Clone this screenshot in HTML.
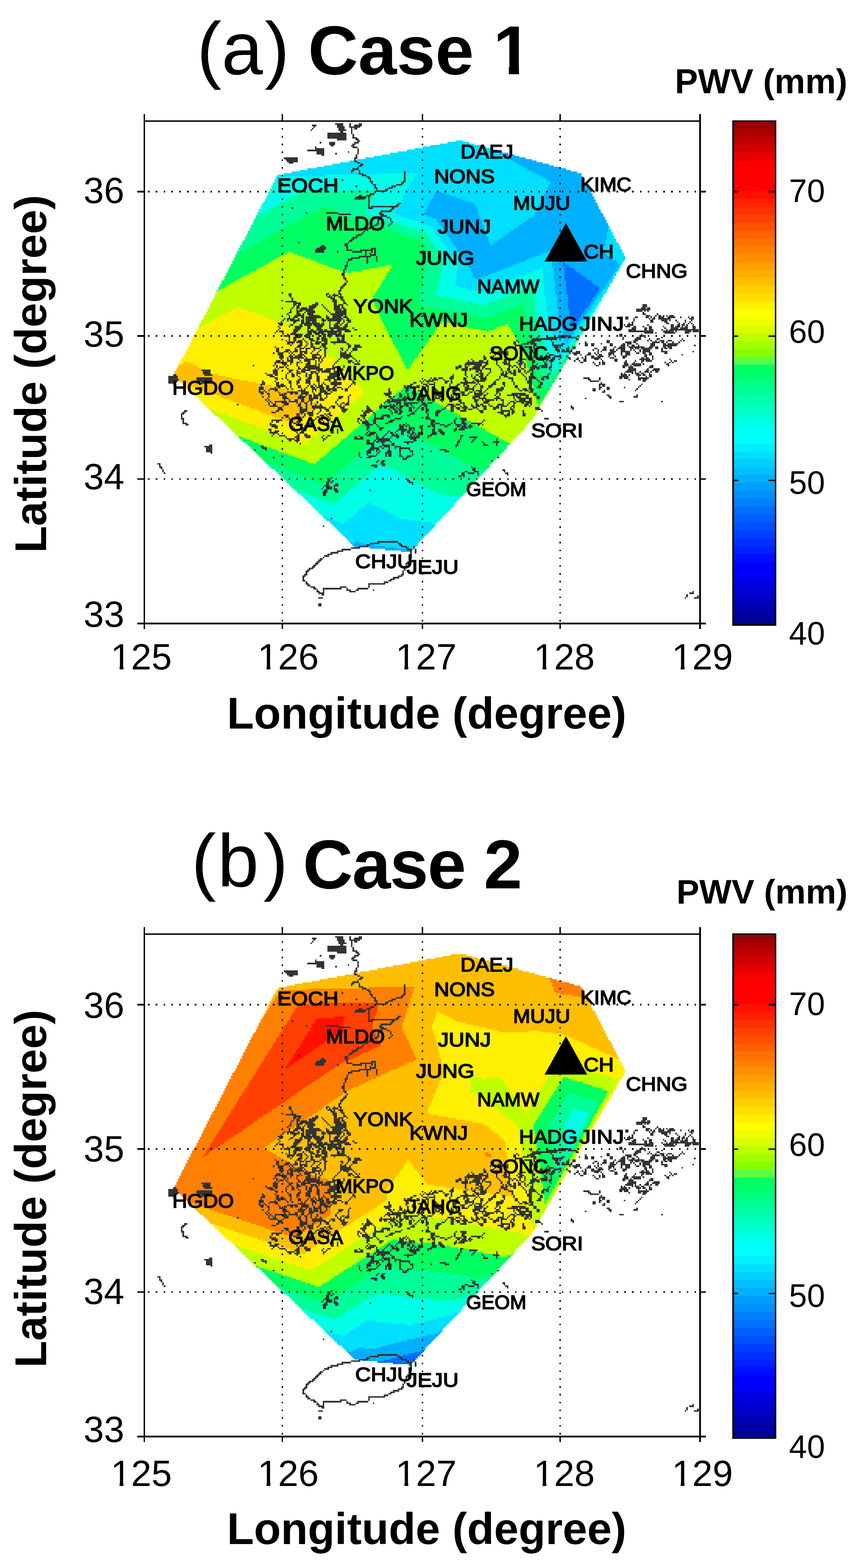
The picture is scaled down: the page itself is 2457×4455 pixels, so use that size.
<!DOCTYPE html>
<html lang="en"><head><meta charset="utf-8"><title>PWV maps: Case 1 and Case 2</title>
<style>html,body{margin:0;padding:0;background:#fff}body{width:2457px;height:4455px;overflow:hidden}svg{display:block;font-family:"Liberation Sans", sans-serif;fill:#000}</style></head><body>
<svg width="2457" height="4455" viewBox="0 0 2457 4455">
<defs>
<clipPath id="c0"><rect x="855" y="14" width="543.6" height="256.1"/><rect x="1398.6" y="14" width="75.4" height="175.3"/><rect x="1445.4" y="188.3" width="28.6" height="24.7"/></clipPath>
<clipPath id="c1"><rect x="312.5" y="1798" width="38.1" height="94.9"/><rect x="339.8" y="1891.9" width="10.8" height="12.1"/><rect x="371.3" y="1798" width="135.6" height="135.2"/></clipPath>
<clipPath id="c2"><rect x="729.8" y="1798" width="38.1" height="94.9"/><rect x="757.1" y="1891.9" width="10.8" height="12.1"/><rect x="788.6" y="1798" width="135.6" height="135.2"/></clipPath>
<clipPath id="c3"><rect x="1121.5" y="1798" width="38.1" height="94.9"/><rect x="1148.8" y="1891.9" width="10.8" height="12.1"/><rect x="1180.3" y="1798" width="135.6" height="135.2"/></clipPath>
<clipPath id="c4"><rect x="1513.8" y="1798" width="38.1" height="94.9"/><rect x="1541.1" y="1891.9" width="10.8" height="12.1"/><rect x="1572.6" y="1798" width="135.6" height="135.2"/></clipPath>
<clipPath id="c5"><rect x="1906.3" y="1798" width="38.1" height="94.9"/><rect x="1933.6" y="1891.9" width="10.8" height="12.1"/><rect x="1965.1" y="1798" width="135.6" height="135.2"/></clipPath>
<clipPath id="c6"><rect x="312.5" y="1808" width="38.1" height="94.9"/><rect x="339.8" y="1901.9" width="10.8" height="12.1"/><rect x="371.3" y="1808" width="135.6" height="135.2"/></clipPath>
<clipPath id="c7"><rect x="729.8" y="1808" width="38.1" height="94.9"/><rect x="757.1" y="1901.9" width="10.8" height="12.1"/><rect x="788.6" y="1808" width="135.6" height="135.2"/></clipPath>
<clipPath id="c8"><rect x="1121.5" y="1808" width="38.1" height="94.9"/><rect x="1148.8" y="1901.9" width="10.8" height="12.1"/><rect x="1180.3" y="1808" width="135.6" height="135.2"/></clipPath>
<clipPath id="c9"><rect x="1513.8" y="1808" width="38.1" height="94.9"/><rect x="1541.1" y="1901.9" width="10.8" height="12.1"/><rect x="1572.6" y="1808" width="135.6" height="135.2"/></clipPath>
<clipPath id="c10"><rect x="1906.3" y="1808" width="38.1" height="94.9"/><rect x="1933.6" y="1901.9" width="10.8" height="12.1"/><rect x="1965.1" y="1808" width="135.6" height="135.2"/></clipPath>
<g id="coast"><path d="M952.4 350h22.2v4.4h-22.2zM992.3 350h4.4v4.4h-4.4zM1018.9 350h8.9v4.4h-8.9zM886 354.4h13.3v4.4h-13.3zM956.9 354.4h17.7v4.4h-17.7zM992.3 354.4h4.4v4.4h-4.4zM1005.6 354.4h22.2v4.4h-22.2zM890.4 358.8h4.5v4.5h-4.5zM956.9 358.8h22.1v4.5h-22.1zM992.3 358.8h31v4.5h-31zM886 363.3h4.4v4.4h-4.4zM961.3 363.3h17.7v4.4h-17.7zM996.7 363.3h4.5v4.4h-4.5zM1005.6 363.3h8.9v4.4h-8.9zM881.6 367.7h4.4v4.4h-4.4zM961.3 367.7h22.2v4.4h-22.2zM996.7 367.7h4.5v4.4h-4.5zM965.7 372.1h8.9v4.4h-8.9zM996.7 372.1h4.5v4.4h-4.5zM930.3 376.5h53.2v4.5h-53.2zM996.7 376.5h4.5v4.5h-4.5zM930.3 381h53.2v4.4h-53.2zM1001.2 381h4.4v4.4h-4.4zM930.3 385.4h53.2v4.4h-53.2zM1001.2 385.4h4.4v4.4h-4.4zM930.3 389.8h53.2v4.5h-53.2zM1001.2 389.8h13.3v4.5h-13.3zM956.9 394.3h26.6v4.4h-26.6zM1010 394.3h8.9v4.4h-8.9zM1014.5 398.7h8.8v4.4h-8.8zM908.1 403.1h4.5v4.5h-4.5zM934.7 403.1h17.7v4.5h-17.7zM1005.6 403.1h13.3v4.5h-13.3zM934.7 407.6h17.7v4.4h-17.7zM1001.2 407.6h8.8v4.4h-8.8zM939.2 412h8.8v4.4h-8.8zM996.7 412h8.9v4.4h-8.9zM894.9 416.4h4.4v4.4h-4.4zM1001.2 416.4h13.3v4.4h-13.3zM894.9 420.8h26.5v4.5h-26.5zM1014.5 420.8h4.4v4.5h-4.4zM872.7 425.3h48.7v4.4h-48.7zM1014.5 425.3h4.4v4.4h-4.4zM899.3 429.7h22.1v4.4h-22.1zM987.9 429.7h4.4v4.4h-4.4zM1014.5 429.7h4.4v4.4h-4.4zM899.3 434.1h22.1v4.5h-22.1zM952.4 434.1h4.5v4.5h-4.5zM1014.5 434.1h4.4v4.5h-4.4zM912.6 438.6h8.8v4.4h-8.8zM1010 438.6h4.5v4.4h-4.5zM1010 443h4.5v4.4h-4.5zM806.3 447.4h39.8v4.5h-39.8zM1005.6 447.4h8.9v4.5h-8.9zM810.7 451.9h35.4v4.4h-35.4zM1005.6 451.9h4.4v4.4h-4.4zM815.1 456.3h31v4.4h-31zM1005.6 456.3h8.9v4.4h-8.9zM819.5 460.7h13.3v4.4h-13.3zM1014.5 460.7h8.8v4.4h-8.8zM1023.3 465.1h8.9v4.5h-8.9zM1018.9 469.6h8.9v4.4h-8.9zM1014.5 474h4.4v4.4h-4.4zM1001.2 478.4h17.7v4.5h-17.7zM996.7 482.9h8.9v4.4h-8.9zM1018.9 482.9h4.4v4.4h-4.4zM996.7 487.3h4.5v4.4h-4.5zM1018.9 487.3h4.4v4.4h-4.4zM1147.4 487.3h4.4v4.4h-4.4zM1018.9 491.7h13.3v4.5h-13.3zM1147.4 491.7h4.4v4.5h-4.4zM1027.8 496.2h13.2v4.4h-13.2zM1147.4 496.2h4.4v4.4h-4.4zM1041 500.6h8.9v4.4h-8.9zM1147.4 500.6h4.4v4.4h-4.4zM1045.5 505h8.8v4.4h-8.8zM1147.4 505h4.4v4.4h-4.4zM970.2 509.4h4.4v4.5h-4.4zM1049.9 509.4h4.4v4.5h-4.4zM1147.4 509.4h4.4v4.5h-4.4zM1049.9 513.9h8.9v4.4h-8.9zM1142.9 513.9h8.9v4.4h-8.9zM1054.3 518.3h4.5v4.4h-4.5zM1138.5 518.3h8.9v4.4h-8.9zM1058.8 522.7h8.8v4.5h-8.8zM1125.2 522.7h17.7v4.5h-17.7zM1010 527.2h4.5v4.4h-4.5zM1063.2 527.2h4.4v4.4h-4.4zM1111.9 527.2h13.3v4.4h-13.3zM1063.2 531.6h8.9v4.4h-8.9zM1103.1 531.6h13.3v4.4h-13.3zM1067.6 536h4.5v4.5h-4.5zM1094.2 536h8.9v4.5h-8.9zM1067.6 540.5h31v4.4h-31zM1063.2 544.9h4.4v4.4h-4.4zM1049.9 549.3h13.3v4.5h-13.3zM1018.9 553.8h8.9v4.4h-8.9zM1041 553.8h13.3v4.4h-13.3zM1010 558.2h31v4.4h-31zM1045.5 558.2h4.4v4.4h-4.4zM1005.6 562.6h31v4.4h-31zM1045.5 562.6h4.4v4.4h-4.4zM1045.5 567h4.4v4.5h-4.4zM1045.5 571.5h4.4v4.4h-4.4zM1045.5 575.9h4.4v4.4h-4.4zM1129.6 575.9h8.9v4.4h-8.9zM1045.5 580.3h4.4v4.5h-4.4zM1125.2 580.3h8.9v4.5h-8.9zM1045.5 584.8h4.4v4.4h-4.4zM1054.3 584.8h75.3v4.4h-75.3zM828.4 589.2h4.4v4.4h-4.4zM1045.5 589.2h13.3v4.4h-13.3zM1111.9 589.2h8.9v4.4h-8.9zM1107.5 593.6h8.9v4.4h-8.9zM1080.9 598h31v4.5h-31zM868.3 602.5h4.4v4.4h-4.4zM925.9 602.5h35.4v4.4h-35.4zM1076.5 602.5h8.8v4.4h-8.8zM961.3 606.9h35.4v4.4h-35.4zM1076.5 606.9h13.3v4.4h-13.3zM1080.9 611.3h17.7v4.5h-17.7zM1076.5 615.8h8.8v4.4h-8.8zM1098.6 615.8h8.9v4.4h-8.9zM1072.1 620.2h8.8v4.4h-8.8zM1107.5 620.2h4.4v4.4h-4.4zM1072.1 624.6h4.4v4.5h-4.4zM1107.5 624.6h4.4v4.5h-4.4zM1072.1 629.1h4.4v4.4h-4.4zM1111.9 629.1h4.5v4.4h-4.5zM1067.6 633.5h8.9v4.4h-8.9zM1107.5 633.5h4.4v4.4h-4.4zM1063.2 637.9h8.9v4.4h-8.9zM1103.1 637.9h4.4v4.4h-4.4zM1049.9 642.3h13.3v4.5h-13.3zM1041 646.8h13.3v4.4h-13.3zM1036.6 651.2h8.9v4.4h-8.9zM1032.2 655.6h4.4v4.5h-4.4zM1027.8 660.1h4.4v4.4h-4.4zM1014.5 664.5h13.3v4.4h-13.3zM1010 668.9h8.9v4.5h-8.9zM1001.2 673.4h13.3v4.4h-13.3zM996.7 677.8h8.9v4.4h-8.9zM992.3 682.2h8.9v4.4h-8.9zM846.1 686.6h4.5v4.5h-4.5zM987.9 686.6h4.4v4.5h-4.4zM979 691.1h8.9v4.4h-8.9zM912.6 695.5h8.8v4.4h-8.8zM979 695.5h8.9v4.4h-8.9zM908.1 699.9h17.8v4.5h-17.8zM983.5 699.9h4.4v4.5h-4.4zM899.3 704.4h26.6v4.4h-26.6zM983.5 704.4h4.4v4.4h-4.4zM1054.3 704.4h13.3v4.4h-13.3zM894.9 708.8h26.5v4.4h-26.5zM983.5 708.8h17.7v4.4h-17.7zM1023.3 708.8h35.5v4.4h-35.5zM1063.2 708.8h4.4v4.4h-4.4zM894.9 713.2h26.5v4.5h-26.5zM956.9 713.2h4.4v4.5h-4.4zM1001.2 713.2h26.6v4.5h-26.6zM1036.6 713.2h4.4v4.5h-4.4zM1054.3 713.2h4.5v4.5h-4.5zM1063.2 713.2h4.4v4.5h-4.4zM1036.6 717.7h4.4v4.4h-4.4zM1049.9 717.7h4.4v4.4h-4.4zM1063.2 717.7h4.4v4.4h-4.4zM1036.6 722.1h4.4v4.4h-4.4zM1049.9 722.1h17.7v4.4h-17.7zM1018.9 726.5h35.4v4.4h-35.4zM1067.6 726.5h4.5v4.4h-4.5zM996.7 730.9h26.6v4.5h-26.6zM1041 730.9h4.5v4.5h-4.5zM1067.6 730.9h4.5v4.5h-4.5zM987.9 735.4h13.3v4.4h-13.3zM1041 735.4h4.5v4.4h-4.5zM1067.6 735.4h4.5v4.4h-4.5zM987.9 739.8h4.4v4.4h-4.4zM1041 739.8h4.5v4.4h-4.5zM1067.6 739.8h4.5v4.4h-4.5zM983.5 744.2h4.4v4.5h-4.4zM1041 744.2h4.5v4.5h-4.5zM983.5 748.7h4.4v4.4h-4.4zM979 753.1h8.9v4.4h-8.9zM979 757.5h4.5v4.5h-4.5zM979 762h4.5v4.4h-4.5zM974.6 766.4h4.4v4.4h-4.4zM974.6 770.8h4.4v4.4h-4.4zM970.2 775.2h8.8v4.5h-8.8zM970.2 779.7h8.8v4.4h-8.8zM974.6 784.1h4.4v4.4h-4.4zM974.6 788.5h8.9v4.5h-8.9zM979 793h4.5v4.4h-4.5zM983.5 797.4h4.4v4.4h-4.4zM979 801.8h4.5v4.5h-4.5zM974.6 806.3h8.9v4.4h-8.9zM970.2 810.7h8.8v4.4h-8.8zM965.7 815.1h8.9v4.4h-8.9zM965.7 819.5h4.5v4.5h-4.5zM961.3 824h8.9v4.4h-8.9zM961.3 828.4h4.4v4.4h-4.4zM819.5 832.8h8.9v4.5h-8.9zM925.9 832.8h8.8v4.5h-8.8zM948 832.8h4.4v4.5h-4.4zM961.3 832.8h8.9v4.5h-8.9zM819.5 837.3h8.9v4.4h-8.9zM925.9 837.3h4.4v4.4h-4.4zM934.7 837.3h4.5v4.4h-4.5zM943.6 837.3h17.7v4.4h-17.7zM965.7 837.3h4.5v4.4h-4.5zM824 841.7h4.4v4.4h-4.4zM930.3 841.7h13.3v4.4h-13.3zM948 841.7h4.4v4.4h-4.4zM961.3 841.7h13.3v4.4h-13.3zM828.4 846.1h4.4v4.5h-4.4zM939.2 846.1h13.2v4.5h-13.2zM965.7 846.1h8.9v4.5h-8.9zM828.4 850.6h4.4v4.4h-4.4zM943.6 850.6h13.3v4.4h-13.3zM970.2 850.6h8.8v4.4h-8.8zM810.7 855h31v4.4h-31zM943.6 855h13.3v4.4h-13.3zM974.6 855h4.4v4.4h-4.4zM832.8 859.4h22.2v4.4h-22.2zM894.9 859.4h8.8v4.4h-8.8zM948 859.4h8.9v4.4h-8.9zM974.6 859.4h8.9v4.4h-8.9zM832.8 863.8h8.9v4.5h-8.9zM846.1 863.8h8.9v4.5h-8.9zM886 863.8h17.7v4.5h-17.7zM912.6 863.8h4.4v4.5h-4.4zM948 863.8h8.9v4.5h-8.9zM961.3 863.8h13.3v4.5h-13.3zM983.5 863.8h4.4v4.5h-4.4zM1825.2 863.8h13.2v4.5h-13.2zM832.8 868.3h4.5v4.4h-4.5zM841.7 868.3h8.9v4.4h-8.9zM877.1 868.3h22.2v4.4h-22.2zM917 868.3h4.4v4.4h-4.4zM948 868.3h17.7v4.4h-17.7zM970.2 868.3h4.4v4.4h-4.4zM1825.2 868.3h13.2v4.4h-13.2zM828.4 872.7h4.4v4.4h-4.4zM841.7 872.7h8.9v4.4h-8.9zM855 872.7h17.7v4.4h-17.7zM877.1 872.7h17.8v4.4h-17.8zM921.4 872.7h4.5v4.4h-4.5zM948 872.7h17.7v4.4h-17.7zM970.2 872.7h8.8v4.4h-8.8zM1820.7 872.7h13.3v4.4h-13.3zM1838.4 872.7h8.9v4.4h-8.9zM824 877.1h4.4v4.5h-4.4zM841.7 877.1h4.4v4.5h-4.4zM850.6 877.1h39.8v4.5h-39.8zM925.9 877.1h4.4v4.5h-4.4zM948 877.1h22.2v4.5h-22.2zM974.6 877.1h8.9v4.5h-8.9zM1807.4 877.1h39.9v4.5h-39.9zM824 881.6h4.4v4.4h-4.4zM841.7 881.6h17.7v4.4h-17.7zM868.3 881.6h26.6v4.4h-26.6zM930.3 881.6h4.4v4.4h-4.4zM952.4 881.6h31.1v4.4h-31.1zM1807.4 881.6h17.8v4.4h-17.8zM1829.6 881.6h4.4v4.4h-4.4zM1838.4 881.6h4.5v4.4h-4.5zM819.5 886h8.9v4.4h-8.9zM841.7 886h8.9v4.4h-8.9zM863.8 886h4.5v4.4h-4.5zM872.7 886h22.2v4.4h-22.2zM934.7 886h4.5v4.4h-4.5zM952.4 886h31.1v4.4h-31.1zM1825.2 886h4.4v4.4h-4.4zM815.1 890.4h4.4v4.5h-4.4zM841.7 890.4h13.3v4.5h-13.3zM859.4 890.4h4.4v4.5h-4.4zM872.7 890.4h17.7v4.5h-17.7zM939.2 890.4h44.3v4.5h-44.3zM1825.2 890.4h8.8v4.5h-8.8zM1865 890.4h4.5v4.5h-4.5zM819.5 894.9h4.5v4.4h-4.5zM837.3 894.9h26.5v4.4h-26.5zM877.1 894.9h31v4.4h-31zM925.9 894.9h4.4v4.4h-4.4zM943.6 894.9h31v4.4h-31zM979 894.9h4.5v4.4h-4.5zM1834 894.9h13.3v4.4h-13.3zM1860.6 894.9h4.4v4.4h-4.4zM1869.5 894.9h8.8v4.4h-8.8zM1882.7 894.9h4.5v4.4h-4.5zM1891.6 894.9h4.4v4.4h-4.4zM1900.5 894.9h13.3v4.4h-13.3zM819.5 899.3h4.5v4.4h-4.5zM832.8 899.3h13.3v4.4h-13.3zM855 899.3h8.8v4.4h-8.8zM868.3 899.3h44.3v4.4h-44.3zM925.9 899.3h8.8v4.4h-8.8zM943.6 899.3h26.6v4.4h-26.6zM974.6 899.3h13.3v4.4h-13.3zM1776.4 899.3h8.9v4.4h-8.9zM1803 899.3h8.9v4.4h-8.9zM1834 899.3h8.9v4.4h-8.9zM1847.3 899.3h4.4v4.4h-4.4zM1856.2 899.3h4.4v4.4h-4.4zM1869.5 899.3h17.7v4.4h-17.7zM1896 899.3h22.2v4.4h-22.2zM1931.5 899.3h4.4v4.4h-4.4zM1953.6 899.3h4.5v4.4h-4.5zM1962.5 899.3h8.8v4.4h-8.8zM806.3 903.7h4.4v4.4h-4.4zM815.1 903.7h22.2v4.4h-22.2zM846.1 903.7h4.5v4.4h-4.5zM859.4 903.7h4.4v4.4h-4.4zM868.3 903.7h31v4.4h-31zM912.6 903.7h8.8v4.4h-8.8zM925.9 903.7h48.7v4.4h-48.7zM983.5 903.7h8.8v4.4h-8.8zM1776.4 903.7h8.9v4.4h-8.9zM1798.6 903.7h4.4v4.4h-4.4zM1842.9 903.7h4.4v4.4h-4.4zM1851.7 903.7h8.9v4.4h-8.9zM1869.5 903.7h35.4v4.4h-35.4zM1958.1 903.7h13.2v4.4h-13.2zM801.8 908.1h4.5v4.5h-4.5zM815.1 908.1h4.4v4.5h-4.4zM824 908.1h26.6v4.5h-26.6zM855 908.1h8.8v4.5h-8.8zM868.3 908.1h31v4.5h-31zM912.6 908.1h13.3v4.5h-13.3zM930.3 908.1h39.9v4.5h-39.9zM974.6 908.1h4.4v4.5h-4.4zM983.5 908.1h13.2v4.5h-13.2zM1798.6 908.1h4.4v4.5h-4.4zM1847.3 908.1h8.9v4.5h-8.9zM1878.3 908.1h17.7v4.5h-17.7zM1900.5 908.1h4.4v4.5h-4.4zM1918.2 908.1h4.4v4.5h-4.4zM1944.8 908.1h4.4v4.5h-4.4zM1962.5 908.1h4.4v4.5h-4.4zM797.4 912.6h4.4v4.4h-4.4zM832.8 912.6h8.9v4.4h-8.9zM855 912.6h8.8v4.4h-8.8zM868.3 912.6h13.3v4.4h-13.3zM886 912.6h13.3v4.4h-13.3zM917 912.6h4.4v4.4h-4.4zM934.7 912.6h4.5v4.4h-4.5zM956.9 912.6h8.8v4.4h-8.8zM974.6 912.6h4.4v4.4h-4.4zM987.9 912.6h8.8v4.4h-8.8zM1794.1 912.6h4.5v4.4h-4.5zM1847.3 912.6h8.9v4.4h-8.9zM1887.2 912.6h8.8v4.4h-8.8zM1922.6 912.6h4.4v4.4h-4.4zM1944.8 912.6h4.4v4.4h-4.4zM1958.1 912.6h4.4v4.4h-4.4zM788.5 917h13.3v4.4h-13.3zM832.8 917h4.5v4.4h-4.5zM855 917h53.1v4.4h-53.1zM912.6 917h8.8v4.4h-8.8zM934.7 917h4.5v4.4h-4.5zM952.4 917h13.3v4.4h-13.3zM970.2 917h4.4v4.4h-4.4zM983.5 917h4.4v4.4h-4.4zM1785.3 917h4.4v4.4h-4.4zM1794.1 917h4.5v4.4h-4.5zM1891.6 917h8.9v4.4h-8.9zM1927 917h4.5v4.4h-4.5zM1940.3 917h4.5v4.4h-4.5zM1953.6 917h4.5v4.4h-4.5zM1962.5 917h4.4v4.4h-4.4zM793 921.4h8.8v4.5h-8.8zM824 921.4h8.8v4.5h-8.8zM850.6 921.4h8.8v4.5h-8.8zM863.8 921.4h22.2v4.5h-22.2zM890.4 921.4h31v4.5h-31zM934.7 921.4h4.5v4.5h-4.5zM948 921.4h13.3v4.5h-13.3zM965.7 921.4h4.5v4.5h-4.5zM979 921.4h8.9v4.5h-8.9zM1772 921.4h4.4v4.5h-4.4zM1780.9 921.4h17.7v4.5h-17.7zM1838.4 921.4h4.5v4.5h-4.5zM1904.9 921.4h8.9v4.5h-8.9zM1922.6 921.4h8.9v4.5h-8.9zM1935.9 921.4h8.9v4.5h-8.9zM1949.2 921.4h4.4v4.5h-4.4zM1966.9 921.4h4.4v4.5h-4.4zM788.5 925.9h4.5v4.4h-4.5zM819.5 925.9h4.5v4.4h-4.5zM837.3 925.9h22.1v4.4h-22.1zM872.7 925.9h8.9v4.4h-8.9zM894.9 925.9h22.1v4.4h-22.1zM934.7 925.9h4.5v4.4h-4.5zM948 925.9h17.7v4.4h-17.7zM974.6 925.9h13.3v4.4h-13.3zM1776.4 925.9h13.3v4.4h-13.3zM1798.6 925.9h8.8v4.4h-8.8zM1825.2 925.9h4.4v4.4h-4.4zM1842.9 925.9h8.8v4.4h-8.8zM1882.7 925.9h4.5v4.4h-4.5zM1904.9 925.9h8.9v4.4h-8.9zM1918.2 925.9h13.3v4.4h-13.3zM1935.9 925.9h4.4v4.4h-4.4zM1944.8 925.9h8.8v4.4h-8.8zM1966.9 925.9h8.9v4.4h-8.9zM793 930.3h4.4v4.4h-4.4zM837.3 930.3h17.7v4.4h-17.7zM872.7 930.3h8.9v4.4h-8.9zM899.3 930.3h13.3v4.4h-13.3zM934.7 930.3h48.8v4.4h-48.8zM1001.2 930.3h4.4v4.4h-4.4zM1794.1 930.3h13.3v4.4h-13.3zM1829.6 930.3h8.8v4.4h-8.8zM1842.9 930.3h8.8v4.4h-8.8zM1887.2 930.3h4.4v4.4h-4.4zM1904.9 930.3h22.1v4.4h-22.1zM1931.5 930.3h22.1v4.4h-22.1zM1966.9 930.3h8.9v4.4h-8.9zM788.5 934.7h4.5v4.5h-4.5zM832.8 934.7h17.8v4.5h-17.8zM872.7 934.7h4.4v4.5h-4.4zM881.6 934.7h8.8v4.5h-8.8zM899.3 934.7h17.7v4.5h-17.7zM921.4 934.7h8.9v4.5h-8.9zM939.2 934.7h8.8v4.5h-8.8zM956.9 934.7h35.4v4.5h-35.4zM1005.6 934.7h8.9v4.5h-8.9zM1785.3 934.7h22.1v4.5h-22.1zM1829.6 934.7h8.8v4.5h-8.8zM1842.9 934.7h13.3v4.5h-13.3zM1878.3 934.7h4.4v4.5h-4.4zM1891.6 934.7h4.4v4.5h-4.4zM1900.5 934.7h84.1v4.5h-84.1zM784.1 939.2h4.4v4.4h-4.4zM793 939.2h13.3v4.4h-13.3zM832.8 939.2h13.3v4.4h-13.3zM872.7 939.2h26.6v4.4h-26.6zM903.7 939.2h66.5v4.4h-66.5zM979 939.2h17.7v4.4h-17.7zM1785.3 939.2h70.9v4.4h-70.9zM1882.7 939.2h31.1v4.4h-31.1zM1918.2 939.2h4.4v4.4h-4.4zM1944.8 939.2h17.7v4.4h-17.7zM1966.9 939.2h17.7v4.4h-17.7zM779.7 943.6h4.4v4.4h-4.4zM801.8 943.6h4.5v4.4h-4.5zM828.4 943.6h13.3v4.4h-13.3zM872.7 943.6h13.3v4.4h-13.3zM890.4 943.6h31v4.4h-31zM930.3 943.6h26.6v4.4h-26.6zM961.3 943.6h8.9v4.4h-8.9zM1829.6 943.6h26.6v4.4h-26.6zM1860.6 943.6h4.4v4.4h-4.4zM1887.2 943.6h31v4.4h-31zM1944.8 943.6h13.3v4.4h-13.3zM801.8 948h4.5v4.4h-4.5zM815.1 948h4.4v4.4h-4.4zM824 948h35.4v4.4h-35.4zM868.3 948h17.7v4.4h-17.7zM894.9 948h13.2v4.4h-13.2zM912.6 948h13.3v4.4h-13.3zM930.3 948h39.9v4.4h-39.9zM974.6 948h4.4v4.4h-4.4zM1758.7 948h8.9v4.4h-8.9zM1820.7 948h4.5v4.4h-4.5zM806.3 952.4h17.7v4.5h-17.7zM837.3 952.4h22.1v4.5h-22.1zM868.3 952.4h13.3v4.5h-13.3zM903.7 952.4h4.4v4.5h-4.4zM917 952.4h8.9v4.5h-8.9zM930.3 952.4h13.3v4.5h-13.3zM956.9 952.4h17.7v4.5h-17.7zM1501.8 952.4h4.4v4.5h-4.4zM1585.9 952.4h31v4.5h-31zM1758.7 952.4h8.9v4.5h-8.9zM1816.3 952.4h17.7v4.5h-17.7zM819.5 956.9h4.5v4.4h-4.5zM832.8 956.9h22.2v4.4h-22.2zM868.3 956.9h13.3v4.4h-13.3zM899.3 956.9h8.8v4.4h-8.8zM912.6 956.9h13.3v4.4h-13.3zM934.7 956.9h4.5v4.4h-4.5zM956.9 956.9h4.4v4.4h-4.4zM970.2 956.9h8.8v4.4h-8.8zM1506.2 956.9h4.4v4.4h-4.4zM1523.9 956.9h4.4v4.4h-4.4zM1550.5 956.9h57.6v4.4h-57.6zM1612.5 956.9h26.6v4.4h-26.6zM1767.6 956.9h4.4v4.4h-4.4zM1807.4 956.9h13.3v4.4h-13.3zM1829.6 956.9h4.4v4.4h-4.4zM1878.3 956.9h4.4v4.4h-4.4zM819.5 961.3h4.5v4.4h-4.5zM832.8 961.3h8.9v4.4h-8.9zM859.4 961.3h4.4v4.4h-4.4zM877.1 961.3h13.3v4.4h-13.3zM899.3 961.3h8.8v4.4h-8.8zM912.6 961.3h17.7v4.4h-17.7zM956.9 961.3h8.8v4.4h-8.8zM970.2 961.3h8.8v4.4h-8.8zM1510.6 961.3h70.9v4.4h-70.9zM1634.7 961.3h8.8v4.4h-8.8zM1767.6 961.3h4.4v4.4h-4.4zM1803 961.3h17.7v4.4h-17.7zM1842.9 961.3h4.4v4.4h-4.4zM1865 961.3h8.9v4.4h-8.9zM1935.9 961.3h4.4v4.4h-4.4zM810.7 965.7h4.4v4.5h-4.4zM819.5 965.7h4.5v4.5h-4.5zM832.8 965.7h8.9v4.5h-8.9zM846.1 965.7h13.3v4.5h-13.3zM863.8 965.7h4.5v4.5h-4.5zM881.6 965.7h13.3v4.5h-13.3zM899.3 965.7h4.4v4.5h-4.4zM912.6 965.7h17.7v4.5h-17.7zM956.9 965.7h22.1v4.5h-22.1zM1466.3 965.7h4.5v4.5h-4.5zM1506.2 965.7h31v4.5h-31zM1563.8 965.7h4.4v4.5h-4.4zM1723.3 965.7h8.8v4.5h-8.8zM1798.6 965.7h13.3v4.5h-13.3zM1838.4 965.7h4.5v4.5h-4.5zM1847.3 965.7h4.4v4.5h-4.4zM1860.6 965.7h4.4v4.5h-4.4zM1873.9 965.7h13.3v4.5h-13.3zM1896 965.7h13.3v4.5h-13.3zM1931.5 965.7h4.4v4.5h-4.4zM1940.3 965.7h4.5v4.5h-4.5zM815.1 970.2h22.2v4.4h-22.2zM841.7 970.2h17.7v4.4h-17.7zM868.3 970.2h4.4v4.4h-4.4zM881.6 970.2h4.4v4.4h-4.4zM894.9 970.2h17.7v4.4h-17.7zM921.4 970.2h8.9v4.4h-8.9zM939.2 970.2h44.3v4.4h-44.3zM1457.5 970.2h8.8v4.4h-8.8zM1470.8 970.2h4.4v4.4h-4.4zM1497.3 970.2h22.2v4.4h-22.2zM1568.2 970.2h4.4v4.4h-4.4zM1661.2 970.2h4.5v4.4h-4.5zM1723.3 970.2h8.8v4.4h-8.8zM1776.4 970.2h17.7v4.4h-17.7zM1798.6 970.2h8.8v4.4h-8.8zM1851.7 970.2h22.2v4.4h-22.2zM1878.3 970.2h8.9v4.4h-8.9zM1891.6 970.2h4.4v4.4h-4.4zM1909.3 970.2h4.5v4.4h-4.5zM1927 970.2h4.5v4.4h-4.5zM815.1 974.6h8.9v4.4h-8.9zM828.4 974.6h4.4v4.4h-4.4zM850.6 974.6h8.8v4.4h-8.8zM872.7 974.6h4.4v4.4h-4.4zM881.6 974.6h8.8v4.4h-8.8zM894.9 974.6h13.2v4.4h-13.2zM912.6 974.6h17.7v4.4h-17.7zM948 974.6h4.4v4.4h-4.4zM983.5 974.6h8.8v4.4h-8.8zM1457.5 974.6h8.8v4.4h-8.8zM1484 974.6h17.8v4.4h-17.8zM1506.2 974.6h17.7v4.4h-17.7zM1568.2 974.6h4.4v4.4h-4.4zM1594.8 974.6h8.9v4.4h-8.9zM1643.5 974.6h4.5v4.4h-4.5zM1661.2 974.6h8.9v4.4h-8.9zM1679 974.6h8.8v4.4h-8.8zM1705.5 974.6h4.5v4.4h-4.5zM1732.1 974.6h8.9v4.4h-8.9zM1767.6 974.6h8.8v4.4h-8.8zM1780.9 974.6h13.2v4.4h-13.2zM1807.4 974.6h4.5v4.4h-4.5zM1847.3 974.6h13.3v4.4h-13.3zM1882.7 974.6h8.9v4.4h-8.9zM1896 974.6h31v4.4h-31zM824 979h4.4v4.5h-4.4zM846.1 979h13.3v4.5h-13.3zM868.3 979h4.4v4.5h-4.4zM881.6 979h8.8v4.5h-8.8zM912.6 979h13.3v4.5h-13.3zM987.9 979h8.8v4.5h-8.8zM1005.6 979h17.7v4.5h-17.7zM1461.9 979h22.1v4.5h-22.1zM1515.1 979h8.8v4.5h-8.8zM1568.2 979h31v4.5h-31zM1661.2 979h8.9v4.5h-8.9zM1679 979h8.8v4.5h-8.8zM1732.1 979h8.9v4.5h-8.9zM1763.1 979h13.3v4.5h-13.3zM1780.9 979h4.4v4.5h-4.4zM1794.1 979h8.9v4.5h-8.9zM1811.9 979h4.4v4.5h-4.4zM1847.3 979h13.3v4.5h-13.3zM1882.7 979h39.9v4.5h-39.9zM1971.3 979h4.5v4.5h-4.5zM779.7 983.5h4.4v4.4h-4.4zM841.7 983.5h13.3v4.4h-13.3zM863.8 983.5h4.5v4.4h-4.5zM881.6 983.5h13.3v4.4h-13.3zM908.1 983.5h4.5v4.4h-4.5zM917 983.5h8.9v4.4h-8.9zM987.9 983.5h8.8v4.4h-8.8zM1005.6 983.5h22.2v4.4h-22.2zM1461.9 983.5h4.4v4.4h-4.4zM1475.2 983.5h8.8v4.4h-8.8zM1488.5 983.5h17.7v4.4h-17.7zM1515.1 983.5h4.4v4.4h-4.4zM1523.9 983.5h8.9v4.4h-8.9zM1572.6 983.5h13.3v4.4h-13.3zM1612.5 983.5h4.4v4.4h-4.4zM1625.8 983.5h8.9v4.4h-8.9zM1714.4 983.5h8.9v4.4h-8.9zM1745.4 983.5h4.4v4.4h-4.4zM1758.7 983.5h17.7v4.4h-17.7zM1785.3 983.5h44.3v4.4h-44.3zM1842.9 983.5h13.3v4.4h-13.3zM1860.6 983.5h8.9v4.4h-8.9zM1882.7 983.5h8.9v4.4h-8.9zM1896 983.5h13.3v4.4h-13.3zM784.1 987.9h8.9v4.4h-8.9zM837.3 987.9h4.4v4.4h-4.4zM850.6 987.9h13.2v4.4h-13.2zM868.3 987.9h13.3v4.4h-13.3zM890.4 987.9h17.7v4.4h-17.7zM921.4 987.9h8.9v4.4h-8.9zM965.7 987.9h8.9v4.4h-8.9zM987.9 987.9h4.4v4.4h-4.4zM1001.2 987.9h13.3v4.4h-13.3zM1475.2 987.9h13.3v4.4h-13.3zM1506.2 987.9h4.4v4.4h-4.4zM1515.1 987.9h4.4v4.4h-4.4zM1528.3 987.9h4.5v4.4h-4.5zM1577.1 987.9h8.8v4.4h-8.8zM1608.1 987.9h8.8v4.4h-8.8zM1625.8 987.9h8.9v4.4h-8.9zM1687.8 987.9h8.9v4.4h-8.9zM1714.4 987.9h8.9v4.4h-8.9zM1741 987.9h4.4v4.4h-4.4zM1754.3 987.9h22.1v4.4h-22.1zM1789.7 987.9h8.9v4.4h-8.9zM1803 987.9h13.3v4.4h-13.3zM1820.7 987.9h31v4.4h-31zM1860.6 987.9h8.9v4.4h-8.9zM1878.3 987.9h4.4v4.4h-4.4zM1887.2 987.9h8.8v4.4h-8.8zM1900.5 987.9h8.8v4.4h-8.8zM784.1 992.3h8.9v4.4h-8.9zM810.7 992.3h13.3v4.4h-13.3zM837.3 992.3h8.8v4.4h-8.8zM850.6 992.3h4.4v4.4h-4.4zM868.3 992.3h4.4v4.4h-4.4zM890.4 992.3h4.5v4.4h-4.5zM908.1 992.3h4.5v4.4h-4.5zM921.4 992.3h4.5v4.4h-4.5zM970.2 992.3h4.4v4.4h-4.4zM983.5 992.3h4.4v4.4h-4.4zM1001.2 992.3h13.3v4.4h-13.3zM1399.9 992.3h4.4v4.4h-4.4zM1417.6 992.3h8.9v4.4h-8.9zM1510.6 992.3h4.5v4.4h-4.5zM1519.5 992.3h8.8v4.4h-8.8zM1577.1 992.3h13.3v4.4h-13.3zM1594.8 992.3h8.9v4.4h-8.9zM1608.1 992.3h8.8v4.4h-8.8zM1621.4 992.3h4.4v4.4h-4.4zM1683.4 992.3h4.4v4.4h-4.4zM1696.7 992.3h4.4v4.4h-4.4zM1710 992.3h13.3v4.4h-13.3zM1732.1 992.3h13.3v4.4h-13.3zM1749.8 992.3h4.5v4.4h-4.5zM1763.1 992.3h13.3v4.4h-13.3zM1789.7 992.3h4.4v4.4h-4.4zM1798.6 992.3h4.4v4.4h-4.4zM1816.3 992.3h4.4v4.4h-4.4zM1825.2 992.3h22.1v4.4h-22.1zM1878.3 992.3h4.4v4.4h-4.4zM784.1 996.7h8.9v4.5h-8.9zM806.3 996.7h13.2v4.5h-13.2zM824 996.7h4.4v4.5h-4.4zM832.8 996.7h13.3v4.5h-13.3zM850.6 996.7h22.1v4.5h-22.1zM886 996.7h4.4v4.5h-4.4zM903.7 996.7h4.4v4.5h-4.4zM921.4 996.7h4.5v4.5h-4.5zM965.7 996.7h4.5v4.5h-4.5zM979 996.7h4.5v4.5h-4.5zM996.7 996.7h4.5v4.5h-4.5zM1395.4 996.7h4.5v4.5h-4.5zM1413.2 996.7h17.7v4.5h-17.7zM1439.8 996.7h4.4v4.5h-4.4zM1510.6 996.7h4.5v4.5h-4.5zM1519.5 996.7h8.8v4.5h-8.8zM1581.5 996.7h8.9v4.5h-8.9zM1594.8 996.7h31v4.5h-31zM1634.7 996.7h13.3v4.5h-13.3zM1696.7 996.7h4.4v4.5h-4.4zM1705.5 996.7h4.5v4.5h-4.5zM1732.1 996.7h17.7v4.5h-17.7zM1763.1 996.7h26.6v4.5h-26.6zM1803 996.7h4.4v4.5h-4.4zM1816.3 996.7h4.4v4.5h-4.4zM1825.2 996.7h22.1v4.5h-22.1zM1878.3 996.7h17.7v4.5h-17.7zM1966.9 996.7h4.4v4.5h-4.4zM775.2 1001.2h4.5v4.4h-4.5zM788.5 1001.2h17.8v4.4h-17.8zM819.5 1001.2h4.5v4.4h-4.5zM828.4 1001.2h4.4v4.4h-4.4zM850.6 1001.2h8.8v4.4h-8.8zM863.8 1001.2h8.9v4.4h-8.9zM881.6 1001.2h4.4v4.4h-4.4zM899.3 1001.2h4.4v4.4h-4.4zM921.4 1001.2h4.5v4.4h-4.5zM965.7 1001.2h17.8v4.4h-17.8zM992.3 1001.2h4.4v4.4h-4.4zM1391 1001.2h4.4v4.4h-4.4zM1408.7 1001.2h35.5v4.4h-35.5zM1515.1 1001.2h4.4v4.4h-4.4zM1523.9 1001.2h4.4v4.4h-4.4zM1554.9 1001.2h4.5v4.4h-4.5zM1616.9 1001.2h4.5v4.4h-4.5zM1625.8 1001.2h22.2v4.4h-22.2zM1670.1 1001.2h8.9v4.4h-8.9zM1687.8 1001.2h4.5v4.4h-4.5zM1696.7 1001.2h4.4v4.4h-4.4zM1727.7 1001.2h17.7v4.4h-17.7zM1763.1 1001.2h4.5v4.4h-4.5zM1776.4 1001.2h13.3v4.4h-13.3zM1807.4 1001.2h8.9v4.4h-8.9zM1825.2 1001.2h8.8v4.4h-8.8zM1842.9 1001.2h8.8v4.4h-8.8zM1887.2 1001.2h8.8v4.4h-8.8zM788.5 1005.6h13.3v4.4h-13.3zM824 1005.6h4.4v4.4h-4.4zM832.8 1005.6h4.5v4.4h-4.5zM846.1 1005.6h17.7v4.4h-17.7zM886 1005.6h22.1v4.4h-22.1zM921.4 1005.6h4.5v4.4h-4.5zM965.7 1005.6h31v4.4h-31zM1404.3 1005.6h4.4v4.4h-4.4zM1435.3 1005.6h8.9v4.4h-8.9zM1519.5 1005.6h8.8v4.4h-8.8zM1550.5 1005.6h4.4v4.4h-4.4zM1559.4 1005.6h13.2v4.4h-13.2zM1630.2 1005.6h8.9v4.4h-8.9zM1648 1005.6h4.4v4.4h-4.4zM1665.7 1005.6h13.3v4.4h-13.3zM1692.3 1005.6h4.4v4.4h-4.4zM1701.1 1005.6h8.9v4.4h-8.9zM1727.7 1005.6h8.9v4.4h-8.9zM1741 1005.6h4.4v4.4h-4.4zM1763.1 1005.6h4.5v4.4h-4.5zM1776.4 1005.6h13.3v4.4h-13.3zM1829.6 1005.6h8.8v4.4h-8.8zM1842.9 1005.6h8.8v4.4h-8.8zM1935.9 1005.6h4.4v4.4h-4.4zM793 1010h13.3v4.5h-13.3zM819.5 1010h13.3v4.5h-13.3zM837.3 1010h22.1v4.5h-22.1zM863.8 1010h4.5v4.5h-4.5zM886 1010h13.3v4.5h-13.3zM908.1 1010h4.5v4.5h-4.5zM921.4 1010h4.5v4.5h-4.5zM965.7 1010h35.5v4.5h-35.5zM1373.3 1010h4.4v4.5h-4.4zM1399.9 1010h4.4v4.5h-4.4zM1515.1 1010h8.8v4.5h-8.8zM1532.8 1010h8.8v4.5h-8.8zM1550.5 1010h13.3v4.5h-13.3zM1572.6 1010h22.2v4.5h-22.2zM1608.1 1010h4.4v4.5h-4.4zM1661.2 1010h4.5v4.5h-4.5zM1679 1010h8.8v4.5h-8.8zM1696.7 1010h17.7v4.5h-17.7zM1727.7 1010h4.4v4.5h-4.4zM1745.4 1010h4.4v4.5h-4.4zM1767.6 1010h13.3v4.5h-13.3zM1829.6 1010h8.8v4.5h-8.8zM1851.7 1010h4.5v4.5h-4.5zM793 1014.5h13.3v4.4h-13.3zM815.1 1014.5h4.4v4.4h-4.4zM824 1014.5h39.8v4.4h-39.8zM868.3 1014.5h4.4v4.4h-4.4zM886 1014.5h26.6v4.4h-26.6zM917 1014.5h4.4v4.4h-4.4zM965.7 1014.5h4.5v4.4h-4.5zM974.6 1014.5h17.7v4.4h-17.7zM1001.2 1014.5h4.4v4.4h-4.4zM1373.3 1014.5h8.9v4.4h-8.9zM1404.3 1014.5h22.2v4.4h-22.2zM1475.2 1014.5h4.4v4.4h-4.4zM1510.6 1014.5h4.5v4.4h-4.5zM1523.9 1014.5h39.9v4.4h-39.9zM1568.2 1014.5h8.9v4.4h-8.9zM1590.4 1014.5h4.4v4.4h-4.4zM1612.5 1014.5h8.9v4.4h-8.9zM1639.1 1014.5h4.4v4.4h-4.4zM1652.4 1014.5h4.4v4.4h-4.4zM1661.2 1014.5h4.5v4.4h-4.5zM1679 1014.5h26.5v4.4h-26.5zM1732.1 1014.5h13.3v4.4h-13.3zM1767.6 1014.5h8.8v4.4h-8.8zM1820.7 1014.5h8.9v4.4h-8.9zM1834 1014.5h8.9v4.4h-8.9zM1851.7 1014.5h4.5v4.4h-4.5zM797.4 1018.9h4.4v4.4h-4.4zM815.1 1018.9h4.4v4.4h-4.4zM824 1018.9h8.8v4.4h-8.8zM846.1 1018.9h4.5v4.4h-4.5zM863.8 1018.9h31.1v4.4h-31.1zM903.7 1018.9h4.4v4.4h-4.4zM912.6 1018.9h4.4v4.4h-4.4zM961.3 1018.9h4.4v4.4h-4.4zM983.5 1018.9h4.4v4.4h-4.4zM1005.6 1018.9h4.4v4.4h-4.4zM1337.9 1018.9h4.4v4.4h-4.4zM1373.3 1018.9h8.9v4.4h-8.9zM1404.3 1018.9h22.2v4.4h-22.2zM1430.9 1018.9h17.7v4.4h-17.7zM1475.2 1018.9h4.4v4.4h-4.4zM1484 1018.9h8.9v4.4h-8.9zM1510.6 1018.9h4.5v4.4h-4.5zM1523.9 1018.9h8.9v4.4h-8.9zM1546.1 1018.9h13.3v4.4h-13.3zM1563.8 1018.9h13.3v4.4h-13.3zM1585.9 1018.9h4.5v4.4h-4.5zM1616.9 1018.9h4.5v4.4h-4.5zM1634.7 1018.9h8.8v4.4h-8.8zM1656.8 1018.9h8.9v4.4h-8.9zM1687.8 1018.9h13.3v4.4h-13.3zM1705.5 1018.9h4.5v4.4h-4.5zM1745.4 1018.9h8.9v4.4h-8.9zM1816.3 1018.9h31v4.4h-31zM1851.7 1018.9h4.5v4.4h-4.5zM1900.5 1018.9h4.4v4.4h-4.4zM784.1 1023.3h13.3v4.5h-13.3zM801.8 1023.3h4.5v4.5h-4.5zM815.1 1023.3h17.7v4.5h-17.7zM850.6 1023.3h4.4v4.5h-4.4zM863.8 1023.3h17.8v4.5h-17.8zM894.9 1023.3h4.4v4.5h-4.4zM903.7 1023.3h4.4v4.5h-4.4zM912.6 1023.3h4.4v4.5h-4.4zM956.9 1023.3h4.4v4.5h-4.4zM987.9 1023.3h13.3v4.5h-13.3zM1010 1023.3h4.5v4.5h-4.5zM1018.9 1023.3h4.4v4.5h-4.4zM1329 1023.3h4.4v4.5h-4.4zM1342.3 1023.3h4.4v4.5h-4.4zM1360 1023.3h13.3v4.5h-13.3zM1382.2 1023.3h4.4v4.5h-4.4zM1408.7 1023.3h4.5v4.5h-4.5zM1430.9 1023.3h8.9v4.5h-8.9zM1444.2 1023.3h4.4v4.5h-4.4zM1470.8 1023.3h13.2v4.5h-13.2zM1510.6 1023.3h8.9v4.5h-8.9zM1541.6 1023.3h4.5v4.5h-4.5zM1550.5 1023.3h4.4v4.5h-4.4zM1559.4 1023.3h13.2v4.5h-13.2zM1630.2 1023.3h4.5v4.5h-4.5zM1643.5 1023.3h4.5v4.5h-4.5zM1656.8 1023.3h8.9v4.5h-8.9zM1710 1023.3h4.4v4.5h-4.4zM1745.4 1023.3h8.9v4.5h-8.9zM1776.4 1023.3h4.5v4.5h-4.5zM1803 1023.3h4.4v4.5h-4.4zM1820.7 1023.3h8.9v4.5h-8.9zM1834 1023.3h17.7v4.5h-17.7zM1904.9 1023.3h4.4v4.5h-4.4zM1913.8 1023.3h8.8v4.5h-8.8zM779.7 1027.8h35.4v4.4h-35.4zM824 1027.8h8.8v4.4h-8.8zM841.7 1027.8h8.9v4.4h-8.9zM855 1027.8h4.4v4.4h-4.4zM872.7 1027.8h8.9v4.4h-8.9zM894.9 1027.8h4.4v4.4h-4.4zM908.1 1027.8h4.5v4.4h-4.5zM952.4 1027.8h4.5v4.4h-4.5zM987.9 1027.8h8.8v4.4h-8.8zM1001.2 1027.8h4.4v4.4h-4.4zM1014.5 1027.8h4.4v4.4h-4.4zM1324.6 1027.8h62v4.4h-62zM1408.7 1027.8h4.5v4.4h-4.5zM1426.5 1027.8h13.3v4.4h-13.3zM1444.2 1027.8h4.4v4.4h-4.4zM1466.3 1027.8h4.5v4.4h-4.5zM1475.2 1027.8h13.3v4.4h-13.3zM1510.6 1027.8h8.9v4.4h-8.9zM1546.1 1027.8h4.4v4.4h-4.4zM1563.8 1027.8h4.4v4.4h-4.4zM1648 1027.8h8.8v4.4h-8.8zM1683.4 1027.8h4.4v4.4h-4.4zM1701.1 1027.8h4.4v4.4h-4.4zM1710 1027.8h8.8v4.4h-8.8zM1772 1027.8h8.9v4.4h-8.9zM1798.6 1027.8h4.4v4.4h-4.4zM1820.7 1027.8h4.5v4.4h-4.5zM1887.2 1027.8h4.4v4.4h-4.4zM1900.5 1027.8h4.4v4.4h-4.4zM1909.3 1027.8h4.5v4.4h-4.5zM779.7 1032.2h4.4v4.4h-4.4zM801.8 1032.2h13.3v4.4h-13.3zM824 1032.2h4.4v4.4h-4.4zM841.7 1032.2h4.4v4.4h-4.4zM868.3 1032.2h13.3v4.4h-13.3zM894.9 1032.2h4.4v4.4h-4.4zM903.7 1032.2h4.4v4.4h-4.4zM948 1032.2h4.4v4.4h-4.4zM1005.6 1032.2h17.7v4.4h-17.7zM1320.1 1032.2h48.8v4.4h-48.8zM1377.7 1032.2h8.9v4.4h-8.9zM1408.7 1032.2h4.5v4.4h-4.5zM1430.9 1032.2h17.7v4.4h-17.7zM1470.8 1032.2h13.2v4.4h-13.2zM1488.5 1032.2h4.4v4.4h-4.4zM1510.6 1032.2h4.5v4.4h-4.5zM1523.9 1032.2h4.4v4.4h-4.4zM1546.1 1032.2h8.8v4.4h-8.8zM1563.8 1032.2h4.4v4.4h-4.4zM1687.8 1032.2h4.5v4.4h-4.5zM1701.1 1032.2h4.4v4.4h-4.4zM1710 1032.2h8.8v4.4h-8.8zM1772 1032.2h13.3v4.4h-13.3zM1794.1 1032.2h26.6v4.4h-26.6zM1825.2 1032.2h4.4v4.4h-4.4zM1891.6 1032.2h8.9v4.4h-8.9zM717.7 1036.6h4.4v4.4h-4.4zM775.2 1036.6h4.5v4.4h-4.5zM784.1 1036.6h4.4v4.4h-4.4zM806.3 1036.6h4.4v4.4h-4.4zM815.1 1036.6h4.4v4.4h-4.4zM841.7 1036.6h4.4v4.4h-4.4zM868.3 1036.6h31v4.4h-31zM903.7 1036.6h4.4v4.4h-4.4zM943.6 1036.6h4.4v4.4h-4.4zM974.6 1036.6h4.4v4.4h-4.4zM1302.4 1036.6h8.9v4.4h-8.9zM1320.1 1036.6h4.5v4.4h-4.5zM1329 1036.6h4.4v4.4h-4.4zM1346.7 1036.6h22.2v4.4h-22.2zM1373.3 1036.6h8.9v4.4h-8.9zM1413.2 1036.6h4.4v4.4h-4.4zM1444.2 1036.6h8.8v4.4h-8.8zM1457.5 1036.6h8.8v4.4h-8.8zM1475.2 1036.6h4.4v4.4h-4.4zM1488.5 1036.6h4.4v4.4h-4.4zM1510.6 1036.6h13.3v4.4h-13.3zM1532.8 1036.6h22.1v4.4h-22.1zM1563.8 1036.6h4.4v4.4h-4.4zM1692.3 1036.6h8.8v4.4h-8.8zM1767.6 1036.6h17.7v4.4h-17.7zM1789.7 1036.6h4.4v4.4h-4.4zM1798.6 1036.6h22.1v4.4h-22.1zM1847.3 1036.6h8.9v4.4h-8.9zM1896 1036.6h4.5v4.4h-4.5zM784.1 1041h4.4v4.5h-4.4zM793 1041h13.3v4.5h-13.3zM810.7 1041h4.4v4.5h-4.4zM846.1 1041h4.5v4.5h-4.5zM863.8 1041h44.3v4.5h-44.3zM943.6 1041h13.3v4.5h-13.3zM974.6 1041h4.4v4.5h-4.4zM1293.6 1041h17.7v4.5h-17.7zM1320.1 1041h8.9v4.5h-8.9zM1342.3 1041h22.1v4.5h-22.1zM1368.9 1041h8.8v4.5h-8.8zM1417.6 1041h4.4v4.5h-4.4zM1444.2 1041h4.4v4.5h-4.4zM1453 1041h4.5v4.5h-4.5zM1466.3 1041h4.5v4.5h-4.5zM1475.2 1041h4.4v4.5h-4.4zM1488.5 1041h4.4v4.5h-4.4zM1506.2 1041h26.6v4.5h-26.6zM1537.2 1041h17.7v4.5h-17.7zM1559.4 1041h8.8v4.5h-8.8zM1767.6 1041h8.8v4.5h-8.8zM1785.3 1041h13.3v4.5h-13.3zM1842.9 1041h13.3v4.5h-13.3zM779.7 1045.5h4.4v4.4h-4.4zM788.5 1045.5h4.5v4.4h-4.5zM815.1 1045.5h4.4v4.4h-4.4zM846.1 1045.5h8.9v4.4h-8.9zM859.4 1045.5h8.9v4.4h-8.9zM872.7 1045.5h44.3v4.4h-44.3zM925.9 1045.5h26.5v4.4h-26.5zM956.9 1045.5h4.4v4.4h-4.4zM970.2 1045.5h4.4v4.4h-4.4zM1293.6 1045.5h8.8v4.4h-8.8zM1311.3 1045.5h17.7v4.4h-17.7zM1333.4 1045.5h31v4.4h-31zM1368.9 1045.5h4.4v4.4h-4.4zM1377.7 1045.5h17.7v4.4h-17.7zM1422 1045.5h4.5v4.4h-4.5zM1439.8 1045.5h8.8v4.4h-8.8zM1470.8 1045.5h4.4v4.4h-4.4zM1479.6 1045.5h8.9v4.4h-8.9zM1506.2 1045.5h13.3v4.4h-13.3zM1523.9 1045.5h8.9v4.4h-8.9zM1559.4 1045.5h4.4v4.4h-4.4zM1785.3 1045.5h22.1v4.4h-22.1zM1838.4 1045.5h4.5v4.4h-4.5zM1856.2 1045.5h17.7v4.4h-17.7zM571.5 1049.9h26.5v4.4h-26.5zM775.2 1049.9h13.3v4.4h-13.3zM819.5 1049.9h13.3v4.4h-13.3zM841.7 1049.9h4.4v4.4h-4.4zM855 1049.9h26.6v4.4h-26.6zM899.3 1049.9h17.7v4.4h-17.7zM921.4 1049.9h17.8v4.4h-17.8zM948 1049.9h4.4v4.4h-4.4zM956.9 1049.9h17.7v4.4h-17.7zM1311.3 1049.9h17.7v4.4h-17.7zM1333.4 1049.9h4.5v4.4h-4.5zM1351.1 1049.9h17.8v4.4h-17.8zM1391 1049.9h4.4v4.4h-4.4zM1422 1049.9h4.5v4.4h-4.5zM1439.8 1049.9h8.8v4.4h-8.8zM1457.5 1049.9h8.8v4.4h-8.8zM1470.8 1049.9h8.8v4.4h-8.8zM1488.5 1049.9h4.4v4.4h-4.4zM1501.8 1049.9h13.3v4.4h-13.3zM1563.8 1049.9h4.4v4.4h-4.4zM1780.9 1049.9h26.5v4.4h-26.5zM1834 1049.9h8.9v4.4h-8.9zM1851.7 1049.9h22.2v4.4h-22.2zM575.9 1054.3h22.1v4.5h-22.1zM775.2 1054.3h13.3v4.5h-13.3zM819.5 1054.3h8.9v4.5h-8.9zM841.7 1054.3h8.9v4.5h-8.9zM855 1054.3h13.3v4.5h-13.3zM881.6 1054.3h17.7v4.5h-17.7zM903.7 1054.3h4.4v4.5h-4.4zM912.6 1054.3h26.6v4.5h-26.6zM948 1054.3h13.3v4.5h-13.3zM965.7 1054.3h4.5v4.5h-4.5zM1320.1 1054.3h4.5v4.5h-4.5zM1351.1 1054.3h8.9v4.5h-8.9zM1364.4 1054.3h4.5v4.5h-4.5zM1391 1054.3h4.4v4.5h-4.4zM1426.5 1054.3h4.4v4.5h-4.4zM1435.3 1054.3h4.5v4.5h-4.5zM1444.2 1054.3h8.8v4.5h-8.8zM1457.5 1054.3h8.8v4.5h-8.8zM1470.8 1054.3h8.8v4.5h-8.8zM1488.5 1054.3h4.4v4.5h-4.4zM1497.3 1054.3h4.5v4.5h-4.5zM1510.6 1054.3h4.5v4.5h-4.5zM1776.4 1054.3h22.2v4.5h-22.2zM1803 1054.3h4.4v4.5h-4.4zM1816.3 1054.3h4.4v4.5h-4.4zM1829.6 1054.3h13.3v4.5h-13.3zM1847.3 1054.3h4.4v4.5h-4.4zM1860.6 1054.3h8.9v4.5h-8.9zM575.9 1058.8h22.1v4.4h-22.1zM753.1 1058.8h4.4v4.4h-4.4zM775.2 1058.8h13.3v4.4h-13.3zM815.1 1058.8h4.4v4.4h-4.4zM828.4 1058.8h4.4v4.4h-4.4zM841.7 1058.8h13.3v4.4h-13.3zM868.3 1058.8h4.4v4.4h-4.4zM881.6 1058.8h8.8v4.4h-8.8zM894.9 1058.8h8.8v4.4h-8.8zM934.7 1058.8h35.5v4.4h-35.5zM1320.1 1058.8h4.5v4.4h-4.5zM1360 1058.8h13.3v4.4h-13.3zM1386.6 1058.8h4.4v4.4h-4.4zM1422 1058.8h8.9v4.4h-8.9zM1435.3 1058.8h8.9v4.4h-8.9zM1448.6 1058.8h17.7v4.4h-17.7zM1479.6 1058.8h4.4v4.4h-4.4zM1492.9 1058.8h4.4v4.4h-4.4zM1506.2 1058.8h8.9v4.4h-8.9zM1559.4 1058.8h4.4v4.4h-4.4zM1763.1 1058.8h4.5v4.4h-4.5zM1772 1058.8h4.4v4.4h-4.4zM1794.1 1058.8h4.5v4.4h-4.5zM1803 1058.8h13.3v4.4h-13.3zM1820.7 1058.8h8.9v4.4h-8.9zM1842.9 1058.8h4.4v4.4h-4.4zM491.7 1063.2h8.9v4.4h-8.9zM580.3 1063.2h22.2v4.4h-22.2zM757.5 1063.2h17.7v4.4h-17.7zM779.7 1063.2h8.8v4.4h-8.8zM810.7 1063.2h4.4v4.4h-4.4zM828.4 1063.2h8.9v4.4h-8.9zM841.7 1063.2h4.4v4.4h-4.4zM868.3 1063.2h4.4v4.4h-4.4zM877.1 1063.2h8.9v4.4h-8.9zM899.3 1063.2h4.4v4.4h-4.4zM934.7 1063.2h22.2v4.4h-22.2zM961.3 1063.2h4.4v4.4h-4.4zM1284.7 1063.2h4.4v4.4h-4.4zM1320.1 1063.2h4.5v4.4h-4.5zM1337.9 1063.2h4.4v4.4h-4.4zM1351.1 1063.2h8.9v4.4h-8.9zM1364.4 1063.2h8.9v4.4h-8.9zM1382.2 1063.2h4.4v4.4h-4.4zM1422 1063.2h17.8v4.4h-17.8zM1457.5 1063.2h8.8v4.4h-8.8zM1484 1063.2h4.5v4.4h-4.5zM1506.2 1063.2h8.9v4.4h-8.9zM1554.9 1063.2h4.5v4.4h-4.5zM1763.1 1063.2h17.8v4.4h-17.8zM1785.3 1063.2h4.4v4.4h-4.4zM1807.4 1063.2h13.3v4.4h-13.3zM1825.2 1063.2h8.8v4.4h-8.8zM1842.9 1063.2h8.8v4.4h-8.8zM478.4 1067.6h26.6v4.5h-26.6zM766.4 1067.6h13.3v4.5h-13.3zM810.7 1067.6h4.4v4.5h-4.4zM828.4 1067.6h8.9v4.5h-8.9zM846.1 1067.6h4.5v4.5h-4.5zM868.3 1067.6h4.4v4.5h-4.4zM877.1 1067.6h8.9v4.5h-8.9zM899.3 1067.6h8.8v4.5h-8.8zM930.3 1067.6h31v4.5h-31zM1280.3 1067.6h8.8v4.5h-8.8zM1324.6 1067.6h4.4v4.5h-4.4zM1337.9 1067.6h4.4v4.5h-4.4zM1346.7 1067.6h4.4v4.5h-4.4zM1360 1067.6h13.3v4.5h-13.3zM1377.7 1067.6h4.5v4.5h-4.5zM1417.6 1067.6h4.4v4.5h-4.4zM1430.9 1067.6h13.3v4.5h-13.3zM1488.5 1067.6h4.4v4.5h-4.4zM1501.8 1067.6h17.7v4.5h-17.7zM1541.6 1067.6h17.8v4.5h-17.8zM1758.7 1067.6h26.6v4.5h-26.6zM1811.9 1067.6h4.4v4.5h-4.4zM1834 1067.6h4.4v4.5h-4.4zM1842.9 1067.6h8.8v4.5h-8.8zM478.4 1072.1h26.6v4.4h-26.6zM558.2 1072.1h44.3v4.4h-44.3zM779.7 1072.1h8.8v4.4h-8.8zM810.7 1072.1h4.4v4.4h-4.4zM850.6 1072.1h4.4v4.4h-4.4zM872.7 1072.1h13.3v4.4h-13.3zM899.3 1072.1h8.8v4.4h-8.8zM930.3 1072.1h22.1v4.4h-22.1zM956.9 1072.1h13.3v4.4h-13.3zM1222.7 1072.1h4.4v4.4h-4.4zM1231.5 1072.1h8.9v4.4h-8.9zM1244.8 1072.1h13.3v4.4h-13.3zM1275.8 1072.1h13.3v4.4h-13.3zM1315.7 1072.1h8.9v4.4h-8.9zM1342.3 1072.1h8.8v4.4h-8.8zM1364.4 1072.1h17.8v4.4h-17.8zM1417.6 1072.1h4.4v4.4h-4.4zM1444.2 1072.1h13.3v4.4h-13.3zM1492.9 1072.1h4.4v4.4h-4.4zM1501.8 1072.1h22.1v4.4h-22.1zM1537.2 1072.1h8.9v4.4h-8.9zM1550.5 1072.1h8.9v4.4h-8.9zM1656.8 1072.1h17.7v4.4h-17.7zM1701.1 1072.1h4.4v4.4h-4.4zM1758.7 1072.1h8.9v4.4h-8.9zM1772 1072.1h13.3v4.4h-13.3zM1811.9 1072.1h31v4.4h-31zM478.4 1076.5h31v4.4h-31zM558.2 1076.5h44.3v4.4h-44.3zM784.1 1076.5h4.4v4.4h-4.4zM815.1 1076.5h4.4v4.4h-4.4zM846.1 1076.5h8.9v4.4h-8.9zM868.3 1076.5h13.3v4.4h-13.3zM899.3 1076.5h8.8v4.4h-8.8zM921.4 1076.5h17.8v4.4h-17.8zM948 1076.5h8.9v4.4h-8.9zM961.3 1076.5h8.9v4.4h-8.9zM996.7 1076.5h4.5v4.4h-4.5zM1205 1076.5h4.4v4.4h-4.4zM1218.2 1076.5h4.5v4.4h-4.5zM1227.1 1076.5h17.7v4.4h-17.7zM1258.1 1076.5h4.4v4.4h-4.4zM1280.3 1076.5h4.4v4.4h-4.4zM1315.7 1076.5h8.9v4.4h-8.9zM1346.7 1076.5h13.3v4.4h-13.3zM1364.4 1076.5h17.8v4.4h-17.8zM1408.7 1076.5h8.9v4.4h-8.9zM1453 1076.5h4.5v4.4h-4.5zM1492.9 1076.5h4.4v4.4h-4.4zM1501.8 1076.5h8.8v4.4h-8.8zM1523.9 1076.5h4.4v4.4h-4.4zM1537.2 1076.5h8.9v4.4h-8.9zM1670.1 1076.5h8.9v4.4h-8.9zM1701.1 1076.5h4.4v4.4h-4.4zM1785.3 1076.5h4.4v4.4h-4.4zM1811.9 1076.5h8.8v4.4h-8.8zM1825.2 1076.5h13.2v4.4h-13.2zM478.4 1080.9h26.6v4.4h-26.6zM562.6 1080.9h39.9v4.4h-39.9zM744.2 1080.9h4.5v4.4h-4.5zM779.7 1080.9h4.4v4.4h-4.4zM819.5 1080.9h8.9v4.4h-8.9zM841.7 1080.9h8.9v4.4h-8.9zM868.3 1080.9h13.3v4.4h-13.3zM899.3 1080.9h8.8v4.4h-8.8zM934.7 1080.9h4.5v4.4h-4.5zM948 1080.9h8.9v4.4h-8.9zM1001.2 1080.9h4.4v4.4h-4.4zM1191.7 1080.9h4.4v4.4h-4.4zM1200.5 1080.9h4.5v4.4h-4.5zM1209.4 1080.9h22.1v4.4h-22.1zM1262.5 1080.9h13.3v4.4h-13.3zM1280.3 1080.9h4.4v4.4h-4.4zM1320.1 1080.9h8.9v4.4h-8.9zM1342.3 1080.9h4.4v4.4h-4.4zM1351.1 1080.9h26.6v4.4h-26.6zM1404.3 1080.9h4.4v4.4h-4.4zM1453 1080.9h4.5v4.4h-4.5zM1497.3 1080.9h13.3v4.4h-13.3zM1528.3 1080.9h4.5v4.4h-4.5zM1674.5 1080.9h26.6v4.4h-26.6zM1825.2 1080.9h8.8v4.4h-8.8zM478.4 1085.3h22.2v4.5h-22.2zM571.5 1085.3h31v4.5h-31zM744.2 1085.3h8.9v4.5h-8.9zM784.1 1085.3h8.9v4.5h-8.9zM819.5 1085.3h8.9v4.5h-8.9zM841.7 1085.3h8.9v4.5h-8.9zM868.3 1085.3h13.3v4.5h-13.3zM903.7 1085.3h4.4v4.5h-4.4zM917 1085.3h4.4v4.5h-4.4zM939.2 1085.3h31v4.5h-31zM1001.2 1085.3h8.8v4.5h-8.8zM1173.9 1085.3h8.9v4.5h-8.9zM1196.1 1085.3h4.4v4.5h-4.4zM1213.8 1085.3h4.4v4.5h-4.4zM1231.5 1085.3h4.5v4.5h-4.5zM1262.5 1085.3h8.9v4.5h-8.9zM1280.3 1085.3h4.4v4.5h-4.4zM1306.8 1085.3h44.3v4.5h-44.3zM1355.6 1085.3h4.4v4.5h-4.4zM1399.9 1085.3h8.8v4.5h-8.8zM1426.5 1085.3h8.8v4.5h-8.8zM1457.5 1085.3h4.4v4.5h-4.4zM1497.3 1085.3h13.3v4.5h-13.3zM1532.8 1085.3h8.8v4.5h-8.8zM1705.5 1085.3h4.5v4.5h-4.5zM491.7 1089.8h4.5v4.4h-4.5zM739.8 1089.8h13.3v4.4h-13.3zM784.1 1089.8h8.9v4.4h-8.9zM797.4 1089.8h8.9v4.4h-8.9zM824 1089.8h4.4v4.4h-4.4zM841.7 1089.8h4.4v4.4h-4.4zM877.1 1089.8h4.5v4.4h-4.5zM890.4 1089.8h4.5v4.4h-4.5zM903.7 1089.8h4.4v4.4h-4.4zM912.6 1089.8h4.4v4.4h-4.4zM921.4 1089.8h4.5v4.4h-4.5zM939.2 1089.8h31v4.4h-31zM996.7 1089.8h4.5v4.4h-4.5zM1005.6 1089.8h4.4v4.4h-4.4zM1165.1 1089.8h8.8v4.4h-8.8zM1200.5 1089.8h13.3v4.4h-13.3zM1218.2 1089.8h17.8v4.4h-17.8zM1275.8 1089.8h4.5v4.4h-4.5zM1298 1089.8h8.8v4.4h-8.8zM1315.7 1089.8h13.3v4.4h-13.3zM1351.1 1089.8h4.5v4.4h-4.5zM1360 1089.8h4.4v4.4h-4.4zM1395.4 1089.8h13.3v4.4h-13.3zM1426.5 1089.8h8.8v4.4h-8.8zM1457.5 1089.8h4.4v4.4h-4.4zM1501.8 1089.8h8.8v4.4h-8.8zM1532.8 1089.8h8.8v4.4h-8.8zM1701.1 1089.8h17.7v4.4h-17.7zM1820.7 1089.8h4.5v4.4h-4.5zM739.8 1094.2h4.4v4.4h-4.4zM784.1 1094.2h26.6v4.4h-26.6zM824 1094.2h4.4v4.4h-4.4zM846.1 1094.2h8.9v4.4h-8.9zM872.7 1094.2h4.4v4.4h-4.4zM881.6 1094.2h8.8v4.4h-8.8zM894.9 1094.2h4.4v4.4h-4.4zM903.7 1094.2h13.3v4.4h-13.3zM925.9 1094.2h8.8v4.4h-8.8zM948 1094.2h8.9v4.4h-8.9zM992.3 1094.2h4.4v4.4h-4.4zM1147.4 1094.2h4.4v4.4h-4.4zM1156.2 1094.2h13.3v4.4h-13.3zM1182.8 1094.2h8.9v4.4h-8.9zM1209.4 1094.2h8.8v4.4h-8.8zM1231.5 1094.2h4.5v4.4h-4.5zM1275.8 1094.2h4.5v4.4h-4.5zM1293.6 1094.2h8.8v4.4h-8.8zM1315.7 1094.2h4.4v4.4h-4.4zM1324.6 1094.2h8.8v4.4h-8.8zM1346.7 1094.2h4.4v4.4h-4.4zM1364.4 1094.2h8.9v4.4h-8.9zM1386.6 1094.2h13.3v4.4h-13.3zM1430.9 1094.2h4.4v4.4h-4.4zM1461.9 1094.2h8.9v4.4h-8.9zM1501.8 1094.2h8.8v4.4h-8.8zM1528.3 1094.2h8.9v4.4h-8.9zM1701.1 1094.2h4.4v4.4h-4.4zM1710 1094.2h8.8v4.4h-8.8zM1816.3 1094.2h4.4v4.4h-4.4zM735.4 1098.6h13.3v4.5h-13.3zM779.7 1098.6h4.4v4.5h-4.4zM788.5 1098.6h8.9v4.5h-8.9zM810.7 1098.6h4.4v4.5h-4.4zM824 1098.6h4.4v4.5h-4.4zM846.1 1098.6h8.9v4.5h-8.9zM868.3 1098.6h4.4v4.5h-4.4zM881.6 1098.6h13.3v4.5h-13.3zM899.3 1098.6h22.1v4.5h-22.1zM925.9 1098.6h8.8v4.5h-8.8zM943.6 1098.6h8.8v4.5h-8.8zM956.9 1098.6h13.3v4.5h-13.3zM987.9 1098.6h4.4v4.5h-4.4zM1147.4 1098.6h22.1v4.5h-22.1zM1178.4 1098.6h13.3v4.5h-13.3zM1213.8 1098.6h4.4v4.5h-4.4zM1227.1 1098.6h8.9v4.5h-8.9zM1280.3 1098.6h4.4v4.5h-4.4zM1289.1 1098.6h8.9v4.5h-8.9zM1320.1 1098.6h13.3v4.5h-13.3zM1342.3 1098.6h4.4v4.5h-4.4zM1364.4 1098.6h8.9v4.5h-8.9zM1386.6 1098.6h8.8v4.5h-8.8zM1422 1098.6h8.9v4.5h-8.9zM1461.9 1098.6h8.9v4.5h-8.9zM1501.8 1098.6h8.8v4.5h-8.8zM1523.9 1098.6h13.3v4.5h-13.3zM1701.1 1098.6h8.9v4.5h-8.9zM1723.3 1098.6h8.8v4.5h-8.8zM1772 1098.6h4.4v4.5h-4.4zM1811.9 1098.6h4.4v4.5h-4.4zM735.4 1103.1h13.3v4.4h-13.3zM766.4 1103.1h22.1v4.4h-22.1zM815.1 1103.1h4.4v4.4h-4.4zM828.4 1103.1h4.4v4.4h-4.4zM855 1103.1h4.4v4.4h-4.4zM863.8 1103.1h4.5v4.4h-4.5zM886 1103.1h13.3v4.4h-13.3zM908.1 1103.1h13.3v4.4h-13.3zM925.9 1103.1h31v4.4h-31zM970.2 1103.1h4.4v4.4h-4.4zM979 1103.1h8.9v4.4h-8.9zM1103.1 1103.1h4.4v4.4h-4.4zM1151.8 1103.1h8.9v4.4h-8.9zM1173.9 1103.1h4.5v4.4h-4.5zM1213.8 1103.1h4.4v4.4h-4.4zM1231.5 1103.1h8.9v4.4h-8.9zM1284.7 1103.1h17.7v4.4h-17.7zM1320.1 1103.1h26.6v4.4h-26.6zM1364.4 1103.1h4.5v4.4h-4.5zM1382.2 1103.1h4.4v4.4h-4.4zM1408.7 1103.1h22.2v4.4h-22.2zM1470.8 1103.1h4.4v4.4h-4.4zM1484 1103.1h13.3v4.4h-13.3zM1501.8 1103.1h13.3v4.4h-13.3zM1683.4 1103.1h8.9v4.4h-8.9zM1701.1 1103.1h4.4v4.4h-4.4zM1723.3 1103.1h8.8v4.4h-8.8zM1807.4 1103.1h4.5v4.4h-4.5zM735.4 1107.5h4.4v4.4h-4.4zM748.7 1107.5h4.4v4.4h-4.4zM762 1107.5h4.4v4.4h-4.4zM779.7 1107.5h8.8v4.4h-8.8zM846.1 1107.5h22.2v4.4h-22.2zM886 1107.5h4.4v4.4h-4.4zM894.9 1107.5h4.4v4.4h-4.4zM908.1 1107.5h17.8v4.4h-17.8zM930.3 1107.5h8.9v4.4h-8.9zM943.6 1107.5h13.3v4.4h-13.3zM979 1107.5h8.9v4.4h-8.9zM1103.1 1107.5h4.4v4.4h-4.4zM1151.8 1107.5h8.9v4.4h-8.9zM1173.9 1107.5h4.5v4.4h-4.5zM1187.2 1107.5h8.9v4.4h-8.9zM1213.8 1107.5h4.4v4.4h-4.4zM1231.5 1107.5h13.3v4.4h-13.3zM1284.7 1107.5h13.3v4.4h-13.3zM1302.4 1107.5h4.4v4.4h-4.4zM1320.1 1107.5h8.9v4.4h-8.9zM1342.3 1107.5h4.4v4.4h-4.4zM1351.1 1107.5h17.8v4.4h-17.8zM1377.7 1107.5h4.5v4.4h-4.5zM1408.7 1107.5h17.8v4.4h-17.8zM1475.2 1107.5h8.8v4.4h-8.8zM1488.5 1107.5h13.3v4.4h-13.3zM1506.2 1107.5h8.9v4.4h-8.9zM1683.4 1107.5h8.9v4.4h-8.9zM1714.4 1107.5h4.4v4.4h-4.4zM1803 1107.5h4.4v4.4h-4.4zM735.4 1111.9h13.3v4.5h-13.3zM753.1 1111.9h4.4v4.5h-4.4zM788.5 1111.9h4.5v4.5h-4.5zM815.1 1111.9h31v4.5h-31zM855 1111.9h22.1v4.5h-22.1zM886 1111.9h4.4v4.5h-4.4zM908.1 1111.9h22.2v4.5h-22.2zM939.2 1111.9h4.4v4.5h-4.4zM1103.1 1111.9h8.8v4.5h-8.8zM1151.8 1111.9h4.4v4.5h-4.4zM1169.5 1111.9h8.9v4.5h-8.9zM1196.1 1111.9h4.4v4.5h-4.4zM1213.8 1111.9h4.4v4.5h-4.4zM1231.5 1111.9h22.2v4.5h-22.2zM1284.7 1111.9h8.9v4.5h-8.9zM1306.8 1111.9h13.3v4.5h-13.3zM1333.4 1111.9h8.9v4.5h-8.9zM1346.7 1111.9h4.4v4.5h-4.4zM1360 1111.9h8.9v4.5h-8.9zM1373.3 1111.9h4.4v4.5h-4.4zM1408.7 1111.9h8.9v4.5h-8.9zM1501.8 1111.9h13.3v4.5h-13.3zM1710 1111.9h8.8v4.5h-8.8zM739.8 1116.4h8.9v4.4h-8.9zM757.5 1116.4h8.9v4.4h-8.9zM793 1116.4h4.4v4.4h-4.4zM806.3 1116.4h8.8v4.4h-8.8zM824 1116.4h8.8v4.4h-8.8zM837.3 1116.4h8.8v4.4h-8.8zM855 1116.4h22.1v4.4h-22.1zM890.4 1116.4h4.5v4.4h-4.5zM903.7 1116.4h8.9v4.4h-8.9zM921.4 1116.4h17.8v4.4h-17.8zM1089.8 1116.4h22.1v4.4h-22.1zM1134.1 1116.4h4.4v4.4h-4.4zM1156.2 1116.4h4.5v4.4h-4.5zM1169.5 1116.4h13.3v4.4h-13.3zM1196.1 1116.4h4.4v4.4h-4.4zM1236 1116.4h17.7v4.4h-17.7zM1284.7 1116.4h13.3v4.4h-13.3zM1311.3 1116.4h8.8v4.4h-8.8zM1329 1116.4h4.4v4.4h-4.4zM1346.7 1116.4h26.6v4.4h-26.6zM1382.2 1116.4h4.4v4.4h-4.4zM1408.7 1116.4h4.5v4.4h-4.5zM1417.6 1116.4h4.4v4.4h-4.4zM1453 1116.4h39.9v4.4h-39.9zM1515.1 1116.4h8.8v4.4h-8.8zM762 1120.8h4.4v4.4h-4.4zM793 1120.8h17.7v4.4h-17.7zM850.6 1120.8h8.8v4.4h-8.8zM868.3 1120.8h4.4v4.4h-4.4zM877.1 1120.8h8.9v4.4h-8.9zM890.4 1120.8h22.2v4.4h-22.2zM925.9 1120.8h4.4v4.4h-4.4zM992.3 1120.8h4.4v4.4h-4.4zM1094.2 1120.8h13.3v4.4h-13.3zM1134.1 1120.8h8.8v4.4h-8.8zM1156.2 1120.8h4.5v4.4h-4.5zM1173.9 1120.8h8.9v4.4h-8.9zM1196.1 1120.8h13.3v4.4h-13.3zM1236 1120.8h17.7v4.4h-17.7zM1280.3 1120.8h4.4v4.4h-4.4zM1293.6 1120.8h4.4v4.4h-4.4zM1311.3 1120.8h17.7v4.4h-17.7zM1346.7 1120.8h22.2v4.4h-22.2zM1373.3 1120.8h8.9v4.4h-8.9zM1404.3 1120.8h4.4v4.4h-4.4zM1417.6 1120.8h4.4v4.4h-4.4zM1439.8 1120.8h31v4.4h-31zM1475.2 1120.8h26.6v4.4h-26.6zM1515.1 1120.8h8.8v4.4h-8.8zM1723.3 1120.8h8.8v4.4h-8.8zM1807.4 1120.8h4.5v4.4h-4.5zM744.2 1125.2h4.5v4.4h-4.5zM762 1125.2h4.4v4.4h-4.4zM801.8 1125.2h13.3v4.4h-13.3zM846.1 1125.2h22.2v4.4h-22.2zM877.1 1125.2h8.9v4.4h-8.9zM890.4 1125.2h13.3v4.4h-13.3zM908.1 1125.2h4.5v4.4h-4.5zM925.9 1125.2h4.4v4.4h-4.4zM961.3 1125.2h13.3v4.4h-13.3zM987.9 1125.2h4.4v4.4h-4.4zM1103.1 1125.2h8.8v4.4h-8.8zM1116.4 1125.2h4.4v4.4h-4.4zM1134.1 1125.2h8.8v4.4h-8.8zM1147.4 1125.2h4.4v4.4h-4.4zM1196.1 1125.2h13.3v4.4h-13.3zM1236 1125.2h4.4v4.4h-4.4zM1244.8 1125.2h8.9v4.4h-8.9zM1280.3 1125.2h8.8v4.4h-8.8zM1293.6 1125.2h4.4v4.4h-4.4zM1342.3 1125.2h22.1v4.4h-22.1zM1373.3 1125.2h4.4v4.4h-4.4zM1408.7 1125.2h8.9v4.4h-8.9zM1457.5 1125.2h4.4v4.4h-4.4zM1466.3 1125.2h13.3v4.4h-13.3zM1492.9 1125.2h8.9v4.4h-8.9zM1523.9 1125.2h8.9v4.4h-8.9zM1727.7 1125.2h8.9v4.4h-8.9zM1798.6 1125.2h13.3v4.4h-13.3zM757.5 1129.6h4.5v4.5h-4.5zM801.8 1129.6h17.7v4.5h-17.7zM846.1 1129.6h17.7v4.5h-17.7zM877.1 1129.6h26.6v4.5h-26.6zM908.1 1129.6h8.9v4.5h-8.9zM921.4 1129.6h4.5v4.5h-4.5zM961.3 1129.6h8.9v4.5h-8.9zM987.9 1129.6h4.4v4.5h-4.4zM1107.5 1129.6h8.9v4.5h-8.9zM1129.6 1129.6h4.5v4.5h-4.5zM1142.9 1129.6h13.3v4.5h-13.3zM1196.1 1129.6h8.9v4.5h-8.9zM1236 1129.6h13.3v4.5h-13.3zM1280.3 1129.6h8.8v4.5h-8.8zM1298 1129.6h4.4v4.5h-4.4zM1342.3 1129.6h8.8v4.5h-8.8zM1360 1129.6h22.2v4.5h-22.2zM1404.3 1129.6h17.7v4.5h-17.7zM1457.5 1129.6h4.4v4.5h-4.4zM1470.8 1129.6h39.8v4.5h-39.8zM1523.9 1129.6h8.9v4.5h-8.9zM1661.2 1129.6h4.5v4.5h-4.5zM1732.1 1129.6h4.5v4.5h-4.5zM753.1 1134.1h4.4v4.4h-4.4zM762 1134.1h4.4v4.4h-4.4zM806.3 1134.1h4.4v4.4h-4.4zM819.5 1134.1h4.5v4.4h-4.5zM837.3 1134.1h8.8v4.4h-8.8zM855 1134.1h8.8v4.4h-8.8zM877.1 1134.1h13.3v4.4h-13.3zM908.1 1134.1h13.3v4.4h-13.3zM956.9 1134.1h4.4v4.4h-4.4zM987.9 1134.1h4.4v4.4h-4.4zM1098.6 1134.1h8.9v4.4h-8.9zM1111.9 1134.1h44.3v4.4h-44.3zM1191.7 1134.1h13.3v4.4h-13.3zM1231.5 1134.1h4.5v4.4h-4.5zM1249.3 1134.1h4.4v4.4h-4.4zM1275.8 1134.1h8.9v4.4h-8.9zM1302.4 1134.1h8.9v4.4h-8.9zM1346.7 1134.1h13.3v4.4h-13.3zM1368.9 1134.1h4.4v4.4h-4.4zM1377.7 1134.1h26.6v4.4h-26.6zM1408.7 1134.1h4.5v4.4h-4.5zM1422 1134.1h8.9v4.4h-8.9zM1461.9 1134.1h4.4v4.4h-4.4zM1475.2 1134.1h17.7v4.4h-17.7zM1501.8 1134.1h8.8v4.4h-8.8zM757.5 1138.5h4.5v4.4h-4.5zM766.4 1138.5h4.4v4.4h-4.4zM779.7 1138.5h35.4v4.4h-35.4zM819.5 1138.5h26.6v4.4h-26.6zM855 1138.5h8.8v4.4h-8.8zM872.7 1138.5h4.4v4.4h-4.4zM881.6 1138.5h4.4v4.4h-4.4zM899.3 1138.5h4.4v4.4h-4.4zM952.4 1138.5h4.5v4.4h-4.5zM987.9 1138.5h4.4v4.4h-4.4zM1094.2 1138.5h44.3v4.4h-44.3zM1147.4 1138.5h4.4v4.4h-4.4zM1187.2 1138.5h4.5v4.4h-4.5zM1196.1 1138.5h4.4v4.4h-4.4zM1227.1 1138.5h4.4v4.4h-4.4zM1253.7 1138.5h4.4v4.4h-4.4zM1275.8 1138.5h8.9v4.4h-8.9zM1302.4 1138.5h8.9v4.4h-8.9zM1346.7 1138.5h8.9v4.4h-8.9zM1373.3 1138.5h17.7v4.4h-17.7zM1426.5 1138.5h4.4v4.4h-4.4zM1448.6 1138.5h13.3v4.4h-13.3zM1466.3 1138.5h44.3v4.4h-44.3zM1758.7 1138.5h13.3v4.4h-13.3zM1878.3 1138.5h4.4v4.4h-4.4zM762 1142.9h4.4v4.5h-4.4zM770.8 1142.9h4.4v4.5h-4.4zM779.7 1142.9h4.4v4.5h-4.4zM801.8 1142.9h17.7v4.5h-17.7zM841.7 1142.9h4.4v4.5h-4.4zM850.6 1142.9h4.4v4.5h-4.4zM863.8 1142.9h8.9v4.5h-8.9zM881.6 1142.9h4.4v4.5h-4.4zM899.3 1142.9h4.4v4.5h-4.4zM952.4 1142.9h4.5v4.5h-4.5zM970.2 1142.9h8.8v4.5h-8.8zM983.5 1142.9h8.8v4.5h-8.8zM1089.8 1142.9h4.4v4.5h-4.4zM1103.1 1142.9h4.4v4.5h-4.4zM1125.2 1142.9h13.3v4.5h-13.3zM1147.4 1142.9h39.8v4.5h-39.8zM1200.5 1142.9h8.9v4.5h-8.9zM1213.8 1142.9h13.3v4.5h-13.3zM1306.8 1142.9h13.3v4.5h-13.3zM1351.1 1142.9h4.5v4.5h-4.5zM1373.3 1142.9h13.3v4.5h-13.3zM1426.5 1142.9h4.4v4.5h-4.4zM1444.2 1142.9h4.4v4.5h-4.4zM1457.5 1142.9h8.8v4.5h-8.8zM1479.6 1142.9h8.9v4.5h-8.9zM1492.9 1142.9h17.7v4.5h-17.7zM673.4 1147.4h4.4v4.4h-4.4zM762 1147.4h4.4v4.4h-4.4zM775.2 1147.4h8.9v4.4h-8.9zM806.3 1147.4h13.2v4.4h-13.2zM846.1 1147.4h8.9v4.4h-8.9zM868.3 1147.4h4.4v4.4h-4.4zM881.6 1147.4h4.4v4.4h-4.4zM894.9 1147.4h4.4v4.4h-4.4zM908.1 1147.4h4.5v4.4h-4.5zM956.9 1147.4h4.4v4.4h-4.4zM965.7 1147.4h4.5v4.4h-4.5zM979 1147.4h13.3v4.4h-13.3zM1080.9 1147.4h4.4v4.4h-4.4zM1107.5 1147.4h4.4v4.4h-4.4zM1116.4 1147.4h4.4v4.4h-4.4zM1125.2 1147.4h4.4v4.4h-4.4zM1134.1 1147.4h4.4v4.4h-4.4zM1147.4 1147.4h13.3v4.4h-13.3zM1165.1 1147.4h4.4v4.4h-4.4zM1196.1 1147.4h17.7v4.4h-17.7zM1271.4 1147.4h17.7v4.4h-17.7zM1293.6 1147.4h13.2v4.4h-13.2zM1315.7 1147.4h4.4v4.4h-4.4zM1337.9 1147.4h4.4v4.4h-4.4zM1351.1 1147.4h8.9v4.4h-8.9zM1364.4 1147.4h8.9v4.4h-8.9zM1386.6 1147.4h4.4v4.4h-4.4zM1413.2 1147.4h17.7v4.4h-17.7zM1439.8 1147.4h4.4v4.4h-4.4zM1457.5 1147.4h4.4v4.4h-4.4zM1488.5 1147.4h13.3v4.4h-13.3zM1506.2 1147.4h4.4v4.4h-4.4zM766.4 1151.8h22.1v4.4h-22.1zM801.8 1151.8h4.5v4.4h-4.5zM846.1 1151.8h8.9v4.4h-8.9zM868.3 1151.8h4.4v4.4h-4.4zM886 1151.8h31v4.4h-31zM939.2 1151.8h13.2v4.4h-13.2zM961.3 1151.8h8.9v4.4h-8.9zM974.6 1151.8h4.4v4.4h-4.4zM1041 1151.8h4.5v4.4h-4.5zM1076.5 1151.8h48.7v4.4h-48.7zM1134.1 1151.8h13.3v4.4h-13.3zM1151.8 1151.8h8.9v4.4h-8.9zM1169.5 1151.8h4.4v4.4h-4.4zM1191.7 1151.8h4.4v4.4h-4.4zM1205 1151.8h8.8v4.4h-8.8zM1267 1151.8h4.4v4.4h-4.4zM1280.3 1151.8h13.3v4.4h-13.3zM1306.8 1151.8h4.5v4.4h-4.5zM1315.7 1151.8h8.9v4.4h-8.9zM1337.9 1151.8h8.8v4.4h-8.8zM1351.1 1151.8h13.3v4.4h-13.3zM1368.9 1151.8h13.3v4.4h-13.3zM1391 1151.8h8.9v4.4h-8.9zM1408.7 1151.8h8.9v4.4h-8.9zM1422 1151.8h17.8v4.4h-17.8zM1453 1151.8h8.9v4.4h-8.9zM1488.5 1151.8h8.8v4.4h-8.8zM1501.8 1151.8h4.4v4.4h-4.4zM1621.4 1151.8h4.4v4.4h-4.4zM788.5 1156.2h13.3v4.5h-13.3zM850.6 1156.2h8.8v4.5h-8.8zM868.3 1156.2h4.4v4.5h-4.4zM886 1156.2h39.9v4.5h-39.9zM934.7 1156.2h4.5v4.5h-4.5zM943.6 1156.2h8.8v4.5h-8.8zM965.7 1156.2h13.3v4.5h-13.3zM1041 1156.2h8.9v4.5h-8.9zM1076.5 1156.2h8.8v4.5h-8.8zM1089.8 1156.2h8.8v4.5h-8.8zM1107.5 1156.2h13.3v4.5h-13.3zM1125.2 1156.2h4.4v4.5h-4.4zM1134.1 1156.2h8.8v4.5h-8.8zM1160.7 1156.2h8.8v4.5h-8.8zM1173.9 1156.2h4.5v4.5h-4.5zM1187.2 1156.2h4.5v4.5h-4.5zM1196.1 1156.2h8.9v4.5h-8.9zM1209.4 1156.2h4.4v4.5h-4.4zM1262.5 1156.2h4.5v4.5h-4.5zM1280.3 1156.2h8.8v4.5h-8.8zM1293.6 1156.2h13.2v4.5h-13.2zM1311.3 1156.2h17.7v4.5h-17.7zM1342.3 1156.2h13.3v4.5h-13.3zM1373.3 1156.2h8.9v4.5h-8.9zM1399.9 1156.2h17.7v4.5h-17.7zM1422 1156.2h4.5v4.5h-4.5zM1448.6 1156.2h4.4v4.5h-4.4zM1457.5 1156.2h4.4v4.5h-4.4zM1519.5 1156.2h13.3v4.5h-13.3zM1621.4 1156.2h8.8v4.5h-8.8zM788.5 1160.7h13.3v4.4h-13.3zM850.6 1160.7h22.1v4.4h-22.1zM890.4 1160.7h4.5v4.4h-4.5zM908.1 1160.7h4.5v4.4h-4.5zM921.4 1160.7h13.3v4.4h-13.3zM970.2 1160.7h17.7v4.4h-17.7zM1041 1160.7h13.3v4.4h-13.3zM1103.1 1160.7h4.4v4.4h-4.4zM1116.4 1160.7h8.8v4.4h-8.8zM1129.6 1160.7h8.9v4.4h-8.9zM1160.7 1160.7h8.8v4.4h-8.8zM1182.8 1160.7h4.4v4.4h-4.4zM1196.1 1160.7h8.9v4.4h-8.9zM1209.4 1160.7h8.8v4.4h-8.8zM1253.7 1160.7h8.8v4.4h-8.8zM1280.3 1160.7h8.8v4.4h-8.8zM1298 1160.7h8.8v4.4h-8.8zM1315.7 1160.7h8.9v4.4h-8.9zM1329 1160.7h13.3v4.4h-13.3zM1355.6 1160.7h4.4v4.4h-4.4zM1373.3 1160.7h8.9v4.4h-8.9zM1399.9 1160.7h8.8v4.4h-8.8zM1422 1160.7h4.5v4.4h-4.5zM1448.6 1160.7h8.9v4.4h-8.9zM1519.5 1160.7h17.7v4.4h-17.7zM1625.8 1160.7h4.4v4.4h-4.4zM522.7 1165.1h8.9v4.4h-8.9zM784.1 1165.1h8.9v4.4h-8.9zM850.6 1165.1h22.1v4.4h-22.1zM886 1165.1h4.4v4.4h-4.4zM908.1 1165.1h4.5v4.4h-4.5zM925.9 1165.1h8.8v4.4h-8.8zM970.2 1165.1h13.3v4.4h-13.3zM1027.8 1165.1h4.4v4.4h-4.4zM1036.6 1165.1h22.2v4.4h-22.2zM1107.5 1165.1h4.4v4.4h-4.4zM1120.8 1165.1h8.8v4.4h-8.8zM1134.1 1165.1h8.8v4.4h-8.8zM1160.7 1165.1h8.8v4.4h-8.8zM1178.4 1165.1h4.4v4.4h-4.4zM1209.4 1165.1h8.8v4.4h-8.8zM1240.4 1165.1h13.3v4.4h-13.3zM1280.3 1165.1h8.8v4.4h-8.8zM1306.8 1165.1h17.8v4.4h-17.8zM1360 1165.1h13.3v4.4h-13.3zM1422 1165.1h26.6v4.4h-26.6zM1453 1165.1h8.9v4.4h-8.9zM1484 1165.1h4.5v4.4h-4.5zM1537.2 1165.1h4.4v4.4h-4.4zM518.3 1169.5h8.9v4.4h-8.9zM770.8 1169.5h13.3v4.4h-13.3zM850.6 1169.5h13.2v4.4h-13.2zM872.7 1169.5h17.7v4.4h-17.7zM903.7 1169.5h4.4v4.4h-4.4zM934.7 1169.5h4.5v4.4h-4.5zM974.6 1169.5h4.4v4.4h-4.4zM1032.2 1169.5h17.7v4.4h-17.7zM1058.8 1169.5h4.4v4.4h-4.4zM1111.9 1169.5h4.5v4.4h-4.5zM1120.8 1169.5h8.8v4.4h-8.8zM1134.1 1169.5h8.8v4.4h-8.8zM1169.5 1169.5h8.9v4.4h-8.9zM1209.4 1169.5h4.4v4.4h-4.4zM1236 1169.5h13.3v4.4h-13.3zM1364.4 1169.5h8.9v4.4h-8.9zM1413.2 1169.5h17.7v4.4h-17.7zM1444.2 1169.5h4.4v4.4h-4.4zM1453 1169.5h8.9v4.4h-8.9zM1484 1169.5h4.5v4.4h-4.5zM513.9 1173.9h8.8v4.5h-8.8zM841.7 1173.9h8.9v4.5h-8.9zM855 1173.9h4.4v4.5h-4.4zM863.8 1173.9h4.5v4.5h-4.5zM872.7 1173.9h17.7v4.5h-17.7zM899.3 1173.9h4.4v4.5h-4.4zM921.4 1173.9h4.5v4.5h-4.5zM930.3 1173.9h8.9v4.5h-8.9zM1032.2 1173.9h8.8v4.5h-8.8zM1063.2 1173.9h4.4v4.5h-4.4zM1111.9 1173.9h4.5v4.5h-4.5zM1129.6 1173.9h8.9v4.5h-8.9zM1165.1 1173.9h13.3v4.5h-13.3zM1213.8 1173.9h4.4v4.5h-4.4zM1236 1173.9h8.8v4.5h-8.8zM1422 1173.9h8.9v4.5h-8.9zM1439.8 1173.9h8.8v4.5h-8.8zM1453 1173.9h4.5v4.5h-4.5zM1484 1173.9h8.9v4.5h-8.9zM513.9 1178.4h4.4v4.4h-4.4zM806.3 1178.4h13.2v4.4h-13.2zM841.7 1178.4h8.9v4.4h-8.9zM863.8 1178.4h4.5v4.4h-4.5zM877.1 1178.4h13.3v4.4h-13.3zM908.1 1178.4h13.3v4.4h-13.3zM925.9 1178.4h4.4v4.4h-4.4zM934.7 1178.4h8.9v4.4h-8.9zM1023.3 1178.4h17.7v4.4h-17.7zM1063.2 1178.4h4.4v4.4h-4.4zM1085.3 1178.4h22.2v4.4h-22.2zM1156.2 1178.4h8.9v4.4h-8.9zM1213.8 1178.4h4.4v4.4h-4.4zM1236 1178.4h8.8v4.4h-8.8zM1430.9 1178.4h17.7v4.4h-17.7zM1484 1178.4h8.9v4.4h-8.9zM513.9 1182.8h4.4v4.4h-4.4zM810.7 1182.8h8.8v4.4h-8.8zM837.3 1182.8h17.7v4.4h-17.7zM859.4 1182.8h4.4v4.4h-4.4zM899.3 1182.8h8.8v4.4h-8.8zM912.6 1182.8h13.3v4.4h-13.3zM930.3 1182.8h4.4v4.4h-4.4zM1027.8 1182.8h8.8v4.4h-8.8zM1063.2 1182.8h4.4v4.4h-4.4zM1080.9 1182.8h8.9v4.4h-8.9zM1098.6 1182.8h8.9v4.4h-8.9zM1138.5 1182.8h4.4v4.4h-4.4zM1209.4 1182.8h8.8v4.4h-8.8zM1435.3 1182.8h4.5v4.4h-4.5zM513.9 1187.2h8.8v4.5h-8.8zM819.5 1187.2h4.5v4.5h-4.5zM850.6 1187.2h8.8v4.5h-8.8zM894.9 1187.2h4.4v4.5h-4.4zM912.6 1187.2h4.4v4.5h-4.4zM921.4 1187.2h8.9v4.5h-8.9zM934.7 1187.2h4.5v4.5h-4.5zM1014.5 1187.2h8.8v4.5h-8.8zM1032.2 1187.2h4.4v4.5h-4.4zM1063.2 1187.2h26.6v4.5h-26.6zM1120.8 1187.2h17.7v4.5h-17.7zM1209.4 1187.2h13.3v4.5h-13.3zM1293.6 1187.2h4.4v4.5h-4.4zM1306.8 1187.2h17.8v4.5h-17.8zM1546.1 1187.2h13.3v4.5h-13.3zM518.3 1191.7h4.4v4.4h-4.4zM770.8 1191.7h31v4.4h-31zM824 1191.7h4.4v4.4h-4.4zM846.1 1191.7h13.3v4.4h-13.3zM886 1191.7h8.9v4.4h-8.9zM912.6 1191.7h4.4v4.4h-4.4zM934.7 1191.7h4.5v4.4h-4.5zM1014.5 1191.7h4.4v4.4h-4.4zM1023.3 1191.7h4.5v4.4h-4.5zM1036.6 1191.7h4.4v4.4h-4.4zM1058.8 1191.7h8.8v4.4h-8.8zM1107.5 1191.7h13.3v4.4h-13.3zM1222.7 1191.7h13.3v4.4h-13.3zM1289.1 1191.7h4.5v4.4h-4.5zM1311.3 1191.7h13.3v4.4h-13.3zM1373.3 1191.7h4.4v4.4h-4.4zM518.3 1196.1h4.4v4.4h-4.4zM770.8 1196.1h4.4v4.4h-4.4zM784.1 1196.1h8.9v4.4h-8.9zM828.4 1196.1h4.4v4.4h-4.4zM841.7 1196.1h13.3v4.4h-13.3zM881.6 1196.1h8.8v4.4h-8.8zM917 1196.1h4.4v4.4h-4.4zM930.3 1196.1h4.4v4.4h-4.4zM939.2 1196.1h8.8v4.4h-8.8zM1014.5 1196.1h4.4v4.4h-4.4zM1027.8 1196.1h17.7v4.4h-17.7zM1058.8 1196.1h8.8v4.4h-8.8zM1103.1 1196.1h13.3v4.4h-13.3zM1222.7 1196.1h13.3v4.4h-13.3zM1289.1 1196.1h4.5v4.4h-4.5zM1311.3 1196.1h8.8v4.4h-8.8zM1368.9 1196.1h4.4v4.4h-4.4zM518.3 1200.5h13.3v4.5h-13.3zM766.4 1200.5h4.4v4.5h-4.4zM832.8 1200.5h8.9v4.5h-8.9zM846.1 1200.5h4.5v4.5h-4.5zM877.1 1200.5h13.3v4.5h-13.3zM921.4 1200.5h13.3v4.5h-13.3zM943.6 1200.5h4.4v4.5h-4.4zM1018.9 1200.5h4.4v4.5h-4.4zM1027.8 1200.5h22.1v4.5h-22.1zM1058.8 1200.5h8.8v4.5h-8.8zM1094.2 1200.5h8.9v4.5h-8.9zM1151.8 1200.5h4.4v4.5h-4.4zM1222.7 1200.5h8.8v4.5h-8.8zM1236 1200.5h13.3v4.5h-13.3zM1280.3 1200.5h4.4v4.5h-4.4zM1289.1 1200.5h4.5v4.5h-4.5zM1311.3 1200.5h13.3v4.5h-13.3zM1337.9 1200.5h31v4.5h-31zM527.2 1205h8.8v4.4h-8.8zM766.4 1205h17.7v4.4h-17.7zM824 1205h4.4v4.4h-4.4zM850.6 1205h4.4v4.4h-4.4zM868.3 1205h17.7v4.4h-17.7zM925.9 1205h8.8v4.4h-8.8zM943.6 1205h4.4v4.4h-4.4zM1036.6 1205h22.2v4.4h-22.2zM1067.6 1205h4.5v4.4h-4.5zM1134.1 1205h4.4v4.4h-4.4zM1142.9 1205h8.9v4.4h-8.9zM1156.2 1205h4.5v4.4h-4.5zM1222.7 1205h13.3v4.4h-13.3zM1249.3 1205h13.2v4.4h-13.2zM1271.4 1205h8.9v4.4h-8.9zM1293.6 1205h17.7v4.4h-17.7zM1315.7 1205h8.9v4.4h-8.9zM1333.4 1205h4.5v4.4h-4.5zM1355.6 1205h8.8v4.4h-8.8zM1368.9 1205h4.4v4.4h-4.4zM770.8 1209.4h17.7v4.4h-17.7zM828.4 1209.4h4.4v4.4h-4.4zM855 1209.4h4.4v4.4h-4.4zM863.8 1209.4h13.3v4.4h-13.3zM943.6 1209.4h4.4v4.4h-4.4zM1041 1209.4h8.9v4.4h-8.9zM1072.1 1209.4h4.4v4.4h-4.4zM1134.1 1209.4h13.3v4.4h-13.3zM1151.8 1209.4h4.4v4.4h-4.4zM1160.7 1209.4h4.4v4.4h-4.4zM1191.7 1209.4h8.8v4.4h-8.8zM1213.8 1209.4h8.9v4.4h-8.9zM1227.1 1209.4h8.9v4.4h-8.9zM1262.5 1209.4h8.9v4.4h-8.9zM1298 1209.4h8.8v4.4h-8.8zM1311.3 1209.4h13.3v4.4h-13.3zM1329 1209.4h13.3v4.4h-13.3zM779.7 1213.8h8.8v4.4h-8.8zM832.8 1213.8h4.5v4.4h-4.5zM859.4 1213.8h4.4v4.4h-4.4zM943.6 1213.8h4.4v4.4h-4.4zM1041 1213.8h8.9v4.4h-8.9zM1076.5 1213.8h13.3v4.4h-13.3zM1134.1 1213.8h13.3v4.4h-13.3zM1160.7 1213.8h17.7v4.4h-17.7zM1191.7 1213.8h8.8v4.4h-8.8zM1231.5 1213.8h4.5v4.4h-4.5zM1293.6 1213.8h4.4v4.4h-4.4zM1306.8 1213.8h22.2v4.4h-22.2zM1333.4 1213.8h4.5v4.4h-4.5zM762 1218.2h8.8v4.5h-8.8zM837.3 1218.2h4.4v4.5h-4.4zM855 1218.2h8.8v4.5h-8.8zM943.6 1218.2h4.4v4.5h-4.4zM956.9 1218.2h4.4v4.5h-4.4zM1041 1218.2h4.5v4.5h-4.5zM1076.5 1218.2h8.8v4.5h-8.8zM1129.6 1218.2h26.6v4.5h-26.6zM1160.7 1218.2h8.8v4.5h-8.8zM1173.9 1218.2h4.5v4.5h-4.5zM1196.1 1218.2h4.4v4.5h-4.4zM1227.1 1218.2h8.9v4.5h-8.9zM1244.8 1218.2h8.9v4.5h-8.9zM1289.1 1218.2h8.9v4.5h-8.9zM1302.4 1218.2h17.7v4.5h-17.7zM766.4 1222.7h4.4v4.4h-4.4zM779.7 1222.7h13.3v4.4h-13.3zM837.3 1222.7h4.4v4.4h-4.4zM855 1222.7h8.8v4.4h-8.8zM939.2 1222.7h8.8v4.4h-8.8zM956.9 1222.7h4.4v4.4h-4.4zM1045.5 1222.7h4.4v4.4h-4.4zM1103.1 1222.7h4.4v4.4h-4.4zM1125.2 1222.7h4.4v4.4h-4.4zM1138.5 1222.7h13.3v4.4h-13.3zM1156.2 1222.7h8.9v4.4h-8.9zM1169.5 1222.7h4.4v4.4h-4.4zM1196.1 1222.7h4.4v4.4h-4.4zM1227.1 1222.7h8.9v4.4h-8.9zM1244.8 1222.7h13.3v4.4h-13.3zM1289.1 1222.7h4.5v4.4h-4.5zM766.4 1227.1h22.1v4.4h-22.1zM841.7 1227.1h4.4v4.4h-4.4zM850.6 1227.1h13.2v4.4h-13.2zM939.2 1227.1h8.8v4.4h-8.8zM956.9 1227.1h4.4v4.4h-4.4zM1041 1227.1h4.5v4.4h-4.5zM1049.9 1227.1h17.7v4.4h-17.7zM1098.6 1227.1h4.5v4.4h-4.5zM1107.5 1227.1h8.9v4.4h-8.9zM1120.8 1227.1h4.4v4.4h-4.4zM1138.5 1227.1h8.9v4.4h-8.9zM1156.2 1227.1h8.9v4.4h-8.9zM1169.5 1227.1h8.9v4.4h-8.9zM1187.2 1227.1h13.3v4.4h-13.3zM1227.1 1227.1h13.3v4.4h-13.3zM1249.3 1227.1h13.2v4.4h-13.2zM775.2 1231.5h4.5v4.5h-4.5zM788.5 1231.5h4.5v4.5h-4.5zM846.1 1231.5h4.5v4.5h-4.5zM863.8 1231.5h8.9v4.5h-8.9zM1036.6 1231.5h4.4v4.5h-4.4zM1045.5 1231.5h17.7v4.5h-17.7zM1067.6 1231.5h4.5v4.5h-4.5zM1094.2 1231.5h4.4v4.5h-4.4zM1111.9 1231.5h8.9v4.5h-8.9zM1125.2 1231.5h4.4v4.5h-4.4zM1138.5 1231.5h8.9v4.5h-8.9zM1165.1 1231.5h8.8v4.5h-8.8zM1178.4 1231.5h4.4v4.5h-4.4zM1187.2 1231.5h13.3v4.5h-13.3zM1222.7 1231.5h17.7v4.5h-17.7zM1253.7 1231.5h8.8v4.5h-8.8zM770.8 1236h4.4v4.4h-4.4zM793 1236h17.7v4.4h-17.7zM841.7 1236h8.9v4.4h-8.9zM863.8 1236h17.8v4.4h-17.8zM917 1236h4.4v4.4h-4.4zM930.3 1236h8.9v4.4h-8.9zM1018.9 1236h4.4v4.4h-4.4zM1041 1236h13.3v4.4h-13.3zM1067.6 1236h4.5v4.4h-4.5zM1089.8 1236h4.4v4.4h-4.4zM1111.9 1236h22.2v4.4h-22.2zM1156.2 1236h4.5v4.4h-4.5zM1165.1 1236h4.4v4.4h-4.4zM1173.9 1236h4.5v4.4h-4.5zM1182.8 1236h8.9v4.4h-8.9zM1213.8 1236h13.3v4.4h-13.3zM1306.8 1236h8.9v4.4h-8.9zM810.7 1240.4h4.4v4.4h-4.4zM837.3 1240.4h13.3v4.4h-13.3zM868.3 1240.4h13.3v4.4h-13.3zM912.6 1240.4h4.4v4.4h-4.4zM925.9 1240.4h4.4v4.4h-4.4zM1005.6 1240.4h8.9v4.4h-8.9zM1023.3 1240.4h8.9v4.4h-8.9zM1067.6 1240.4h8.9v4.4h-8.9zM1085.3 1240.4h4.5v4.4h-4.5zM1107.5 1240.4h4.4v4.4h-4.4zM1125.2 1240.4h8.9v4.4h-8.9zM1160.7 1240.4h31v4.4h-31zM1213.8 1240.4h4.4v4.4h-4.4zM1306.8 1240.4h4.5v4.4h-4.5zM1333.4 1240.4h22.2v4.4h-22.2zM815.1 1244.8h22.2v4.5h-22.2zM841.7 1244.8h8.9v4.5h-8.9zM917 1244.8h8.9v4.5h-8.9zM1005.6 1244.8h26.6v4.5h-26.6zM1067.6 1244.8h39.9v4.5h-39.9zM1165.1 1244.8h17.7v4.5h-17.7zM1306.8 1244.8h4.5v4.5h-4.5zM1346.7 1244.8h4.4v4.5h-4.4zM1408.7 1244.8h4.5v4.5h-4.5zM819.5 1249.3h8.9v4.4h-8.9zM837.3 1249.3h13.3v4.4h-13.3zM917 1249.3h4.4v4.4h-4.4zM1041 1249.3h8.9v4.4h-8.9zM1063.2 1249.3h4.4v4.4h-4.4zM1072.1 1249.3h35.4v4.4h-35.4zM1173.9 1249.3h8.9v4.4h-8.9zM1302.4 1249.3h4.4v4.4h-4.4zM1342.3 1249.3h4.4v4.4h-4.4zM1408.7 1249.3h4.5v4.4h-4.5zM841.7 1253.7h4.4v4.4h-4.4zM1041 1253.7h8.9v4.4h-8.9zM1058.8 1253.7h4.4v4.4h-4.4zM1067.6 1253.7h8.9v4.4h-8.9zM1080.9 1253.7h13.3v4.4h-13.3zM1107.5 1253.7h4.4v4.4h-4.4zM1147.4 1253.7h26.5v4.4h-26.5zM1298 1253.7h8.8v4.4h-8.8zM1337.9 1253.7h4.4v4.4h-4.4zM1368.9 1253.7h4.4v4.4h-4.4zM1399.9 1253.7h17.7v4.4h-17.7zM850.6 1258.1h4.4v4.4h-4.4zM1041 1258.1h22.2v4.4h-22.2zM1085.3 1258.1h4.5v4.4h-4.5zM1111.9 1258.1h8.9v4.4h-8.9zM1156.2 1258.1h4.5v4.4h-4.5zM1298 1258.1h4.4v4.4h-4.4zM1373.3 1258.1h4.4v4.4h-4.4zM1408.7 1258.1h4.5v4.4h-4.5zM593.6 1262.5h8.9v4.5h-8.9zM1054.3 1262.5h8.9v4.5h-8.9zM1085.3 1262.5h22.2v4.5h-22.2zM1111.9 1262.5h8.9v4.5h-8.9zM1293.6 1262.5h8.8v4.5h-8.8zM1373.3 1262.5h13.3v4.5h-13.3zM1408.7 1262.5h4.5v4.5h-4.5zM580.3 1267h22.2v4.4h-22.2zM739.8 1267h8.9v4.4h-8.9zM1054.3 1267h8.9v4.4h-8.9zM1076.5 1267h8.8v4.4h-8.8zM1089.8 1267h17.7v4.4h-17.7zM1120.8 1267h17.7v4.4h-17.7zM1293.6 1267h4.4v4.4h-4.4zM584.8 1271.4h17.7v4.4h-17.7zM744.2 1271.4h13.3v4.4h-13.3zM1049.9 1271.4h26.6v4.4h-26.6zM1085.3 1271.4h4.5v4.4h-4.5zM1103.1 1271.4h4.4v4.4h-4.4zM1120.8 1271.4h4.4v4.4h-4.4zM1134.1 1271.4h31v4.4h-31zM584.8 1275.8h17.7v4.5h-17.7zM722.1 1275.8h4.4v4.5h-4.4zM753.1 1275.8h4.4v4.5h-4.4zM1045.5 1275.8h17.7v4.5h-17.7zM1067.6 1275.8h8.9v4.5h-8.9zM1103.1 1275.8h4.4v4.5h-4.4zM1134.1 1275.8h4.4v4.5h-4.4zM1160.7 1275.8h4.4v4.5h-4.4zM1249.3 1275.8h17.7v4.5h-17.7zM584.8 1280.3h17.7v4.4h-17.7zM1041 1280.3h13.3v4.4h-13.3zM1067.6 1280.3h4.5v4.4h-4.5zM1076.5 1280.3h4.4v4.4h-4.4zM1098.6 1280.3h13.3v4.4h-13.3zM1134.1 1280.3h4.4v4.4h-4.4zM1165.1 1280.3h8.8v4.4h-8.8zM1222.7 1280.3h4.4v4.4h-4.4zM1262.5 1280.3h13.3v4.4h-13.3zM598 1284.7h4.5v4.4h-4.5zM1018.9 1284.7h4.4v4.4h-4.4zM1041 1284.7h13.3v4.4h-13.3zM1072.1 1284.7h4.4v4.4h-4.4zM1094.2 1284.7h17.7v4.4h-17.7zM1134.1 1284.7h4.4v4.4h-4.4zM1169.5 1284.7h4.4v4.4h-4.4zM1018.9 1289.1h4.4v4.5h-4.4zM1041 1289.1h4.5v4.5h-4.5zM1067.6 1289.1h4.5v4.5h-4.5zM1094.2 1289.1h4.4v4.5h-4.4zM1103.1 1289.1h8.8v4.5h-8.8zM1134.1 1289.1h4.4v4.5h-4.4zM1169.5 1289.1h4.4v4.5h-4.4zM1018.9 1293.6h4.4v4.4h-4.4zM1045.5 1293.6h22.1v4.4h-22.1zM1094.2 1293.6h4.4v4.4h-4.4zM1103.1 1293.6h8.8v4.4h-8.8zM1134.1 1293.6h8.8v4.4h-8.8zM1156.2 1293.6h13.3v4.4h-13.3zM775.2 1298h4.5v4.4h-4.5zM1023.3 1298h4.5v4.4h-4.5zM1041 1298h13.3v4.4h-13.3zM1142.9 1298h4.5v4.4h-4.5zM1151.8 1298h8.9v4.4h-8.9zM1413.2 1298h4.4v4.4h-4.4zM1142.9 1302.4h13.3v4.4h-13.3zM1072.1 1306.8h4.4v4.5h-4.4zM1085.3 1306.8h8.9v4.5h-8.9zM1395.4 1306.8h4.5v4.5h-4.5zM1067.6 1311.3h4.5v4.4h-4.5zM1080.9 1311.3h8.9v4.4h-8.9zM447.4 1315.7h8.9v4.4h-8.9zM1080.9 1315.7h13.3v4.4h-13.3zM451.9 1320.1h4.4v4.5h-4.4zM1054.3 1320.1h17.8v4.5h-17.8zM1085.3 1320.1h8.9v4.5h-8.9zM451.9 1324.6h8.8v4.4h-8.8zM1063.2 1324.6h8.9v4.4h-8.9zM1337.9 1324.6h4.4v4.4h-4.4zM456.3 1329h4.4v4.4h-4.4zM1342.3 1329h8.8v4.4h-8.8zM460.7 1333.4h4.4v4.5h-4.4zM1342.3 1333.4h8.8v4.5h-8.8zM1426.5 1333.4h8.8v4.5h-8.8zM460.7 1337.9h4.4v4.4h-4.4zM1320.1 1337.9h8.9v4.4h-8.9zM1346.7 1337.9h13.3v4.4h-13.3zM1430.9 1337.9h4.4v4.4h-4.4zM465.1 1342.3h4.5v4.4h-4.5zM1311.3 1342.3h8.8v4.4h-8.8zM1329 1342.3h17.7v4.4h-17.7zM1355.6 1342.3h4.4v4.4h-4.4zM1435.3 1342.3h8.9v4.4h-8.9zM1311.3 1346.7h8.8v4.4h-8.8zM1355.6 1346.7h4.4v4.4h-4.4zM1439.8 1346.7h4.4v4.4h-4.4zM1302.4 1351.1h8.9v4.5h-8.9zM1315.7 1351.1h4.4v4.5h-4.4zM939.2 1355.6h4.4v4.4h-4.4zM934.7 1360h4.5v4.4h-4.5zM1156.2 1360h4.5v4.4h-4.5zM930.3 1364.4h8.9v4.5h-8.9zM943.6 1364.4h4.4v4.5h-4.4zM1156.2 1364.4h8.9v4.5h-8.9zM925.9 1368.9h8.8v4.4h-8.8zM939.2 1368.9h4.4v4.4h-4.4zM1160.7 1368.9h13.2v4.4h-13.2zM925.9 1373.3h8.8v4.4h-8.8zM952.4 1373.3h8.9v4.4h-8.9zM1169.5 1373.3h4.4v4.4h-4.4zM921.4 1377.7h13.3v4.5h-13.3zM948 1377.7h13.3v4.5h-13.3zM917 1382.2h4.4v4.4h-4.4zM925.9 1382.2h17.7v4.4h-17.7zM948 1382.2h4.4v4.4h-4.4zM912.6 1386.6h4.4v4.4h-4.4zM925.9 1386.6h17.7v4.4h-17.7zM948 1386.6h8.9v4.4h-8.9zM921.4 1391h8.9v4.4h-8.9zM948 1391h13.3v4.4h-13.3zM1049.9 1391h4.4v4.4h-4.4zM917 1395.4h13.3v4.5h-13.3zM952.4 1395.4h8.9v4.5h-8.9zM917 1399.9h8.9v4.4h-8.9zM917 1404.3h8.9v4.4h-8.9zM939.2 1470.8h4.4v4.4h-4.4zM917 1492.9h4.4v4.4h-4.4zM1072.1 1537.2h57.5v4.4h-57.5zM1049.9 1541.6h26.6v4.5h-26.6zM1129.6 1541.6h8.9v4.5h-8.9zM1041 1546.1h8.9v4.4h-8.9zM1134.1 1546.1h8.8v4.4h-8.8zM1018.9 1550.5h26.6v4.4h-26.6zM1138.5 1550.5h17.7v4.4h-17.7zM1173.9 1550.5h4.5v4.4h-4.5zM996.7 1554.9h26.6v4.5h-26.6zM1151.8 1554.9h8.9v4.5h-8.9zM1173.9 1554.9h4.5v4.5h-4.5zM970.2 1559.4h26.5v4.4h-26.5zM1156.2 1559.4h13.3v4.4h-13.3zM1178.4 1559.4h4.4v4.4h-4.4zM956.9 1563.8h17.7v4.4h-17.7zM1165.1 1563.8h4.4v4.4h-4.4zM1178.4 1563.8h4.4v4.4h-4.4zM939.2 1568.2h22.1v4.4h-22.1zM1165.1 1568.2h4.4v4.4h-4.4zM1178.4 1568.2h4.4v4.4h-4.4zM930.3 1572.6h13.3v4.5h-13.3zM1165.1 1572.6h4.4v4.5h-4.4zM921.4 1577.1h13.3v4.4h-13.3zM1165.1 1577.1h4.4v4.4h-4.4zM917 1581.5h4.4v4.4h-4.4zM1160.7 1581.5h8.8v4.4h-8.8zM908.1 1585.9h8.9v4.5h-8.9zM1160.7 1585.9h4.4v4.5h-4.4zM903.7 1590.4h8.9v4.4h-8.9zM1160.7 1590.4h4.4v4.4h-4.4zM899.3 1594.8h8.8v4.4h-8.8zM1156.2 1594.8h8.9v4.4h-8.9zM894.9 1599.2h8.8v4.5h-8.8zM1151.8 1599.2h8.9v4.5h-8.9zM890.4 1603.7h8.9v4.4h-8.9zM1151.8 1603.7h4.4v4.4h-4.4zM886 1608.1h8.9v4.4h-8.9zM1147.4 1608.1h8.8v4.4h-8.8zM877.1 1612.5h13.3v4.4h-13.3zM1147.4 1612.5h4.4v4.4h-4.4zM872.7 1616.9h8.9v4.5h-8.9zM1147.4 1616.9h4.4v4.5h-4.4zM868.3 1621.4h8.8v4.4h-8.8zM1142.9 1621.4h4.5v4.4h-4.5zM868.3 1625.8h4.4v4.4h-4.4zM1142.9 1625.8h4.5v4.4h-4.5zM863.8 1630.2h8.9v4.5h-8.9zM1138.5 1630.2h8.9v4.5h-8.9zM859.4 1634.7h8.9v4.4h-8.9zM1129.6 1634.7h13.3v4.4h-13.3zM859.4 1639.1h4.4v4.4h-4.4zM1116.4 1639.1h17.7v4.4h-17.7zM859.4 1643.5h4.4v4.5h-4.4zM1107.5 1643.5h13.3v4.5h-13.3zM859.4 1648h8.9v4.4h-8.9zM1103.1 1648h8.8v4.4h-8.8zM868.3 1652.4h4.4v4.4h-4.4zM1089.8 1652.4h13.3v4.4h-13.3zM868.3 1656.8h8.8v4.4h-8.8zM1045.5 1656.8h48.7v4.4h-48.7zM872.7 1661.2h8.9v4.5h-8.9zM1045.5 1661.2h4.4v4.5h-4.4zM881.6 1665.7h13.3v4.4h-13.3zM965.7 1665.7h17.8v4.4h-17.8zM1045.5 1665.7h4.4v4.4h-4.4zM890.4 1670.1h8.9v4.4h-8.9zM917 1670.1h53.2v4.4h-53.2zM983.5 1670.1h4.4v4.4h-4.4zM1014.5 1670.1h31v4.4h-31zM899.3 1674.5h4.4v4.5h-4.4zM917 1674.5h4.4v4.5h-4.4zM983.5 1674.5h13.2v4.5h-13.2zM1010 1674.5h8.9v4.5h-8.9zM1058.8 1674.5h4.4v4.5h-4.4zM899.3 1679h8.8v4.4h-8.8zM917 1679h4.4v4.4h-4.4zM992.3 1679h17.7v4.4h-17.7zM1966.9 1679h4.4v4.4h-4.4zM903.7 1683.4h17.7v4.4h-17.7zM1958.1 1683.4h13.2v4.4h-13.2zM912.6 1687.8h8.8v4.5h-8.8zM1949.2 1687.8h4.4v4.5h-4.4zM1949.2 1692.3h4.4v4.4h-4.4zM1980.2 1692.3h4.4v4.4h-4.4zM903.7 1696.7h13.3v4.4h-13.3zM1944.8 1696.7h4.4v4.4h-4.4zM1971.3 1696.7h13.3v4.4h-13.3zM903.7 1714.4h8.9v4.4h-8.9zM903.7 1718.8h8.9v4.5h-8.9z" fill="#333333" shape-rendering="crispEdges"/></g>
<g id="grid"><g stroke="#000" stroke-width="4.43" fill="none" stroke-dasharray="4.43 17.75" shape-rendering="crispEdges">
<line x1="802.0" y1="363.9" x2="802.0" y2="1767.4"/>
<line x1="1200.0" y1="363.9" x2="1200.0" y2="1767.4"/>
<line x1="1591.0" y1="363.9" x2="1591.0" y2="1767.4"/>
<line x1="420.3" y1="1361.0" x2="1984.6" y2="1361.0"/>
<line x1="420.3" y1="954.6" x2="1984.6" y2="954.6"/>
<line x1="420.3" y1="544.5" x2="1984.6" y2="544.5"/>
</g></g>
<g id="frame"><g stroke="#000" stroke-width="4.4" fill="none" shape-rendering="crispEdges">
<line x1="410.0" y1="324.0" x2="410.0" y2="1787.4"/>
<line x1="1988.6" y1="324.0" x2="1988.6" y2="1787.4"/>
<line x1="407.8" y1="344.0" x2="1990.8" y2="344.0"/>
<line x1="390.0" y1="1771.4" x2="2004.6" y2="1771.4"/>
<line x1="802.0" y1="324.0" x2="802.0" y2="344.0"/>
<line x1="802.0" y1="1771.4" x2="802.0" y2="1787.4"/>
<line x1="1200.0" y1="324.0" x2="1200.0" y2="344.0"/>
<line x1="1200.0" y1="1771.4" x2="1200.0" y2="1787.4"/>
<line x1="1591.0" y1="324.0" x2="1591.0" y2="344.0"/>
<line x1="1591.0" y1="1771.4" x2="1591.0" y2="1787.4"/>
<line x1="390.0" y1="1361.0" x2="410.0" y2="1361.0"/>
<line x1="1988.6" y1="1361.0" x2="2004.6" y2="1361.0"/>
<line x1="390.0" y1="954.6" x2="410.0" y2="954.6"/>
<line x1="1988.6" y1="954.6" x2="2004.6" y2="954.6"/>
<line x1="390.0" y1="544.5" x2="410.0" y2="544.5"/>
<line x1="1988.6" y1="544.5" x2="2004.6" y2="544.5"/>
</g></g>
<g id="cbar"><g shape-rendering="crispEdges">
<rect x="2082.3" y="1753.2" width="120.7" height="23" fill="#000095"/>
<rect x="2082.3" y="1730.8" width="120.7" height="23" fill="#0000a5"/>
<rect x="2082.3" y="1708.3" width="120.7" height="23" fill="#0000b6"/>
<rect x="2082.3" y="1685.9" width="120.7" height="23" fill="#0000c6"/>
<rect x="2082.3" y="1663.5" width="120.7" height="23" fill="#0000d7"/>
<rect x="2082.3" y="1641.1" width="120.7" height="23" fill="#0000e7"/>
<rect x="2082.3" y="1618.6" width="120.7" height="23" fill="#0000f8"/>
<rect x="2082.3" y="1596.2" width="120.7" height="23" fill="#0000ff"/>
<rect x="2082.3" y="1573.8" width="120.7" height="23" fill="#0010ff"/>
<rect x="2082.3" y="1551.4" width="120.7" height="23" fill="#0020ff"/>
<rect x="2082.3" y="1528.9" width="120.7" height="23" fill="#0030ff"/>
<rect x="2082.3" y="1506.5" width="120.7" height="23" fill="#0040ff"/>
<rect x="2082.3" y="1484.1" width="120.7" height="23" fill="#0050ff"/>
<rect x="2082.3" y="1461.7" width="120.7" height="23" fill="#0060ff"/>
<rect x="2082.3" y="1439.2" width="120.7" height="23" fill="#0070ff"/>
<rect x="2082.3" y="1416.8" width="120.7" height="23" fill="#0080ff"/>
<rect x="2082.3" y="1394.4" width="120.7" height="23" fill="#008fff"/>
<rect x="2082.3" y="1372" width="120.7" height="23" fill="#009fff"/>
<rect x="2082.3" y="1349.6" width="120.7" height="23" fill="#00afff"/>
<rect x="2082.3" y="1327.1" width="120.7" height="23" fill="#00bfff"/>
<rect x="2082.3" y="1304.7" width="120.7" height="23" fill="#00cfff"/>
<rect x="2082.3" y="1282.3" width="120.7" height="23" fill="#00dfff"/>
<rect x="2082.3" y="1259.9" width="120.7" height="23" fill="#00efff"/>
<rect x="2082.3" y="1237.4" width="120.7" height="23" fill="#00ffff"/>
<rect x="2082.3" y="1215" width="120.7" height="23" fill="#00fff8"/>
<rect x="2082.3" y="1192.6" width="120.7" height="23" fill="#00ffe6"/>
<rect x="2082.3" y="1170.2" width="120.7" height="23" fill="#00ffd3"/>
<rect x="2082.3" y="1147.7" width="120.7" height="23" fill="#00ffc0"/>
<rect x="2082.3" y="1125.3" width="120.7" height="23" fill="#00ffad"/>
<rect x="2082.3" y="1102.9" width="120.7" height="23" fill="#00ff99"/>
<rect x="2082.3" y="1080.5" width="120.7" height="23" fill="#00ff85"/>
<rect x="2082.3" y="1058" width="120.7" height="23" fill="#00ff6f"/>
<rect x="2082.3" y="1035.6" width="120.7" height="23" fill="#00ff60"/>
<rect x="2082.3" y="1013.2" width="120.7" height="23" fill="#58ff48"/>
<rect x="2082.3" y="990.8" width="120.7" height="23" fill="#85ff00"/>
<rect x="2082.3" y="968.4" width="120.7" height="23" fill="#a3ff00"/>
<rect x="2082.3" y="945.9" width="120.7" height="23" fill="#bfff00"/>
<rect x="2082.3" y="923.5" width="120.7" height="23" fill="#d8ff00"/>
<rect x="2082.3" y="901.1" width="120.7" height="23" fill="#f0ff00"/>
<rect x="2082.3" y="878.7" width="120.7" height="23" fill="#ffff00"/>
<rect x="2082.3" y="856.2" width="120.7" height="23" fill="#ffef00"/>
<rect x="2082.3" y="833.8" width="120.7" height="23" fill="#ffdf00"/>
<rect x="2082.3" y="811.4" width="120.7" height="23" fill="#ffcf00"/>
<rect x="2082.3" y="789" width="120.7" height="23" fill="#ffbf00"/>
<rect x="2082.3" y="766.5" width="120.7" height="23" fill="#ffaf00"/>
<rect x="2082.3" y="744.1" width="120.7" height="23" fill="#ff9f00"/>
<rect x="2082.3" y="721.7" width="120.7" height="23" fill="#ff8f00"/>
<rect x="2082.3" y="699.3" width="120.7" height="23" fill="#ff8000"/>
<rect x="2082.3" y="676.9" width="120.7" height="23" fill="#ff7000"/>
<rect x="2082.3" y="654.4" width="120.7" height="23" fill="#ff6000"/>
<rect x="2082.3" y="632" width="120.7" height="23" fill="#ff5000"/>
<rect x="2082.3" y="609.6" width="120.7" height="23" fill="#ff4000"/>
<rect x="2082.3" y="587.2" width="120.7" height="23" fill="#ff3000"/>
<rect x="2082.3" y="564.7" width="120.7" height="23" fill="#ff2000"/>
<rect x="2082.3" y="542.3" width="120.7" height="23" fill="#ff1000"/>
<rect x="2082.3" y="519.9" width="120.7" height="23" fill="#ff0000"/>
<rect x="2082.3" y="497.5" width="120.7" height="23" fill="#ff0000"/>
<rect x="2082.3" y="475" width="120.7" height="23" fill="#ff0000"/>
<rect x="2082.3" y="452.6" width="120.7" height="23" fill="#f70000"/>
<rect x="2082.3" y="430.2" width="120.7" height="23" fill="#e40000"/>
<rect x="2082.3" y="407.8" width="120.7" height="23" fill="#d10000"/>
<rect x="2082.3" y="385.3" width="120.7" height="23" fill="#be0000"/>
<rect x="2082.3" y="362.9" width="120.7" height="23" fill="#ab0000"/>
<rect x="2082.3" y="340.5" width="120.7" height="23" fill="#980000"/>
<rect x="2062.3" y="300" width="160.69999999999982" height="44.0" fill="#fff"/>
<rect x="2082.3" y="344.0" width="120.7" height="1431.6" fill="none" stroke="#000" stroke-width="4.4"/>
<g stroke="#000" stroke-width="4.4">
<line x1="2082.3" y1="544.6" x2="2097.3" y2="544.6"/>
<line x1="2183.0" y1="544.6" x2="2203.0" y2="544.6"/>
<line x1="2082.3" y1="954.7" x2="2097.3" y2="954.7"/>
<line x1="2183.0" y1="954.7" x2="2203.0" y2="954.7"/>
<line x1="2082.3" y1="1364.8" x2="2097.3" y2="1364.8"/>
<line x1="2183.0" y1="1364.8" x2="2203.0" y2="1364.8"/>
</g></g></g>
</defs>
<rect width="2457" height="4455" fill="#fff"/>
<g transform="translate(0,0)">
<g shape-rendering="crispEdges">
<path d="M1599.2 757.5H1603.7V797.4H1608.1V837.3H1612.5V877.1H1616.9V899.3H1621.4V917.0H1625.8V930.3H1630.2V925.9H1634.7V917.0H1639.1V912.6H1643.5V903.7H1648.0V899.3H1652.4V890.4H1656.8V886.0H1661.2V877.1H1665.7V872.7H1670.1V868.3H1674.5V859.4H1679.0V855.0H1683.4V846.1H1687.8V841.7H1692.3V832.8H1696.7V828.4H1701.1V815.1H1696.7V810.7H1687.8V806.3H1683.4V801.8H1679.0V797.4H1670.1V793.0H1665.7V788.5H1661.2V784.1H1652.4V779.7H1648.0V775.2H1639.1V770.8H1634.7V766.4H1630.2V762.0H1621.4V757.5H1616.9V753.1H1608.1V748.7H1603.7V744.2H1599.2Z" fill="#0070ff"/>
<path d="M1231.5 562.6H1227.1V567.0H1222.7V575.9H1218.2V584.8H1213.8V593.6H1209.4V602.5H1205.0V606.9H1200.5V611.3H1213.8V615.8H1227.1V620.2H1240.4V629.1H1244.8V633.5H1249.3V642.3H1253.7V646.8H1258.1V655.6H1262.5V660.1H1267.0V664.5H1271.4V673.4H1275.8V677.8H1280.3V686.6H1284.7V691.1H1289.1V699.9H1293.6V704.4H1298.0V713.2H1302.4V717.7H1306.8V722.1H1311.3V730.9H1315.7V735.4H1320.1V744.2H1324.6V748.7H1329.0V757.5H1333.4V762.0H1337.9V770.8H1342.3V788.5H1351.1V793.0H1364.4V788.5H1373.3V784.1H1386.6V779.7H1395.4V775.2H1408.7V770.8H1417.6V766.4H1430.9V762.0H1439.8V757.5H1453.0V753.1H1461.9V748.7H1475.2V744.2H1488.5V739.8H1497.3V735.4H1510.6V730.9H1519.5V726.5H1532.8V722.1H1541.6V717.7H1554.9V713.2H1563.8V722.1H1568.2V762.0H1572.6V797.4H1577.1V837.3H1581.5V877.1H1585.9V899.3H1590.4V917.0H1594.8V934.7H1599.2V952.4H1603.7V970.2H1608.1V974.6H1612.5V965.7H1616.9V961.3H1621.4V952.4H1625.8V948.0H1630.2V939.2H1634.7V934.7H1639.1V925.9H1643.5V921.4H1648.0V912.6H1652.4V908.1H1656.8V903.7H1661.2V894.9H1665.7V890.4H1670.1V881.6H1674.5V877.1H1679.0V868.3H1683.4V863.8H1687.8V855.0H1692.3V850.6H1696.7V841.7H1701.1V837.3H1705.5V828.4H1710.0V824.0H1714.4V819.5H1718.8V810.7H1723.3V806.3H1727.7V797.4H1732.1V793.0H1736.6V784.1H1741.0V779.7H1745.4V770.8H1749.8V766.4H1754.3V757.5H1758.7V748.7H1754.3V744.2H1749.8V739.8H1741.0V735.4H1736.6V730.9H1732.1V726.5H1723.3V722.1H1718.8V717.7H1714.4V699.9H1718.8V682.2H1723.3V660.1H1727.7V633.5H1723.3V624.6H1718.8V615.8H1714.4V606.9H1710.0V602.5H1705.5V593.6H1701.1V584.8H1696.7V575.9H1692.3V567.0H1687.8V558.2H1683.4V549.3H1679.0V540.5H1674.5V531.6H1670.1V527.2H1665.7V518.3H1661.2V509.4H1656.8V500.6H1652.4V491.7H1639.1V487.3H1621.4V482.9H1608.1V478.4H1590.4V474.0H1572.6V469.6H1559.4V465.1H1541.6V460.7H1523.9V456.3H1510.6V451.9H1492.9V447.4H1475.2V443.0H1461.9V438.6H1444.2V434.1H1426.5V429.7H1413.2V425.3H1399.9V429.7H1408.7V434.1H1417.6V438.6H1426.5V443.0H1430.9V447.4H1439.8V451.9H1448.6V456.3H1457.5V460.7H1466.3V465.1H1475.2V469.6H1484.0V474.0H1488.5V478.4H1497.3V482.9H1506.2V487.3H1515.1V491.7H1523.9V496.2H1532.8V500.6H1541.6V505.0H1550.5V509.4H1554.9V513.9H1563.8V522.7H1559.4V531.6H1554.9V540.5H1550.5V549.3H1546.1V558.2H1541.6V567.0H1537.2V575.9H1532.8V584.8H1528.3V593.6H1523.9V602.5H1519.5V611.3H1515.1V615.8H1510.6V620.2H1501.8V624.6H1497.3V629.1H1488.5V633.5H1484.0V637.9H1475.2V642.3H1470.8V646.8H1461.9V651.2H1457.5V655.6H1448.6V660.1H1444.2V664.5H1439.8V668.9H1430.9V673.4H1426.5V677.8H1417.6V682.2H1413.2V686.6H1404.3V691.1H1399.9V695.5H1391.0V686.6H1386.6V673.4H1382.2V664.5H1377.7V651.2H1373.3V637.9H1368.9V624.6H1364.4V615.8H1360.0V602.5H1355.6V589.2H1351.1V580.3H1346.7V575.9H1333.4V571.5H1320.1V567.0H1306.8V562.6H1293.6V558.2H1280.3V553.8H1267.0V549.3H1253.7V544.9H1236.0V553.8H1231.5ZM1608.1 797.4H1603.7V757.5H1599.2V744.2H1603.7V748.7H1608.1V753.1H1616.9V757.5H1621.4V762.0H1630.2V766.4H1634.7V770.8H1639.1V775.2H1648.0V779.7H1652.4V784.1H1661.2V788.5H1665.7V793.0H1670.1V797.4H1679.0V801.8H1683.4V806.3H1687.8V810.7H1696.7V815.1H1701.1V828.4H1696.7V832.8H1692.3V841.7H1687.8V846.1H1683.4V855.0H1679.0V859.4H1674.5V868.3H1670.1V872.7H1665.7V877.1H1661.2V886.0H1656.8V890.4H1652.4V899.3H1648.0V903.7H1643.5V912.6H1639.1V917.0H1634.7V925.9H1630.2V930.3H1625.8V917.0H1621.4V899.3H1616.9V877.1H1612.5V837.3H1608.1ZM1005.6 1550.5V1554.9H1049.9V1559.4H1094.2V1563.8H1138.5V1568.2H1169.5V1563.8H1156.2V1559.4H1125.2V1554.9H1094.2V1550.5H1063.2V1546.1H1032.2V1541.6H1018.9V1537.2H1010.0V1541.6H1005.6V1546.1H1001.2V1550.5ZM1001.2 1546.1V1541.6H996.7V1546.1ZM1395.4 420.8H1391.0V425.3H1395.4Z" fill="#00afff"/>
<path d="M788.5 496.2V500.6H784.1V509.4H788.5V505.0H793.0V500.6H925.9V496.2H1067.6V491.7H1182.8V496.2H1178.4V505.0H1173.9V513.9H1169.5V518.3H1165.1V527.2H1160.7V536.0H1156.2V544.9H1151.8V553.8H1147.4V558.2H1142.9V567.0H1138.5V575.9H1134.1V584.8H1129.6V589.2H1125.2V598.0H1120.8V606.9H1125.2V611.3H1138.5V615.8H1151.8V620.2H1165.1V624.6H1178.4V629.1H1191.7V633.5H1205.0V637.9H1218.2V642.3H1227.1V651.2H1231.5V655.6H1236.0V664.5H1240.4V668.9H1244.8V673.4H1249.3V682.2H1253.7V686.6H1258.1V695.5H1262.5V699.9H1267.0V708.8H1271.4V713.2H1275.8V722.1H1280.3V726.5H1284.7V730.9H1289.1V739.8H1293.6V744.2H1298.0V753.1H1302.4V766.4H1298.0V788.5H1293.6V810.7H1289.1V815.1H1306.8V819.5H1329.0V824.0H1346.7V828.4H1377.7V824.0H1386.6V819.5H1399.9V815.1H1408.7V810.7H1422.0V806.3H1430.9V801.8H1444.2V797.4H1453.0V793.0H1466.3V788.5H1475.2V784.1H1488.5V779.7H1497.3V775.2H1510.6V770.8H1519.5V766.4H1532.8V762.0H1541.6V801.8H1546.1V841.7H1550.5V881.6H1554.9V903.7H1559.4V917.0H1563.8V934.7H1568.2V952.4H1572.6V970.2H1577.1V987.9H1581.5V1005.6H1585.9V1018.9H1590.4V1014.5H1594.8V1010.0H1599.2V1001.2H1603.7V996.7H1608.1V987.9H1612.5V983.5H1616.9V974.6H1621.4V970.2H1625.8V961.3H1630.2V956.9H1634.7V948.0H1639.1V943.6H1643.5V934.7H1648.0V930.3H1652.4V925.9H1656.8V917.0H1661.2V912.6H1665.7V903.7H1670.1V899.3H1674.5V890.4H1679.0V886.0H1683.4V877.1H1687.8V872.7H1692.3V863.8H1696.7V859.4H1701.1V855.0H1705.5V846.1H1710.0V841.7H1714.4V832.8H1718.8V828.4H1723.3V819.5H1727.7V815.1H1732.1V806.3H1736.6V801.8H1741.0V793.0H1745.4V784.1H1749.8V775.2H1754.3V770.8H1758.7V762.0H1763.1V753.1H1767.6V744.2H1772.0V739.8H1776.4V726.5H1772.0V717.7H1767.6V708.8H1763.1V699.9H1758.7V691.1H1754.3V686.6H1749.8V677.8H1745.4V668.9H1741.0V660.1H1736.6V651.2H1732.1V642.3H1727.7V660.1H1723.3V682.2H1718.8V699.9H1714.4V717.7H1718.8V722.1H1723.3V726.5H1732.1V730.9H1736.6V735.4H1741.0V739.8H1749.8V744.2H1754.3V748.7H1758.7V757.5H1754.3V766.4H1749.8V770.8H1745.4V779.7H1741.0V784.1H1736.6V793.0H1732.1V797.4H1727.7V806.3H1723.3V810.7H1718.8V819.5H1714.4V824.0H1710.0V828.4H1705.5V837.3H1701.1V841.7H1696.7V850.6H1692.3V855.0H1687.8V863.8H1683.4V868.3H1679.0V877.1H1674.5V881.6H1670.1V890.4H1665.7V894.9H1661.2V903.7H1656.8V908.1H1652.4V912.6H1648.0V921.4H1643.5V925.9H1639.1V934.7H1634.7V939.2H1630.2V948.0H1625.8V952.4H1621.4V961.3H1616.9V965.7H1612.5V974.6H1608.1V970.2H1603.7V952.4H1599.2V934.7H1594.8V917.0H1590.4V899.3H1585.9V877.1H1581.5V837.3H1577.1V797.4H1572.6V762.0H1568.2V722.1H1563.8V713.2H1554.9V717.7H1541.6V722.1H1532.8V726.5H1519.5V730.9H1510.6V735.4H1497.3V739.8H1488.5V744.2H1475.2V748.7H1461.9V753.1H1453.0V757.5H1439.8V762.0H1430.9V766.4H1417.6V770.8H1408.7V775.2H1395.4V779.7H1386.6V784.1H1373.3V788.5H1364.4V793.0H1351.1V788.5H1342.3V770.8H1337.9V762.0H1333.4V757.5H1329.0V748.7H1324.6V744.2H1320.1V735.4H1315.7V730.9H1311.3V722.1H1306.8V717.7H1302.4V713.2H1298.0V704.4H1293.6V699.9H1289.1V691.1H1284.7V686.6H1280.3V677.8H1275.8V673.4H1271.4V664.5H1267.0V660.1H1262.5V655.6H1258.1V646.8H1253.7V642.3H1249.3V633.5H1244.8V629.1H1240.4V620.2H1227.1V615.8H1213.8V611.3H1200.5V606.9H1205.0V602.5H1209.4V593.6H1213.8V584.8H1218.2V575.9H1222.7V567.0H1227.1V562.6H1231.5V553.8H1236.0V544.9H1253.7V549.3H1267.0V553.8H1280.3V558.2H1293.6V562.6H1306.8V567.0H1320.1V571.5H1333.4V575.9H1346.7V580.3H1351.1V589.2H1355.6V602.5H1360.0V615.8H1364.4V624.6H1368.9V637.9H1373.3V651.2H1377.7V664.5H1382.2V673.4H1386.6V686.6H1391.0V695.5H1399.9V691.1H1404.3V686.6H1413.2V682.2H1417.6V677.8H1426.5V673.4H1430.9V668.9H1439.8V664.5H1444.2V660.1H1448.6V655.6H1457.5V651.2H1461.9V646.8H1470.8V642.3H1475.2V637.9H1484.0V633.5H1488.5V629.1H1497.3V624.6H1501.8V620.2H1510.6V615.8H1515.1V611.3H1519.5V602.5H1523.9V593.6H1528.3V584.8H1532.8V575.9H1537.2V567.0H1541.6V558.2H1546.1V549.3H1550.5V540.5H1554.9V531.6H1559.4V522.7H1563.8V513.9H1554.9V509.4H1550.5V505.0H1541.6V500.6H1532.8V496.2H1523.9V491.7H1515.1V487.3H1506.2V482.9H1497.3V478.4H1488.5V474.0H1484.0V469.6H1475.2V465.1H1466.3V460.7H1457.5V456.3H1448.6V451.9H1439.8V447.4H1430.9V443.0H1426.5V438.6H1417.6V434.1H1408.7V429.7H1399.9V425.3H1391.0V420.8H1382.2V416.4H1364.4V412.0H1346.7V407.6H1333.4V403.1H1315.7V398.7H1293.6V403.1H1271.4V407.6H1249.3V412.0H1222.7V416.4H1200.5V420.8H1178.4V425.3H1156.2V429.7H1129.6V434.1H1107.5V438.6H1085.3V443.0H1063.2V447.4H1036.6V451.9H1014.5V456.3H992.3V460.7H965.7V465.1H943.6V469.6H921.4V474.0H899.3V478.4H872.7V482.9H850.6V487.3H828.4V491.7H806.3V496.2ZM1032.2 1444.2H1023.3V1448.6H1018.9V1453.0H1014.5V1457.5H1010.0V1461.9H1005.6V1466.3H1001.2V1470.8H992.3V1475.2H987.9V1479.6H983.5V1484.0H979.0V1488.5H970.2V1484.0H956.9V1479.6H948.0V1475.2H934.7V1470.8H921.4V1475.2H925.9V1479.6H934.7V1484.0H939.2V1488.5H943.6V1492.9H948.0V1497.3H952.4V1501.8H956.9V1506.2H961.3V1510.6H965.7V1515.1H970.2V1519.5H974.6V1523.9H979.0V1528.3H983.5V1532.8H987.9V1537.2H992.3V1541.6H1001.2V1546.1H1005.6V1541.6H1010.0V1537.2H1018.9V1541.6H1032.2V1546.1H1063.2V1550.5H1094.2V1554.9H1125.2V1559.4H1156.2V1563.8H1173.9V1559.4H1178.4V1554.9H1182.8V1550.5H1187.2V1541.6H1191.7V1537.2H1196.1V1532.8H1200.5V1528.3H1205.0V1523.9H1209.4V1519.5H1213.8V1515.1H1218.2V1510.6H1222.7V1506.2H1227.1V1501.8H1231.5V1497.3H1236.0V1488.5H1227.1V1484.0H1196.1V1479.6H1165.1V1475.2H1134.1V1470.8H1125.2V1466.3H1120.8V1461.9H1111.9V1457.5H1103.1V1453.0H1094.2V1448.6H1085.3V1444.2H1076.5V1439.8H1067.6V1435.3H1058.8V1430.9H1049.9V1426.5H1045.5V1430.9H1041.0V1435.3H1036.6V1439.8H1032.2ZM921.4 1466.3H917.0V1470.8H921.4Z" fill="#00dfff"/>
<path d="M775.2 527.2H770.8V536.0H766.4V544.9H762.0V553.8H757.5V562.6H753.1V571.5H748.7V575.9H744.2V584.8H739.8V593.6H735.4V602.5H730.9V611.3H739.8V606.9H748.7V602.5H757.5V598.0H762.0V593.6H770.8V589.2H779.7V584.8H788.5V580.3H797.4V575.9H801.8V571.5H810.7V567.0H819.5V562.6H828.4V558.2H837.3V553.8H846.1V549.3H850.6V544.9H965.7V540.5H1067.6V549.3H1063.2V558.2H1058.8V567.0H1054.3V571.5H1049.9V580.3H1045.5V589.2H1041.0V598.0H1036.6V606.9H1045.5V611.3H1063.2V615.8H1076.5V620.2H1089.8V624.6H1103.1V629.1H1116.4V633.5H1129.6V637.9H1142.9V642.3H1156.2V646.8H1169.5V651.2H1182.8V655.6H1196.1V660.1H1209.4V664.5H1213.8V673.4H1218.2V677.8H1222.7V686.6H1227.1V691.1H1231.5V695.5H1236.0V704.4H1240.4V708.8H1244.8V717.7H1249.3V722.1H1253.7V730.9H1258.1V757.5H1253.7V779.7H1249.3V801.8H1244.8V824.0H1240.4V841.7H1262.5V846.1H1284.7V850.6H1302.4V855.0H1324.6V859.4H1346.7V863.8H1368.9V868.3H1377.7V863.8H1386.6V859.4H1399.9V855.0H1408.7V850.6H1422.0V846.1H1435.3V841.7H1444.2V837.3H1457.5V832.8H1466.3V828.4H1479.6V824.0H1488.5V819.5H1501.8V815.1H1510.6V810.7H1515.1V846.1H1519.5V886.0H1523.9V903.7H1528.3V921.4H1532.8V939.2H1537.2V956.9H1541.6V970.2H1546.1V987.9H1550.5V1005.6H1554.9V1023.3H1559.4V1041.0H1563.8V1058.8H1568.2V1063.2H1572.6V1054.3H1577.1V1049.9H1581.5V1045.5H1585.9V1036.6H1590.4V1032.2H1594.8V1023.3H1599.2V1018.9H1603.7V1010.0H1608.1V1005.6H1612.5V996.7H1616.9V992.3H1621.4V983.5H1625.8V979.0H1630.2V970.2H1634.7V965.7H1639.1V961.3H1643.5V952.4H1648.0V948.0H1652.4V939.2H1656.8V934.7H1661.2V925.9H1665.7V921.4H1670.1V912.6H1674.5V908.1H1679.0V899.3H1683.4V890.4H1687.8V886.0H1692.3V877.1H1696.7V868.3H1701.1V859.4H1696.7V863.8H1692.3V872.7H1687.8V877.1H1683.4V886.0H1679.0V890.4H1674.5V899.3H1670.1V903.7H1665.7V912.6H1661.2V917.0H1656.8V925.9H1652.4V930.3H1648.0V934.7H1643.5V943.6H1639.1V948.0H1634.7V956.9H1630.2V961.3H1625.8V970.2H1621.4V974.6H1616.9V983.5H1612.5V987.9H1608.1V996.7H1603.7V1001.2H1599.2V1010.0H1594.8V1014.5H1590.4V1018.9H1585.9V1005.6H1581.5V987.9H1577.1V970.2H1572.6V952.4H1568.2V934.7H1563.8V917.0H1559.4V903.7H1554.9V881.6H1550.5V841.7H1546.1V801.8H1541.6V762.0H1532.8V766.4H1519.5V770.8H1510.6V775.2H1497.3V779.7H1488.5V784.1H1475.2V788.5H1466.3V793.0H1453.0V797.4H1444.2V801.8H1430.9V806.3H1422.0V810.7H1408.7V815.1H1399.9V819.5H1386.6V824.0H1377.7V828.4H1346.7V824.0H1329.0V819.5H1306.8V815.1H1289.1V810.7H1293.6V788.5H1298.0V766.4H1302.4V753.1H1298.0V744.2H1293.6V739.8H1289.1V730.9H1284.7V726.5H1280.3V722.1H1275.8V713.2H1271.4V708.8H1267.0V699.9H1262.5V695.5H1258.1V686.6H1253.7V682.2H1249.3V673.4H1244.8V668.9H1240.4V664.5H1236.0V655.6H1231.5V651.2H1227.1V642.3H1218.2V637.9H1205.0V633.5H1191.7V629.1H1178.4V624.6H1165.1V620.2H1151.8V615.8H1138.5V611.3H1125.2V606.9H1120.8V598.0H1125.2V589.2H1129.6V584.8H1134.1V575.9H1138.5V567.0H1142.9V558.2H1147.4V553.8H1151.8V544.9H1156.2V536.0H1160.7V527.2H1165.1V518.3H1169.5V513.9H1173.9V505.0H1178.4V496.2H1182.8V491.7H1067.6V496.2H925.9V500.6H793.0V505.0H788.5V509.4H779.7V518.3H775.2ZM730.9 611.3H726.5V615.8H730.9ZM855.0 1404.3V1408.7H859.4V1413.2H863.8V1417.6H868.3V1422.0H872.7V1426.5H877.1V1430.9H881.6V1435.3H886.0V1439.8H890.4V1444.2H894.9V1448.6H899.3V1453.0H903.7V1457.5H908.1V1461.9H912.6V1466.3H921.4V1470.8H934.7V1475.2H948.0V1479.6H956.9V1484.0H970.2V1488.5H979.0V1484.0H983.5V1479.6H987.9V1475.2H992.3V1470.8H1001.2V1466.3H1005.6V1461.9H1010.0V1457.5H1014.5V1453.0H1018.9V1448.6H1023.3V1444.2H1032.2V1439.8H1036.6V1435.3H1041.0V1430.9H1045.5V1426.5H1049.9V1430.9H1058.8V1435.3H1067.6V1439.8H1076.5V1444.2H1085.3V1448.6H1094.2V1453.0H1103.1V1457.5H1111.9V1461.9H1120.8V1466.3H1125.2V1470.8H1134.1V1475.2H1165.1V1479.6H1196.1V1484.0H1227.1V1488.5H1240.4V1484.0H1244.8V1479.6H1249.3V1475.2H1253.7V1470.8H1258.1V1466.3H1262.5V1461.9H1267.0V1457.5H1271.4V1453.0H1275.8V1448.6H1280.3V1444.2H1284.7V1439.8H1289.1V1430.9H1293.6V1426.5H1298.0V1422.0H1302.4V1417.6H1306.8V1413.2H1311.3V1408.7H1267.0V1404.3H1244.8V1399.9H1236.0V1395.4H1227.1V1391.0H1218.2V1386.6H1209.4V1382.2H1205.0V1377.7H1196.1V1373.3H1187.2V1368.9H1178.4V1364.4H1169.5V1360.0H1160.7V1355.6H1151.8V1351.1H1142.9V1346.7H1134.1V1342.3H1129.6V1337.9H1120.8V1333.4H1111.9V1329.0H1103.1V1324.6H1094.2V1320.1H1085.3V1315.7H1080.9V1320.1H1076.5V1324.6H1072.1V1329.0H1067.6V1333.4H1058.8V1337.9H1054.3V1342.3H1049.9V1346.7H1045.5V1351.1H1041.0V1355.6H1036.6V1360.0H1027.8V1364.4H1023.3V1368.9H1018.9V1373.3H1014.5V1377.7H1010.0V1382.2H1005.6V1386.6H996.7V1391.0H992.3V1395.4H987.9V1399.9H983.5V1404.3H979.0V1408.7H974.6V1413.2H965.7V1417.6H961.3V1422.0H956.9V1426.5H952.4V1430.9H939.2V1426.5H930.3V1422.0H917.0V1417.6H903.7V1413.2H890.4V1408.7H881.6V1404.3H868.3V1399.9H855.0V1395.4H846.1V1391.0H837.3V1395.4H841.7V1399.9H846.1V1404.3ZM1727.7 819.5H1723.3V824.0H1727.7ZM1723.3 828.4H1718.8V832.8H1723.3ZM1718.8 832.8H1714.4V837.3H1718.8ZM1714.4 841.7H1710.0V846.1H1714.4ZM1705.5 846.1V855.0H1710.0V846.1ZM1701.1 859.4H1705.5V855.0H1701.1Z" fill="#00ffe6"/>
<path d="M762.0 593.6V598.0H757.5V602.5H748.7V606.9H739.8V611.3H730.9V615.8H726.5V620.2H722.1V629.1H717.7V637.9H713.2V646.8H708.8V655.6H704.4V664.5H699.9V673.4H695.5V682.2H691.1V686.6H686.6V695.5H682.2V704.4H677.8V713.2H673.4V722.1H677.8V717.7H682.2V713.2H691.1V708.8H699.9V704.4H708.8V699.9H717.7V695.5H722.1V691.1H730.9V686.6H739.8V682.2H748.7V677.8H757.5V673.4H762.0V668.9H770.8V664.5H779.7V660.1H788.5V655.6H797.4V651.2H806.3V646.8H810.7V642.3H819.5V637.9H828.4V633.5H837.3V629.1H846.1V624.6H850.6V620.2H859.4V615.8H868.3V611.3H877.1V606.9H886.0V602.5H894.9V598.0H899.3V593.6H908.1V589.2H956.9V593.6H952.4V602.5H956.9V606.9H970.2V611.3H983.5V615.8H996.7V620.2H1010.0V624.6H1023.3V629.1H1036.6V633.5H1054.3V637.9H1067.6V642.3H1080.9V646.8H1094.2V651.2H1107.5V655.6H1120.8V660.1H1134.1V664.5H1147.4V668.9H1160.7V673.4H1173.9V677.8H1187.2V682.2H1196.1V686.6H1200.5V695.5H1205.0V699.9H1209.4V704.4H1213.8V713.2H1218.2V730.9H1213.8V748.7H1209.4V770.8H1205.0V793.0H1200.5V815.1H1196.1V837.3H1191.7V859.4H1187.2V863.8H1196.1V868.3H1218.2V872.7H1240.4V877.1H1258.1V881.6H1280.3V886.0H1302.4V890.4H1324.6V894.9H1342.3V899.3H1364.4V903.7H1386.6V899.3H1399.9V894.9H1408.7V890.4H1422.0V886.0H1435.3V881.6H1444.2V877.1H1457.5V872.7H1470.8V868.3H1479.6V863.8H1488.5V886.0H1492.9V903.7H1497.3V921.4H1501.8V939.2H1506.2V956.9H1510.6V974.6H1515.1V992.3H1519.5V1005.6H1523.9V1023.3H1528.3V1041.0H1532.8V1058.8H1537.2V1076.5H1541.6V1094.2H1546.1V1111.9H1550.5V1103.1H1554.9V1098.6H1559.4V1089.8H1563.8V1085.3H1568.2V1076.5H1572.6V1072.1H1577.1V1067.6H1581.5V1058.8H1585.9V1054.3H1590.4V1045.5H1594.8V1041.0H1599.2V1032.2H1603.7V1027.8H1608.1V1018.9H1612.5V1014.5H1616.9V1005.6H1621.4V1001.2H1625.8V992.3H1630.2V983.5H1634.7V974.6H1639.1V970.2H1643.5V961.3H1639.1V965.7H1634.7V970.2H1630.2V979.0H1625.8V983.5H1621.4V992.3H1616.9V996.7H1612.5V1005.6H1608.1V1010.0H1603.7V1018.9H1599.2V1023.3H1594.8V1032.2H1590.4V1036.6H1585.9V1045.5H1581.5V1049.9H1577.1V1054.3H1572.6V1063.2H1568.2V1058.8H1563.8V1041.0H1559.4V1023.3H1554.9V1005.6H1550.5V987.9H1546.1V970.2H1541.6V956.9H1537.2V939.2H1532.8V921.4H1528.3V903.7H1523.9V886.0H1519.5V846.1H1515.1V810.7H1510.6V815.1H1501.8V819.5H1488.5V824.0H1479.6V828.4H1466.3V832.8H1457.5V837.3H1444.2V841.7H1435.3V846.1H1422.0V850.6H1408.7V855.0H1399.9V859.4H1386.6V863.8H1377.7V868.3H1368.9V863.8H1346.7V859.4H1324.6V855.0H1302.4V850.6H1284.7V846.1H1262.5V841.7H1240.4V824.0H1244.8V801.8H1249.3V779.7H1253.7V757.5H1258.1V730.9H1253.7V722.1H1249.3V717.7H1244.8V708.8H1240.4V704.4H1236.0V695.5H1231.5V691.1H1227.1V686.6H1222.7V677.8H1218.2V673.4H1213.8V664.5H1209.4V660.1H1196.1V655.6H1182.8V651.2H1169.5V646.8H1156.2V642.3H1142.9V637.9H1129.6V633.5H1116.4V629.1H1103.1V624.6H1089.8V620.2H1076.5V615.8H1063.2V611.3H1045.5V606.9H1036.6V598.0H1041.0V589.2H1045.5V580.3H1049.9V571.5H1054.3V567.0H1058.8V558.2H1063.2V549.3H1067.6V540.5H965.7V544.9H850.6V549.3H846.1V553.8H837.3V558.2H828.4V562.6H819.5V567.0H810.7V571.5H801.8V575.9H797.4V580.3H788.5V584.8H779.7V589.2H770.8V593.6ZM770.8 1329.0V1333.4H779.7V1337.9H784.1V1342.3H788.5V1346.7H793.0V1351.1H797.4V1355.6H801.8V1360.0H806.3V1364.4H810.7V1368.9H815.1V1373.3H819.5V1377.7H824.0V1382.2H828.4V1386.6H832.8V1391.0H846.1V1395.4H855.0V1399.9H868.3V1404.3H881.6V1408.7H890.4V1413.2H903.7V1417.6H917.0V1422.0H930.3V1426.5H939.2V1430.9H952.4V1426.5H956.9V1422.0H961.3V1417.6H965.7V1413.2H974.6V1408.7H979.0V1404.3H983.5V1399.9H987.9V1395.4H992.3V1391.0H996.7V1386.6H1005.6V1382.2H1010.0V1377.7H1014.5V1373.3H1018.9V1368.9H1023.3V1364.4H1027.8V1360.0H1036.6V1355.6H1041.0V1351.1H1045.5V1346.7H1049.9V1342.3H1054.3V1337.9H1058.8V1333.4H1067.6V1329.0H1072.1V1324.6H1076.5V1320.1H1080.9V1315.7H1085.3V1320.1H1094.2V1324.6H1103.1V1329.0H1111.9V1333.4H1120.8V1337.9H1129.6V1342.3H1134.1V1346.7H1142.9V1351.1H1151.8V1355.6H1160.7V1360.0H1169.5V1364.4H1178.4V1368.9H1187.2V1373.3H1196.1V1377.7H1205.0V1382.2H1209.4V1386.6H1218.2V1391.0H1227.1V1395.4H1236.0V1399.9H1244.8V1404.3H1267.0V1408.7H1315.7V1404.3H1320.1V1399.9H1324.6V1395.4H1329.0V1391.0H1333.4V1386.6H1337.9V1377.7H1342.3V1373.3H1346.7V1368.9H1351.1V1364.4H1355.6V1360.0H1360.0V1355.6H1364.4V1351.1H1368.9V1346.7H1373.3V1342.3H1377.7V1337.9H1382.2V1333.4H1351.1V1329.0H1342.3V1324.6H1333.4V1320.1H1329.0V1315.7H1320.1V1311.3H1311.3V1306.8H1302.4V1302.4H1293.6V1298.0H1289.1V1293.6H1280.3V1289.1H1271.4V1284.7H1262.5V1280.3H1253.7V1275.8H1244.8V1271.4H1236.0V1267.0H1227.1V1262.5H1222.7V1258.1H1213.8V1253.7H1205.0V1249.3H1196.1V1244.8H1187.2V1240.4H1178.4V1236.0H1169.5V1231.5H1160.7V1227.1H1151.8V1222.7H1147.4V1218.2H1138.5V1213.8H1129.6V1209.4H1120.8V1205.0H1116.4V1209.4H1111.9V1213.8H1107.5V1218.2H1103.1V1222.7H1094.2V1227.1H1089.8V1231.5H1085.3V1236.0H1080.9V1240.4H1076.5V1244.8H1072.1V1249.3H1063.2V1253.7H1058.8V1258.1H1054.3V1262.5H1049.9V1267.0H1045.5V1271.4H1041.0V1275.8H1032.2V1280.3H1027.8V1284.7H1023.3V1289.1H1018.9V1293.6H1014.5V1298.0H1010.0V1302.4H1001.2V1306.8H996.7V1311.3H992.3V1315.7H987.9V1320.1H983.5V1324.6H979.0V1329.0H970.2V1333.4H965.7V1337.9H961.3V1342.3H956.9V1346.7H952.4V1351.1H948.0V1355.6H939.2V1360.0H934.7V1364.4H930.3V1368.9H925.9V1373.3H908.1V1368.9H899.3V1364.4H886.0V1360.0H872.7V1355.6H859.4V1351.1H850.6V1346.7H837.3V1342.3H824.0V1337.9H815.1V1333.4H801.8V1329.0H788.5V1324.6H779.7V1320.1H766.4V1315.7H757.5V1320.1H762.0V1324.6H766.4V1329.0ZM1674.5 912.6H1670.1V917.0H1674.5ZM1665.7 925.9H1661.2V930.3H1665.7ZM1661.2 939.2V934.7H1656.8V939.2ZM1656.8 939.2H1652.4V948.0H1656.8ZM1652.4 948.0H1648.0V952.4H1652.4ZM1643.5 952.4V961.3H1648.0V952.4Z" fill="#00ff99"/>
<path d="M668.9 730.9H664.5V739.8H660.1V748.7H655.6V757.5H651.2V766.4H646.8V775.2H642.3V784.1H637.9V793.0H633.5V797.4H629.1V806.3H624.6V815.1H620.2V824.0H629.1V819.5H637.9V815.1H642.3V810.7H651.2V806.3H660.1V801.8H668.9V797.4H677.8V793.0H682.2V788.5H691.1V784.1H699.9V779.7H708.8V775.2H717.7V770.8H726.5V766.4H730.9V762.0H739.8V757.5H748.7V753.1H757.5V748.7H766.4V744.2H770.8V739.8H779.7V735.4H788.5V730.9H797.4V726.5H806.3V722.1H815.1V717.7H819.5V713.2H824.0V717.7H832.8V722.1H846.1V726.5H859.4V730.9H868.3V735.4H881.6V739.8H894.9V744.2H903.7V748.7H917.0V753.1H930.3V757.5H939.2V762.0H952.4V766.4H965.7V770.8H974.6V775.2H1001.2V770.8H1027.8V766.4H1049.9V762.0H1072.1V757.5H1094.2V753.1H1111.9V762.0H1107.5V770.8H1103.1V775.2H1098.6V784.1H1094.2V793.0H1089.8V797.4H1085.3V806.3H1080.9V815.1H1076.5V819.5H1072.1V828.4H1067.6V832.8H1063.2V841.7H1058.8V859.4H1063.2V868.3H1067.6V877.1H1072.1V886.0H1076.5V899.3H1080.9V908.1H1085.3V917.0H1089.8V925.9H1094.2V934.7H1098.6V943.6H1103.1V952.4H1107.5V961.3H1111.9V970.2H1116.4V979.0H1120.8V987.9H1125.2V992.3H1129.6V1001.2H1134.1V1010.0H1138.5V1018.9H1142.9V1027.8H1147.4V1036.6H1151.8V1045.5H1156.2V1049.9H1160.7V1045.5H1165.1V1036.6H1169.5V1032.2H1173.9V1023.3H1178.4V1018.9H1182.8V1014.5H1187.2V1005.6H1191.7V1001.2H1196.1V992.3H1200.5V987.9H1205.0V983.5H1209.4V974.6H1213.8V970.2H1218.2V961.3H1222.7V956.9H1227.1V952.4H1231.5V943.6H1236.0V939.2H1240.4V930.3H1244.8V925.9H1249.3V921.4H1253.7V912.6H1258.1V917.0H1280.3V921.4H1298.0V925.9H1320.1V930.3H1342.3V934.7H1364.4V939.2H1382.2V943.6H1386.6V939.2H1399.9V934.7H1408.7V930.3H1422.0V925.9H1435.3V921.4H1444.2V930.3H1448.6V934.7H1453.0V943.6H1457.5V952.4H1461.9V961.3H1466.3V970.2H1470.8V974.6H1475.2V983.5H1479.6V992.3H1484.0V1001.2H1488.5V1010.0H1492.9V1027.8H1497.3V1045.5H1501.8V1058.8H1506.2V1076.5H1510.6V1094.2H1515.1V1111.9H1519.5V1129.6H1523.9V1147.4H1528.3V1151.8H1532.8V1147.4H1537.2V1138.5H1541.6V1134.1H1546.1V1125.2H1550.5V1120.8H1554.9V1111.9H1559.4V1107.5H1563.8V1098.6H1568.2V1089.8H1572.6V1085.3H1577.1V1076.5H1581.5V1067.6H1577.1V1072.1H1572.6V1076.5H1568.2V1085.3H1563.8V1089.8H1559.4V1098.6H1554.9V1103.1H1550.5V1111.9H1546.1V1094.2H1541.6V1076.5H1537.2V1058.8H1532.8V1041.0H1528.3V1023.3H1523.9V1005.6H1519.5V992.3H1515.1V974.6H1510.6V956.9H1506.2V939.2H1501.8V921.4H1497.3V903.7H1492.9V886.0H1488.5V863.8H1479.6V868.3H1470.8V872.7H1457.5V877.1H1444.2V881.6H1435.3V886.0H1422.0V890.4H1408.7V894.9H1399.9V899.3H1386.6V903.7H1364.4V899.3H1342.3V894.9H1324.6V890.4H1302.4V886.0H1280.3V881.6H1258.1V877.1H1240.4V872.7H1218.2V868.3H1196.1V863.8H1187.2V859.4H1191.7V837.3H1196.1V815.1H1200.5V793.0H1205.0V770.8H1209.4V748.7H1213.8V730.9H1218.2V713.2H1213.8V704.4H1209.4V699.9H1205.0V695.5H1200.5V686.6H1196.1V682.2H1187.2V677.8H1173.9V673.4H1160.7V668.9H1147.4V664.5H1134.1V660.1H1120.8V655.6H1107.5V651.2H1094.2V646.8H1080.9V642.3H1067.6V637.9H1054.3V633.5H1036.6V629.1H1023.3V624.6H1010.0V620.2H996.7V615.8H983.5V611.3H970.2V606.9H956.9V602.5H952.4V593.6H956.9V589.2H908.1V593.6H899.3V598.0H894.9V602.5H886.0V606.9H877.1V611.3H868.3V615.8H859.4V620.2H850.6V624.6H846.1V629.1H837.3V633.5H828.4V637.9H819.5V642.3H810.7V646.8H806.3V651.2H797.4V655.6H788.5V660.1H779.7V664.5H770.8V668.9H762.0V673.4H757.5V677.8H748.7V682.2H739.8V686.6H730.9V691.1H722.1V695.5H717.7V699.9H708.8V704.4H699.9V708.8H691.1V713.2H682.2V717.7H677.8V722.1H668.9ZM620.2 824.0H615.8V828.4H620.2ZM691.1 1258.1H699.9V1262.5H704.4V1267.0H708.8V1271.4H713.2V1275.8H717.7V1280.3H722.1V1284.7H726.5V1289.1H730.9V1293.6H735.4V1298.0H739.8V1302.4H744.2V1306.8H748.7V1311.3H753.1V1315.7H766.4V1320.1H779.7V1324.6H788.5V1329.0H801.8V1333.4H815.1V1337.9H824.0V1342.3H837.3V1346.7H850.6V1351.1H859.4V1355.6H872.7V1360.0H886.0V1364.4H899.3V1368.9H908.1V1373.3H925.9V1368.9H930.3V1364.4H934.7V1360.0H939.2V1355.6H948.0V1351.1H952.4V1346.7H956.9V1342.3H961.3V1337.9H965.7V1333.4H970.2V1329.0H979.0V1324.6H983.5V1320.1H987.9V1315.7H992.3V1311.3H996.7V1306.8H1001.2V1302.4H1010.0V1298.0H1014.5V1293.6H1018.9V1289.1H1023.3V1284.7H1027.8V1280.3H1032.2V1275.8H1041.0V1271.4H1045.5V1267.0H1049.9V1262.5H1054.3V1258.1H1058.8V1253.7H1063.2V1249.3H1072.1V1244.8H1076.5V1240.4H1080.9V1236.0H1085.3V1231.5H1089.8V1227.1H1094.2V1222.7H1103.1V1218.2H1107.5V1213.8H1111.9V1209.4H1116.4V1205.0H1120.8V1209.4H1129.6V1213.8H1138.5V1218.2H1147.4V1222.7H1151.8V1227.1H1160.7V1231.5H1169.5V1236.0H1178.4V1240.4H1187.2V1244.8H1196.1V1249.3H1205.0V1253.7H1213.8V1258.1H1222.7V1262.5H1227.1V1267.0H1236.0V1271.4H1244.8V1275.8H1253.7V1280.3H1262.5V1284.7H1271.4V1289.1H1280.3V1293.6H1289.1V1298.0H1293.6V1302.4H1302.4V1306.8H1311.3V1311.3H1320.1V1315.7H1329.0V1320.1H1333.4V1324.6H1342.3V1329.0H1351.1V1333.4H1386.6V1329.0H1391.0V1320.1H1395.4V1315.7H1399.9V1311.3H1404.3V1306.8H1408.7V1302.4H1413.2V1298.0H1417.6V1293.6H1422.0V1289.1H1426.5V1284.7H1430.9V1280.3H1435.3V1275.8H1439.8V1267.0H1444.2V1262.5H1448.6V1258.1H1439.8V1253.7H1430.9V1249.3H1422.0V1244.8H1417.6V1240.4H1408.7V1236.0H1399.9V1231.5H1391.0V1227.1H1382.2V1222.7H1377.7V1218.2H1368.9V1213.8H1360.0V1209.4H1351.1V1205.0H1346.7V1200.5H1337.9V1196.1H1329.0V1191.7H1320.1V1187.2H1311.3V1182.8H1306.8V1178.4H1298.0V1173.9H1289.1V1169.5H1280.3V1165.1H1271.4V1160.7H1267.0V1156.2H1258.1V1151.8H1249.3V1147.4H1240.4V1142.9H1236.0V1138.5H1227.1V1134.1H1218.2V1129.6H1209.4V1125.2H1200.5V1120.8H1196.1V1116.4H1187.2V1111.9H1178.4V1107.5H1169.5V1103.1H1160.7V1098.6H1156.2V1094.2H1151.8V1098.6H1147.4V1103.1H1142.9V1107.5H1138.5V1111.9H1129.6V1116.4H1125.2V1120.8H1120.8V1125.2H1116.4V1129.6H1111.9V1134.1H1107.5V1138.5H1098.6V1142.9H1094.2V1147.4H1089.8V1151.8H1085.3V1156.2H1080.9V1160.7H1076.5V1165.1H1067.6V1169.5H1063.2V1173.9H1058.8V1178.4H1054.3V1182.8H1049.9V1187.2H1045.5V1191.7H1036.6V1196.1H1032.2V1200.5H1027.8V1205.0H1023.3V1209.4H1018.9V1213.8H1014.5V1218.2H1005.6V1222.7H1001.2V1227.1H996.7V1231.5H992.3V1236.0H987.9V1240.4H983.5V1244.8H974.6V1249.3H970.2V1253.7H965.7V1258.1H961.3V1262.5H956.9V1267.0H952.4V1271.4H943.6V1275.8H939.2V1280.3H934.7V1284.7H930.3V1289.1H925.9V1293.6H921.4V1298.0H912.6V1302.4H908.1V1306.8H903.7V1311.3H899.3V1315.7H894.9V1320.1H890.4V1315.7H877.1V1311.3H868.3V1306.8H855.0V1302.4H841.7V1298.0H832.8V1293.6H819.5V1289.1H806.3V1284.7H793.0V1280.3H784.1V1275.8H770.8V1271.4H757.5V1267.0H748.7V1262.5H735.4V1258.1H722.1V1253.7H713.2V1249.3H699.9V1244.8H686.6V1240.4H677.8V1244.8H682.2V1249.3H686.6V1253.7H691.1ZM1608.1 1018.9V1023.3H1612.5V1018.9ZM1603.7 1032.2H1608.1V1027.8H1603.7ZM1599.2 1032.2V1036.6H1603.7V1032.2ZM1594.8 1045.5H1599.2V1041.0H1594.8ZM1594.8 1045.5H1590.4V1054.3H1594.8ZM1581.5 1067.6H1585.9V1063.2H1590.4V1054.3H1585.9V1058.8H1581.5Z" fill="#00ff60"/>
<path d="M797.4 726.5V730.9H788.5V735.4H779.7V739.8H770.8V744.2H766.4V748.7H757.5V753.1H748.7V757.5H739.8V762.0H730.9V766.4H726.5V770.8H717.7V775.2H708.8V779.7H699.9V784.1H691.1V788.5H682.2V793.0H677.8V797.4H668.9V801.8H660.1V806.3H651.2V810.7H642.3V815.1H637.9V819.5H629.1V824.0H620.2V828.4H615.8V832.8H611.3V841.7H606.9V850.6H602.5V859.4H598.0V868.3H593.6V877.1H589.2V886.0H584.8V894.9H580.3V903.7H575.9V908.1H571.5V917.0H567.0V925.9H562.6V930.3H571.5V925.9H580.3V921.4H589.2V917.0H598.0V912.6H602.5V908.1H611.3V903.7H620.2V899.3H629.1V894.9H637.9V890.4H646.8V886.0H651.2V881.6H660.1V877.1H668.9V872.7H686.6V877.1H695.5V881.6H708.8V886.0H722.1V890.4H730.9V894.9H744.2V899.3H757.5V903.7H766.4V908.1H779.7V912.6H793.0V917.0H801.8V921.4H815.1V925.9H819.5V930.3H828.4V934.7H832.8V939.2H837.3V943.6H846.1V948.0H850.6V952.4H855.0V956.9H863.8V961.3H868.3V965.7H872.7V970.2H881.6V974.6H886.0V979.0H894.9V983.5H899.3V987.9H903.7V992.3H912.6V996.7H917.0V1001.2H921.4V1005.6H930.3V1010.0H934.7V1014.5H943.6V1018.9H948.0V1023.3H952.4V1027.8H956.9V1032.2H961.3V1036.6H965.7V1041.0H970.2V1045.5H974.6V1049.9H979.0V1054.3H983.5V1058.8H987.9V1063.2H992.3V1072.1H996.7V1076.5H1001.2V1080.9H1005.6V1085.3H1010.0V1089.8H1014.5V1094.2H1018.9V1098.6H1023.3V1103.1H1027.8V1111.9H1032.2V1120.8H1027.8V1125.2H1023.3V1129.6H1018.9V1134.1H1010.0V1138.5H1005.6V1142.9H1001.2V1147.4H996.7V1151.8H992.3V1156.2H987.9V1160.7H979.0V1165.1H974.6V1169.5H970.2V1173.9H965.7V1178.4H961.3V1182.8H956.9V1187.2H948.0V1191.7H943.6V1196.1H939.2V1200.5H934.7V1205.0H930.3V1209.4H925.9V1213.8H917.0V1218.2H912.6V1222.7H908.1V1227.1H903.7V1231.5H899.3V1236.0H894.9V1240.4H886.0V1244.8H881.6V1249.3H877.1V1253.7H872.7V1258.1H868.3V1262.5H859.4V1258.1H846.1V1253.7H837.3V1249.3H824.0V1244.8H810.7V1240.4H801.8V1236.0H788.5V1231.5H775.2V1227.1H766.4V1222.7H753.1V1218.2H739.8V1213.8H726.5V1209.4H717.7V1205.0H704.4V1200.5H691.1V1196.1H682.2V1191.7H668.9V1187.2H655.6V1182.8H646.8V1178.4H633.5V1173.9H620.2V1169.5H606.9V1165.1H598.0V1169.5H602.5V1173.9H606.9V1178.4H611.3V1182.8H620.2V1187.2H624.6V1191.7H629.1V1196.1H633.5V1200.5H637.9V1205.0H642.3V1209.4H646.8V1213.8H651.2V1218.2H655.6V1222.7H660.1V1227.1H664.5V1231.5H668.9V1236.0H673.4V1240.4H686.6V1244.8H699.9V1249.3H713.2V1253.7H722.1V1258.1H735.4V1262.5H748.7V1267.0H757.5V1271.4H770.8V1275.8H784.1V1280.3H793.0V1284.7H806.3V1289.1H819.5V1293.6H832.8V1298.0H841.7V1302.4H855.0V1306.8H868.3V1311.3H877.1V1315.7H890.4V1320.1H894.9V1315.7H899.3V1311.3H903.7V1306.8H908.1V1302.4H912.6V1298.0H921.4V1293.6H925.9V1289.1H930.3V1284.7H934.7V1280.3H939.2V1275.8H943.6V1271.4H952.4V1267.0H956.9V1262.5H961.3V1258.1H965.7V1253.7H970.2V1249.3H974.6V1244.8H983.5V1240.4H987.9V1236.0H992.3V1231.5H996.7V1227.1H1001.2V1222.7H1005.6V1218.2H1014.5V1213.8H1018.9V1209.4H1023.3V1205.0H1027.8V1200.5H1032.2V1196.1H1036.6V1191.7H1045.5V1187.2H1049.9V1182.8H1054.3V1178.4H1058.8V1173.9H1063.2V1169.5H1067.6V1165.1H1076.5V1160.7H1080.9V1156.2H1085.3V1151.8H1089.8V1147.4H1094.2V1142.9H1098.6V1138.5H1107.5V1134.1H1111.9V1129.6H1116.4V1125.2H1120.8V1120.8H1125.2V1116.4H1129.6V1111.9H1138.5V1107.5H1142.9V1103.1H1147.4V1098.6H1151.8V1094.2H1156.2V1098.6H1160.7V1103.1H1169.5V1107.5H1178.4V1111.9H1187.2V1116.4H1196.1V1120.8H1200.5V1125.2H1209.4V1129.6H1218.2V1134.1H1227.1V1138.5H1236.0V1142.9H1240.4V1147.4H1249.3V1151.8H1258.1V1156.2H1267.0V1160.7H1271.4V1165.1H1280.3V1169.5H1289.1V1173.9H1298.0V1178.4H1306.8V1182.8H1311.3V1187.2H1320.1V1191.7H1329.0V1196.1H1337.9V1200.5H1346.7V1205.0H1351.1V1209.4H1360.0V1213.8H1368.9V1218.2H1377.7V1222.7H1382.2V1227.1H1391.0V1231.5H1399.9V1236.0H1408.7V1240.4H1417.6V1244.8H1422.0V1249.3H1430.9V1253.7H1439.8V1258.1H1453.0V1253.7H1457.5V1249.3H1461.9V1244.8H1466.3V1240.4H1470.8V1236.0H1475.2V1231.5H1479.6V1227.1H1484.0V1222.7H1488.5V1218.2H1492.9V1209.4H1497.3V1205.0H1501.8V1200.5H1506.2V1196.1H1510.6V1191.7H1515.1V1182.8H1519.5V1178.4H1523.9V1169.5H1528.3V1160.7H1532.8V1151.8H1528.3V1147.4H1523.9V1129.6H1519.5V1111.9H1515.1V1094.2H1510.6V1076.5H1506.2V1058.8H1501.8V1045.5H1497.3V1027.8H1492.9V1010.0H1488.5V1001.2H1484.0V992.3H1479.6V983.5H1475.2V974.6H1470.8V970.2H1466.3V961.3H1461.9V952.4H1457.5V943.6H1453.0V934.7H1448.6V930.3H1444.2V921.4H1435.3V925.9H1422.0V930.3H1408.7V934.7H1399.9V939.2H1386.6V943.6H1382.2V939.2H1364.4V934.7H1342.3V930.3H1320.1V925.9H1298.0V921.4H1280.3V917.0H1258.1V912.6H1253.7V921.4H1249.3V925.9H1244.8V930.3H1240.4V939.2H1236.0V943.6H1231.5V952.4H1227.1V956.9H1222.7V961.3H1218.2V970.2H1213.8V974.6H1209.4V983.5H1205.0V987.9H1200.5V992.3H1196.1V1001.2H1191.7V1005.6H1187.2V1014.5H1182.8V1018.9H1178.4V1023.3H1173.9V1032.2H1169.5V1036.6H1165.1V1045.5H1160.7V1049.9H1156.2V1045.5H1151.8V1036.6H1147.4V1027.8H1142.9V1018.9H1138.5V1010.0H1134.1V1001.2H1129.6V992.3H1125.2V987.9H1120.8V979.0H1116.4V970.2H1111.9V961.3H1107.5V952.4H1103.1V943.6H1098.6V934.7H1094.2V925.9H1089.8V917.0H1085.3V908.1H1080.9V899.3H1076.5V886.0H1072.1V877.1H1067.6V868.3H1063.2V859.4H1058.8V841.7H1063.2V832.8H1067.6V828.4H1072.1V819.5H1076.5V815.1H1080.9V806.3H1085.3V797.4H1089.8V793.0H1094.2V784.1H1098.6V775.2H1103.1V770.8H1107.5V762.0H1111.9V753.1H1094.2V757.5H1072.1V762.0H1049.9V766.4H1027.8V770.8H1001.2V775.2H974.6V770.8H965.7V766.4H952.4V762.0H939.2V757.5H930.3V753.1H917.0V748.7H903.7V744.2H894.9V739.8H881.6V735.4H868.3V730.9H859.4V726.5H846.1V722.1H832.8V717.7H824.0V713.2H819.5V717.7H815.1V722.1H806.3V726.5ZM598.0 1165.1V1160.7H593.6V1165.1ZM1559.4 1111.9H1554.9V1116.4H1559.4ZM1550.5 1125.2H1546.1V1129.6H1550.5ZM1541.6 1138.5H1546.1V1134.1H1541.6ZM1541.6 1138.5H1537.2V1147.4H1541.6ZM1537.2 1147.4H1532.8V1151.8H1537.2Z" fill="#bfff00"/>
<path d="M651.2 881.6V886.0H646.8V890.4H637.9V894.9H629.1V899.3H620.2V903.7H611.3V908.1H602.5V912.6H598.0V917.0H589.2V921.4H580.3V925.9H571.5V930.3H562.6V934.7H558.2V943.6H553.8V952.4H549.3V961.3H544.9V970.2H540.5V979.0H536.0V987.9H531.6V996.7H527.2V1005.6H522.7V1014.5H518.3V1018.9H513.9V1027.8H509.4V1036.6H518.3V1032.2H522.7V1027.8H536.0V1032.2H549.3V1036.6H558.2V1041.0H562.6V1045.5H571.5V1049.9H575.9V1054.3H580.3V1058.8H598.0V1063.2H620.2V1067.6H642.3V1072.1H660.1V1076.5H682.2V1080.9H704.4V1085.3H726.5V1089.8H748.7V1094.2H770.8V1098.6H793.0V1103.1H810.7V1107.5H832.8V1111.9H855.0V1116.4H872.7V1120.8H877.1V1125.2H881.6V1129.6H886.0V1138.5H890.4V1142.9H894.9V1147.4H899.3V1156.2H890.4V1160.7H886.0V1165.1H881.6V1169.5H877.1V1173.9H872.7V1178.4H868.3V1182.8H859.4V1187.2H855.0V1191.7H850.6V1196.1H846.1V1200.5H841.7V1205.0H828.4V1200.5H819.5V1196.1H806.3V1191.7H793.0V1187.2H779.7V1182.8H770.8V1178.4H757.5V1173.9H744.2V1169.5H735.4V1165.1H722.1V1160.7H708.8V1156.2H699.9V1151.8H686.6V1147.4H673.4V1142.9H660.1V1138.5H651.2V1134.1H637.9V1129.6H624.6V1125.2H615.8V1120.8H602.5V1116.4H589.2V1111.9H575.9V1107.5H567.0V1103.1H553.8V1098.6H540.5V1094.2H531.6V1089.8H518.3V1094.2H522.7V1098.6H527.2V1103.1H531.6V1107.5H540.5V1111.9H544.9V1116.4H549.3V1120.8H553.8V1125.2H558.2V1129.6H562.6V1134.1H567.0V1138.5H571.5V1142.9H575.9V1147.4H580.3V1151.8H584.8V1156.2H589.2V1160.7H598.0V1165.1H606.9V1169.5H620.2V1173.9H633.5V1178.4H646.8V1182.8H655.6V1187.2H668.9V1191.7H682.2V1196.1H691.1V1200.5H704.4V1205.0H717.7V1209.4H726.5V1213.8H739.8V1218.2H753.1V1222.7H766.4V1227.1H775.2V1231.5H788.5V1236.0H801.8V1240.4H810.7V1244.8H824.0V1249.3H837.3V1253.7H846.1V1258.1H859.4V1262.5H868.3V1258.1H872.7V1253.7H877.1V1249.3H881.6V1244.8H886.0V1240.4H894.9V1236.0H899.3V1231.5H903.7V1227.1H908.1V1222.7H912.6V1218.2H917.0V1213.8H925.9V1209.4H930.3V1205.0H934.7V1200.5H939.2V1196.1H943.6V1191.7H948.0V1187.2H956.9V1182.8H961.3V1178.4H965.7V1173.9H970.2V1169.5H974.6V1165.1H979.0V1160.7H987.9V1156.2H992.3V1151.8H996.7V1147.4H1001.2V1142.9H1005.6V1138.5H1010.0V1134.1H1018.9V1129.6H1023.3V1125.2H1027.8V1120.8H1032.2V1111.9H1027.8V1103.1H1023.3V1098.6H1018.9V1094.2H1014.5V1089.8H1010.0V1085.3H1005.6V1080.9H1001.2V1076.5H996.7V1072.1H992.3V1063.2H987.9V1058.8H983.5V1054.3H979.0V1049.9H974.6V1045.5H970.2V1041.0H965.7V1036.6H961.3V1032.2H956.9V1027.8H952.4V1023.3H948.0V1018.9H943.6V1014.5H934.7V1010.0H930.3V1005.6H921.4V1001.2H917.0V996.7H912.6V992.3H903.7V987.9H899.3V983.5H894.9V979.0H886.0V974.6H881.6V970.2H872.7V965.7H868.3V961.3H863.8V956.9H855.0V952.4H850.6V948.0H846.1V943.6H837.3V939.2H832.8V934.7H828.4V930.3H819.5V925.9H815.1V921.4H801.8V917.0H793.0V912.6H779.7V908.1H766.4V903.7H757.5V899.3H744.2V894.9H730.9V890.4H722.1V886.0H708.8V881.6H695.5V877.1H686.6V872.7H668.9V877.1H660.1V881.6ZM509.4 1041.0V1036.6H505.0V1041.0ZM513.9 1089.8H518.3V1085.3H513.9Z" fill="#ffef00"/>
<path d="M518.3 1036.6H509.4V1041.0H505.0V1045.5H500.6V1054.3H496.2V1063.2H491.7V1067.6H496.2V1072.1H500.6V1076.5H505.0V1080.9H509.4V1085.3H518.3V1089.8H531.6V1094.2H540.5V1098.6H553.8V1103.1H567.0V1107.5H575.9V1111.9H589.2V1116.4H602.5V1120.8H615.8V1125.2H624.6V1129.6H637.9V1134.1H651.2V1138.5H660.1V1142.9H673.4V1147.4H686.6V1151.8H699.9V1156.2H708.8V1160.7H722.1V1165.1H735.4V1169.5H744.2V1173.9H757.5V1178.4H770.8V1182.8H779.7V1187.2H793.0V1191.7H806.3V1196.1H819.5V1200.5H828.4V1205.0H841.7V1200.5H846.1V1196.1H850.6V1191.7H855.0V1187.2H859.4V1182.8H868.3V1178.4H872.7V1173.9H877.1V1169.5H881.6V1165.1H886.0V1160.7H890.4V1156.2H899.3V1147.4H894.9V1142.9H890.4V1138.5H886.0V1129.6H881.6V1125.2H877.1V1120.8H872.7V1116.4H855.0V1111.9H832.8V1107.5H810.7V1103.1H793.0V1098.6H770.8V1094.2H748.7V1089.8H726.5V1085.3H704.4V1080.9H682.2V1076.5H660.1V1072.1H642.3V1067.6H620.2V1063.2H598.0V1058.8H580.3V1054.3H575.9V1049.9H571.5V1045.5H562.6V1041.0H558.2V1036.6H549.3V1032.2H536.0V1027.8H522.7V1032.2H518.3Z" fill="#ffbf00"/>
</g>
<use href="#coast"/>
<use href="#grid"/>
<use href="#frame"/>
<use href="#cbar"/>
<g font-size="56" stroke="#000" stroke-width="2.4" stroke-linejoin="miter">
<text x="787.4" y="545.7" textLength="174" lengthAdjust="spacingAndGlyphs">EOCH</text>
<text x="926.2" y="653.9" textLength="167" lengthAdjust="spacingAndGlyphs">MLDO</text>
<text x="1003.8" y="888.7" textLength="169" lengthAdjust="spacingAndGlyphs">YONK</text>
<text x="1308.1" y="449.6" textLength="150" lengthAdjust="spacingAndGlyphs">DAEJ</text>
<text x="1233.2" y="520.3" textLength="172" lengthAdjust="spacingAndGlyphs">NONS</text>
<text x="1648.5" y="543" textLength="145" lengthAdjust="spacingAndGlyphs">KIMC</text>
<text x="1457.5" y="595.8" textLength="162" lengthAdjust="spacingAndGlyphs">MUJU</text>
<text x="1243.7" y="662.8" textLength="151" lengthAdjust="spacingAndGlyphs">JUNJ</text>
<text x="1181.4" y="751.5" textLength="166" lengthAdjust="spacingAndGlyphs">JUNG</text>
<text x="1658" y="733.8" textLength="85.5" lengthAdjust="spacingAndGlyphs">CH</text>
<text x="1777.8" y="788.5" textLength="175" lengthAdjust="spacingAndGlyphs">CHNG</text>
<text x="1355.6" y="833.3" textLength="176.5" lengthAdjust="spacingAndGlyphs">NAMW</text>
<text x="1163" y="928.3" textLength="166" lengthAdjust="spacingAndGlyphs">KWNJ</text>
<text x="1474.4" y="938.9" textLength="166" lengthAdjust="spacingAndGlyphs">HADG</text>
<text x="1645.9" y="938.9" textLength="126.5" lengthAdjust="spacingAndGlyphs">JINJ</text>
<text x="1390" y="1023.3" textLength="166" lengthAdjust="spacingAndGlyphs">SONC</text>
<text x="953.7" y="1078.6" textLength="166" lengthAdjust="spacingAndGlyphs">MKPO</text>
<text x="489.4" y="1121.4" textLength="175" lengthAdjust="spacingAndGlyphs">HGDO</text>
<text x="819.1" y="1223.7" textLength="155.5" lengthAdjust="spacingAndGlyphs">GASA</text>
<text x="1155" y="1136.6" textLength="155.5" lengthAdjust="spacingAndGlyphs">JAHG</text>
<text x="1508.7" y="1242.2" textLength="147.5" lengthAdjust="spacingAndGlyphs">SORI</text>
<text x="1324" y="1408.5" textLength="171" lengthAdjust="spacingAndGlyphs">GEOM</text>
<text x="1155" y="1630.1" textLength="147.6" lengthAdjust="spacingAndGlyphs">JEJU</text>
<text x="1009.1" y="1614.3" textLength="163" lengthAdjust="spacingAndGlyphs">CHJU</text>
</g>
<polygon points="1607.5,634 1547,743 1668,743" fill="#000" shape-rendering="crispEdges"/>
<text y="211" font-size="211"><tspan x="559">(a</tspan><tspan x="752">)</tspan></text>
<text x="875" y="211" font-size="197" font-weight="700" clip-path="url(#c0)">Case 1</text>
<text x="1917" y="265" font-size="98" font-weight="700">PWV (mm)</text>
<text transform="translate(131,1062.4) rotate(-90)" text-anchor="middle" font-size="125.4" font-weight="700">Latitude (degree)</text>
<text x="1212" y="2070" text-anchor="middle" font-size="125.3" font-weight="700">Longitude (degree)</text>
<text x="353" y="577" text-anchor="end" font-size="104">36</text>
<text x="353" y="985" text-anchor="end" font-size="104">35</text>
<text x="353" y="1390" text-anchor="end" font-size="104">34</text>
<text x="353" y="1781" text-anchor="end" font-size="104">33</text>
<text x="314.5" y="1902" font-size="104" clip-path="url(#c1)">125</text>
<text x="731.8" y="1902" font-size="104" clip-path="url(#c2)">126</text>
<text x="1123.5" y="1902" font-size="104" clip-path="url(#c3)">127</text>
<text x="1515.8" y="1902" font-size="104" clip-path="url(#c4)">128</text>
<text x="1908.3" y="1902" font-size="104" clip-path="url(#c5)">129</text>
<text x="2241" y="573.7" font-size="92">70</text>
<text x="2241" y="974.3" font-size="92">60</text>
<text x="2241" y="1402.8" font-size="92">50</text>
<text x="2241" y="1830.5" font-size="92">40</text>
</g>
<g transform="translate(0,2310)">
<g shape-rendering="crispEdges">
<path d="M1196.1 1526.4V1530.8H1178.4V1535.2H1160.7V1539.7H1142.9V1544.1H1125.2V1548.5H1107.5V1553.0H1089.8V1557.4H1072.1V1561.8H1116.4V1566.2H1160.7V1570.7H1165.1V1566.2H1169.5V1561.8H1173.9V1557.4H1178.4V1553.0H1182.8V1548.5H1187.2V1544.1H1191.7V1539.7H1196.1V1535.2H1200.5V1530.8H1205.0V1526.4Z" fill="#0070ff"/>
<path d="M1010.0 1526.4H1001.2V1530.8H987.9V1535.2H992.3V1539.7H996.7V1544.1H1001.2V1548.5H1005.6V1553.0H1027.8V1557.4H1089.8V1553.0H1107.5V1548.5H1125.2V1544.1H1142.9V1539.7H1160.7V1535.2H1178.4V1530.8H1196.1V1526.4H1209.4V1517.5H1213.8V1513.1H1218.2V1508.7H1222.7V1504.2H1227.1V1499.8H1231.5V1495.4H1236.0V1490.9H1240.4V1486.5H1244.8V1482.1H1249.3V1477.6H1253.7V1473.2H1244.8V1477.6H1231.5V1482.1H1213.8V1486.5H1196.1V1490.9H1178.4V1495.4H1156.2V1499.8H1138.5V1504.2H1120.8V1508.7H1103.1V1513.1H1085.3V1517.5H1067.6V1521.9H1032.2V1517.5H1018.9V1521.9H1010.0ZM983.5 1526.4V1530.8H987.9V1526.4Z" fill="#00afff"/>
<path d="M1032.2 1451.1H1023.3V1455.5H1018.9V1459.9H1010.0V1464.4H1005.6V1468.8H996.7V1473.2H992.3V1477.6H983.5V1482.1H979.0V1486.5H970.2V1482.1H956.9V1477.6H943.6V1473.2H930.3V1468.8H921.4V1473.2H925.9V1477.6H930.3V1482.1H934.7V1486.5H939.2V1490.9H943.6V1495.4H948.0V1499.8H952.4V1504.2H956.9V1508.7H961.3V1513.1H970.2V1517.5H974.6V1521.9H979.0V1526.4H987.9V1530.8H1001.2V1526.4H1010.0V1521.9H1018.9V1517.5H1032.2V1521.9H1067.6V1517.5H1085.3V1513.1H1103.1V1508.7H1120.8V1504.2H1138.5V1499.8H1156.2V1495.4H1178.4V1490.9H1196.1V1486.5H1213.8V1482.1H1231.5V1477.6H1244.8V1473.2H1258.1V1464.4H1262.5V1459.9H1267.0V1455.5H1271.4V1451.1H1275.8V1446.6H1280.3V1442.2H1284.7V1437.8H1289.1V1433.3H1293.6V1428.9H1298.0V1424.5H1302.4V1420.1H1289.1V1424.5H1275.8V1428.9H1262.5V1433.3H1244.8V1437.8H1227.1V1442.2H1209.4V1446.6H1191.7V1451.1H1173.9V1455.5H1151.8V1451.1H1111.9V1446.6H1067.6V1442.2H1041.0V1446.6H1032.2ZM1643.5 884.0V888.5H1648.0V884.0ZM1306.8 1420.1V1415.6H1302.4V1420.1Z" fill="#00dfff"/>
<path d="M1045.5 1375.8V1380.2H1041.0V1384.6H1032.2V1389.0H1027.8V1393.5H1018.9V1397.9H1014.5V1402.3H1005.6V1406.8H996.7V1411.2H992.3V1415.6H983.5V1420.1H979.0V1424.5H970.2V1428.9H965.7V1433.3H956.9V1437.8H943.6V1433.3H930.3V1428.9H917.0V1424.5H899.3V1420.1H886.0V1415.6H872.7V1411.2H859.4V1415.6H863.8V1420.1H868.3V1424.5H872.7V1428.9H877.1V1433.3H881.6V1437.8H890.4V1442.2H894.9V1446.6H899.3V1451.1H903.7V1455.5H908.1V1459.9H912.6V1464.4H917.0V1468.8H930.3V1473.2H943.6V1477.6H956.9V1482.1H970.2V1486.5H979.0V1482.1H983.5V1477.6H992.3V1473.2H996.7V1468.8H1005.6V1464.4H1010.0V1459.9H1018.9V1455.5H1023.3V1451.1H1032.2V1446.6H1041.0V1442.2H1067.6V1446.6H1111.9V1451.1H1151.8V1455.5H1173.9V1451.1H1191.7V1446.6H1209.4V1442.2H1227.1V1437.8H1244.8V1433.3H1262.5V1428.9H1275.8V1424.5H1289.1V1420.1H1302.4V1415.6H1311.3V1406.8H1315.7V1402.3H1320.1V1397.9H1324.6V1393.5H1329.0V1389.0H1333.4V1384.6H1337.9V1380.2H1342.3V1375.8H1346.7V1371.3H1351.1V1366.9H1355.6V1362.5H1346.7V1366.9H1337.9V1371.3H1324.6V1375.8H1311.3V1380.2H1293.6V1384.6H1231.5V1380.2H1191.7V1375.8H1147.4V1371.3H1107.5V1366.9H1063.2V1371.3H1054.3V1375.8ZM855.0 1411.2H859.4V1406.8H855.0ZM1612.5 946.0V959.3H1616.9V954.9H1621.4V946.0H1625.8V937.2H1630.2V928.3H1634.7V923.9H1639.1V915.0H1643.5V906.2H1648.0V897.3H1652.4V892.9H1656.8V884.0H1661.2V875.2H1665.7V866.3H1670.1V857.4H1674.5V853.0H1665.7V848.6H1652.4V844.2H1639.1V839.7H1630.2V844.2H1625.8V853.0H1621.4V857.4H1616.9V866.3H1612.5V875.2H1608.1V879.6H1603.7V915.0H1608.1V946.0ZM1648.0 884.0V888.5H1643.5V884.0Z" fill="#00ffe6"/>
<path d="M1076.5 1300.4H1067.6V1304.9H1063.2V1309.3H1054.3V1313.7H1049.9V1318.2H1041.0V1322.6H1036.6V1327.0H1027.8V1331.5H1018.9V1335.9H1014.5V1340.3H1005.6V1344.7H1001.2V1349.2H992.3V1353.6H987.9V1358.0H979.0V1362.5H974.6V1366.9H965.7V1371.3H956.9V1375.8H952.4V1380.2H943.6V1384.6H939.2V1389.0H930.3V1393.5H925.9V1389.0H912.6V1384.6H899.3V1380.2H886.0V1375.8H872.7V1371.3H859.4V1366.9H846.1V1362.5H832.8V1358.0H819.5V1353.6H806.3V1349.2H793.0V1353.6H797.4V1358.0H801.8V1362.5H806.3V1366.9H815.1V1371.3H819.5V1375.8H824.0V1380.2H828.4V1384.6H832.8V1389.0H837.3V1393.5H841.7V1397.9H846.1V1402.3H850.6V1406.8H859.4V1411.2H872.7V1415.6H886.0V1420.1H899.3V1424.5H917.0V1428.9H930.3V1433.3H943.6V1437.8H956.9V1433.3H965.7V1428.9H970.2V1424.5H979.0V1420.1H983.5V1415.6H992.3V1411.2H996.7V1406.8H1005.6V1402.3H1014.5V1397.9H1018.9V1393.5H1027.8V1389.0H1032.2V1384.6H1041.0V1380.2H1045.5V1375.8H1054.3V1371.3H1063.2V1366.9H1107.5V1371.3H1147.4V1375.8H1191.7V1380.2H1231.5V1384.6H1293.6V1380.2H1311.3V1375.8H1324.6V1371.3H1337.9V1366.9H1346.7V1362.5H1360.0V1353.6H1364.4V1349.2H1368.9V1344.7H1373.3V1340.3H1377.7V1335.9H1382.2V1331.5H1386.6V1327.0H1391.0V1322.6H1395.4V1318.2H1399.9V1313.7H1404.3V1309.3H1395.4V1313.7H1382.2V1318.2H1368.9V1322.6H1351.1V1318.2H1329.0V1313.7H1306.8V1309.3H1271.4V1304.9H1231.5V1300.4H1187.2V1296.0H1147.4V1291.6H1103.1V1287.2H1089.8V1291.6H1080.9V1296.0H1076.5ZM793.0 1349.2V1344.7H788.5V1349.2ZM1559.4 910.6H1563.8V937.2H1568.2V968.2H1572.6V999.2H1577.1V1030.2H1585.9V1025.8H1590.4V1016.9H1594.8V1008.1H1599.2V999.2H1603.7V994.8H1608.1V985.9H1612.5V977.1H1616.9V968.2H1621.4V963.8H1625.8V954.9H1630.2V946.0H1634.7V937.2H1639.1V928.3H1643.5V923.9H1648.0V915.0H1652.4V906.2H1656.8V897.3H1661.2V892.9H1665.7V884.0H1670.1V875.2H1674.5V866.3H1679.0V857.4H1683.4V853.0H1687.8V844.2H1692.3V835.3H1696.7V826.4H1701.1V822.0H1696.7V817.6H1683.4V813.1H1670.1V808.7H1652.4V804.3H1639.1V799.9H1625.8V795.4H1616.9V799.9H1612.5V804.3H1608.1V813.1H1603.7V817.6H1599.2V826.4H1594.8V830.9H1590.4V839.7H1585.9V848.6H1581.5V853.0H1577.1V861.9H1572.6V866.3H1568.2V875.2H1563.8V884.0H1559.4ZM1603.7 879.6H1608.1V875.2H1612.5V866.3H1616.9V857.4H1621.4V853.0H1625.8V844.2H1630.2V839.7H1639.1V844.2H1652.4V848.6H1665.7V853.0H1674.5V857.4H1670.1V866.3H1665.7V875.2H1661.2V884.0H1656.8V892.9H1652.4V897.3H1648.0V906.2H1643.5V915.0H1639.1V923.9H1634.7V928.3H1630.2V937.2H1625.8V946.0H1621.4V954.9H1616.9V959.3H1612.5V946.0H1608.1V915.0H1603.7Z" fill="#00ff99"/>
<path d="M1098.6 1225.1H1089.8V1229.6H1085.3V1234.0H1076.5V1238.4H1072.1V1242.9H1063.2V1247.3H1058.8V1251.7H1049.9V1256.1H1041.0V1260.6H1036.6V1265.0H1027.8V1269.4H1023.3V1273.9H1014.5V1278.3H1010.0V1282.7H1001.2V1287.2H996.7V1291.6H987.9V1296.0H979.0V1300.4H974.6V1304.9H965.7V1309.3H961.3V1313.7H952.4V1318.2H948.0V1322.6H939.2V1327.0H934.7V1331.5H925.9V1335.9H917.0V1340.3H912.6V1344.7H894.9V1340.3H881.6V1335.9H868.3V1331.5H855.0V1327.0H841.7V1322.6H828.4V1318.2H815.1V1313.7H801.8V1309.3H788.5V1304.9H775.2V1300.4H762.0V1296.0H748.7V1291.6H735.4V1296.0H739.8V1300.4H744.2V1304.9H748.7V1309.3H753.1V1313.7H757.5V1318.2H762.0V1322.6H766.4V1327.0H770.8V1331.5H775.2V1335.9H779.7V1340.3H784.1V1344.7H793.0V1349.2H806.3V1353.6H819.5V1358.0H832.8V1362.5H846.1V1366.9H859.4V1371.3H872.7V1375.8H886.0V1380.2H899.3V1384.6H912.6V1389.0H925.9V1393.5H930.3V1389.0H939.2V1384.6H943.6V1380.2H952.4V1375.8H956.9V1371.3H965.7V1366.9H974.6V1362.5H979.0V1358.0H987.9V1353.6H992.3V1349.2H1001.2V1344.7H1005.6V1340.3H1014.5V1335.9H1018.9V1331.5H1027.8V1327.0H1036.6V1322.6H1041.0V1318.2H1049.9V1313.7H1054.3V1309.3H1063.2V1304.9H1067.6V1300.4H1076.5V1296.0H1080.9V1291.6H1089.8V1287.2H1103.1V1291.6H1147.4V1296.0H1187.2V1300.4H1231.5V1304.9H1271.4V1309.3H1306.8V1313.7H1329.0V1318.2H1351.1V1322.6H1368.9V1318.2H1382.2V1313.7H1395.4V1309.3H1408.7V1304.9H1413.2V1296.0H1417.6V1291.6H1422.0V1287.2H1426.5V1282.7H1430.9V1278.3H1435.3V1273.9H1439.8V1269.4H1444.2V1265.0H1448.6V1260.6H1453.0V1256.1H1439.8V1260.6H1422.0V1256.1H1399.9V1251.7H1373.3V1247.3H1351.1V1242.9H1329.0V1238.4H1302.4V1234.0H1280.3V1229.6H1258.1V1225.1H1227.1V1220.7H1182.8V1216.3H1142.9V1211.8H1111.9V1216.3H1103.1V1220.7H1098.6ZM726.5 1291.6H735.4V1287.2H726.5ZM1515.1 901.8H1519.5V932.8H1523.9V963.8H1528.3V994.8H1532.8V1025.8H1537.2V1052.4H1541.6V1083.4H1546.1V1110.0H1550.5V1101.1H1554.9V1096.7H1559.4V1087.8H1563.8V1078.9H1568.2V1070.1H1572.6V1065.7H1577.1V1056.8H1581.5V1047.9H1585.9V1039.1H1590.4V1034.6H1594.8V1025.8H1599.2V1016.9H1603.7V1008.1H1608.1V999.2H1612.5V994.8H1616.9V985.9H1621.4V977.1H1625.8V968.2H1630.2V963.8H1634.7V954.9H1639.1V946.0H1643.5V937.2H1648.0V928.3H1652.4V923.9H1656.8V915.0H1661.2V906.2H1665.7V897.3H1670.1V892.9H1674.5V884.0H1679.0V875.2H1683.4V866.3H1687.8V857.4H1692.3V853.0H1696.7V844.2H1701.1V835.3H1705.5V826.4H1710.0V822.0H1714.4V813.1H1718.8V804.3H1723.3V795.4H1727.7V791.0H1723.3V786.6H1710.0V782.1H1696.7V777.7H1683.4V773.3H1670.1V768.8H1656.8V764.4H1639.1V760.0H1625.8V755.6H1612.5V751.1H1599.2V755.6H1594.8V764.4H1590.4V773.3H1585.9V777.7H1581.5V786.6H1577.1V791.0H1572.6V799.9H1568.2V804.3H1563.8V813.1H1559.4V822.0H1554.9V826.4H1550.5V835.3H1546.1V839.7H1541.6V848.6H1537.2V857.4H1532.8V861.9H1528.3V870.7H1523.9V875.2H1519.5V884.0H1515.1ZM1577.1 999.2H1572.6V968.2H1568.2V937.2H1563.8V910.6H1559.4V884.0H1563.8V875.2H1568.2V866.3H1572.6V861.9H1577.1V853.0H1581.5V848.6H1585.9V839.7H1590.4V830.9H1594.8V826.4H1599.2V817.6H1603.7V813.1H1608.1V804.3H1612.5V799.9H1616.9V795.4H1625.8V799.9H1639.1V804.3H1652.4V808.7H1670.1V813.1H1683.4V817.6H1696.7V822.0H1701.1V826.4H1696.7V835.3H1692.3V844.2H1687.8V853.0H1683.4V857.4H1679.0V866.3H1674.5V875.2H1670.1V884.0H1665.7V892.9H1661.2V897.3H1656.8V906.2H1652.4V915.0H1648.0V923.9H1643.5V928.3H1639.1V937.2H1634.7V946.0H1630.2V954.9H1625.8V963.8H1621.4V968.2H1616.9V977.1H1612.5V985.9H1608.1V994.8H1603.7V999.2H1599.2V1008.1H1594.8V1016.9H1590.4V1025.8H1585.9V1030.2H1577.1ZM1457.5 1251.7H1453.0V1256.1H1457.5Z" fill="#00ff60"/>
<path d="M1182.8 1136.5H1134.1V1141.0H1125.2V1145.4H1120.8V1149.8H1111.9V1154.3H1107.5V1158.7H1098.6V1163.1H1094.2V1167.5H1085.3V1172.0H1080.9V1176.4H1072.1V1180.8H1063.2V1185.3H1058.8V1189.7H1049.9V1194.1H1045.5V1198.6H1036.6V1203.0H1032.2V1207.4H1023.3V1211.8H1018.9V1216.3H1010.0V1220.7H1001.2V1225.1H996.7V1229.6H987.9V1234.0H983.5V1238.4H974.6V1242.9H970.2V1247.3H961.3V1251.7H952.4V1256.1H948.0V1260.6H939.2V1265.0H934.7V1269.4H925.9V1273.9H921.4V1278.3H912.6V1282.7H908.1V1287.2H899.3V1291.6H890.4V1296.0H886.0V1300.4H881.6V1296.0H868.3V1291.6H850.6V1287.2H837.3V1282.7H824.0V1278.3H810.7V1273.9H797.4V1269.4H784.1V1265.0H770.8V1260.6H757.5V1256.1H744.2V1251.7H730.9V1247.3H717.7V1242.9H704.4V1238.4H691.1V1234.0H677.8V1229.6H668.9V1234.0H673.4V1238.4H677.8V1242.9H682.2V1247.3H686.6V1251.7H691.1V1256.1H695.5V1260.6H699.9V1265.0H704.4V1269.4H708.8V1273.9H713.2V1278.3H717.7V1282.7H722.1V1287.2H735.4V1291.6H748.7V1296.0H762.0V1300.4H775.2V1304.9H788.5V1309.3H801.8V1313.7H815.1V1318.2H828.4V1322.6H841.7V1327.0H855.0V1331.5H868.3V1335.9H881.6V1340.3H894.9V1344.7H912.6V1340.3H917.0V1335.9H925.9V1331.5H934.7V1327.0H939.2V1322.6H948.0V1318.2H952.4V1313.7H961.3V1309.3H965.7V1304.9H974.6V1300.4H979.0V1296.0H987.9V1291.6H996.7V1287.2H1001.2V1282.7H1010.0V1278.3H1014.5V1273.9H1023.3V1269.4H1027.8V1265.0H1036.6V1260.6H1041.0V1256.1H1049.9V1251.7H1058.8V1247.3H1063.2V1242.9H1072.1V1238.4H1076.5V1234.0H1085.3V1229.6H1089.8V1225.1H1098.6V1220.7H1103.1V1216.3H1111.9V1211.8H1142.9V1216.3H1182.8V1220.7H1227.1V1225.1H1258.1V1229.6H1280.3V1234.0H1302.4V1238.4H1329.0V1242.9H1351.1V1247.3H1373.3V1251.7H1399.9V1256.1H1422.0V1260.6H1439.8V1256.1H1453.0V1251.7H1461.9V1242.9H1466.3V1238.4H1470.8V1234.0H1475.2V1229.6H1479.6V1225.1H1484.0V1220.7H1488.5V1216.3H1492.9V1211.8H1497.3V1207.4H1501.8V1203.0H1506.2V1198.6H1488.5V1194.1H1466.3V1189.7H1444.2V1185.3H1417.6V1180.8H1395.4V1176.4H1373.3V1172.0H1351.1V1167.5H1324.6V1163.1H1302.4V1158.7H1280.3V1154.3H1253.7V1149.8H1231.5V1145.4H1209.4V1141.0H1182.8ZM1337.9 786.6H1333.4V795.4H1351.1V799.9H1364.4V804.3H1368.9V808.7H1373.3V813.1H1382.2V817.6H1386.6V822.0H1391.0V826.4H1395.4V830.9H1399.9V835.3H1408.7V839.7H1413.2V844.2H1417.6V848.6H1422.0V853.0H1430.9V857.4H1435.3V861.9H1439.8V866.3H1444.2V870.7H1448.6V875.2H1457.5V879.6H1461.9V884.0H1466.3V888.5H1470.8V897.3H1475.2V928.3H1479.6V959.3H1484.0V985.9H1488.5V1016.9H1492.9V1047.9H1497.3V1078.9H1501.8V1110.0H1506.2V1141.0H1510.6V1167.5H1515.1V1180.8H1519.5V1172.0H1523.9V1167.5H1528.3V1158.7H1532.8V1149.8H1537.2V1141.0H1541.6V1136.5H1546.1V1127.7H1550.5V1118.8H1554.9V1110.0H1559.4V1105.5H1563.8V1096.7H1568.2V1087.8H1572.6V1078.9H1577.1V1070.1H1581.5V1065.7H1585.9V1056.8H1590.4V1047.9H1594.8V1039.1H1599.2V1034.6H1603.7V1025.8H1608.1V1016.9H1612.5V1008.1H1616.9V999.2H1621.4V994.8H1625.8V985.9H1630.2V977.1H1634.7V968.2H1639.1V963.8H1643.5V954.9H1648.0V946.0H1652.4V937.2H1656.8V928.3H1661.2V923.9H1665.7V915.0H1670.1V906.2H1674.5V897.3H1679.0V892.9H1683.4V884.0H1687.8V875.2H1692.3V866.3H1696.7V861.9H1701.1V853.0H1705.5V844.2H1710.0V835.3H1714.4V826.4H1718.8V822.0H1723.3V813.1H1727.7V804.3H1732.1V795.4H1736.6V791.0H1741.0V782.1H1745.4V773.3H1749.8V764.4H1754.3V755.6H1741.0V751.1H1727.7V746.7H1714.4V742.3H1696.7V737.8H1683.4V733.4H1670.1V729.0H1656.8V724.5H1643.5V720.1H1630.2V715.7H1612.5V711.3H1599.2V706.8H1585.9V711.3H1581.5V715.7H1577.1V724.5H1572.6V729.0H1568.2V737.8H1563.8V746.7H1559.4V751.1H1554.9V760.0H1550.5V764.4H1546.1V773.3H1541.6V777.7H1537.2V786.6H1532.8V795.4H1528.3V799.9H1523.9V808.7H1519.5V813.1H1515.1V822.0H1510.6V830.9H1506.2V835.3H1501.8V844.2H1497.3V848.6H1488.5V844.2H1484.0V839.7H1479.6V830.9H1475.2V826.4H1470.8V817.6H1466.3V813.1H1461.9V804.3H1457.5V799.9H1453.0V795.4H1448.6V786.6H1444.2V782.1H1439.8V773.3H1435.3V768.8H1430.9V760.0H1426.5V755.6H1422.0V751.1H1382.2V755.6H1368.9V751.1H1351.1V746.7H1333.4V755.6H1337.9ZM1537.2 1025.8H1532.8V994.8H1528.3V963.8H1523.9V932.8H1519.5V901.8H1515.1V884.0H1519.5V875.2H1523.9V870.7H1528.3V861.9H1532.8V857.4H1537.2V848.6H1541.6V839.7H1546.1V835.3H1550.5V826.4H1554.9V822.0H1559.4V813.1H1563.8V804.3H1568.2V799.9H1572.6V791.0H1577.1V786.6H1581.5V777.7H1585.9V773.3H1590.4V764.4H1594.8V755.6H1599.2V751.1H1612.5V755.6H1625.8V760.0H1639.1V764.4H1656.8V768.8H1670.1V773.3H1683.4V777.7H1696.7V782.1H1710.0V786.6H1723.3V791.0H1727.7V795.4H1723.3V804.3H1718.8V813.1H1714.4V822.0H1710.0V826.4H1705.5V835.3H1701.1V844.2H1696.7V853.0H1692.3V857.4H1687.8V866.3H1683.4V875.2H1679.0V884.0H1674.5V892.9H1670.1V897.3H1665.7V906.2H1661.2V915.0H1656.8V923.9H1652.4V928.3H1648.0V937.2H1643.5V946.0H1639.1V954.9H1634.7V963.8H1630.2V968.2H1625.8V977.1H1621.4V985.9H1616.9V994.8H1612.5V999.2H1608.1V1008.1H1603.7V1016.9H1599.2V1025.8H1594.8V1034.6H1590.4V1039.1H1585.9V1047.9H1581.5V1056.8H1577.1V1065.7H1572.6V1070.1H1568.2V1078.9H1563.8V1087.8H1559.4V1096.7H1554.9V1101.1H1550.5V1110.0H1546.1V1083.4H1541.6V1052.4H1537.2Z" fill="#bfff00"/>
<path d="M1023.3 1149.8H1018.9V1154.3H1010.0V1158.7H1005.6V1163.1H996.7V1167.5H992.3V1172.0H983.5V1176.4H974.6V1180.8H970.2V1185.3H961.3V1189.7H956.9V1194.1H948.0V1198.6H943.6V1203.0H934.7V1207.4H930.3V1211.8H921.4V1216.3H912.6V1220.7H908.1V1225.1H899.3V1229.6H894.9V1234.0H886.0V1238.4H881.6V1242.9H872.7V1247.3H868.3V1251.7H850.6V1247.3H837.3V1242.9H824.0V1238.4H810.7V1234.0H797.4V1229.6H784.1V1225.1H770.8V1220.7H757.5V1216.3H744.2V1211.8H730.9V1207.4H717.7V1203.0H704.4V1198.6H691.1V1194.1H677.8V1189.7H664.5V1185.3H651.2V1180.8H637.9V1176.4H624.6V1172.0H611.3V1167.5H602.5V1172.0H606.9V1176.4H611.3V1180.8H615.8V1185.3H620.2V1189.7H624.6V1194.1H629.1V1198.6H633.5V1203.0H637.9V1207.4H642.3V1211.8H646.8V1216.3H655.6V1220.7H660.1V1225.1H664.5V1229.6H677.8V1234.0H691.1V1238.4H704.4V1242.9H717.7V1247.3H730.9V1251.7H744.2V1256.1H757.5V1260.6H770.8V1265.0H784.1V1269.4H797.4V1273.9H810.7V1278.3H824.0V1282.7H837.3V1287.2H850.6V1291.6H868.3V1296.0H881.6V1300.4H886.0V1296.0H890.4V1291.6H899.3V1287.2H908.1V1282.7H912.6V1278.3H921.4V1273.9H925.9V1269.4H934.7V1265.0H939.2V1260.6H948.0V1256.1H952.4V1251.7H961.3V1247.3H970.2V1242.9H974.6V1238.4H983.5V1234.0H987.9V1229.6H996.7V1225.1H1001.2V1220.7H1010.0V1216.3H1018.9V1211.8H1023.3V1207.4H1032.2V1203.0H1036.6V1198.6H1045.5V1194.1H1049.9V1189.7H1058.8V1185.3H1063.2V1180.8H1072.1V1176.4H1080.9V1172.0H1085.3V1167.5H1094.2V1163.1H1098.6V1158.7H1107.5V1154.3H1111.9V1149.8H1120.8V1145.4H1125.2V1141.0H1134.1V1136.5H1182.8V1141.0H1209.4V1145.4H1231.5V1149.8H1253.7V1154.3H1280.3V1158.7H1302.4V1163.1H1324.6V1167.5H1351.1V1172.0H1373.3V1176.4H1395.4V1180.8H1417.6V1185.3H1444.2V1189.7H1466.3V1194.1H1488.5V1198.6H1510.6V1189.7H1515.1V1185.3H1519.5V1180.8H1515.1V1167.5H1510.6V1141.0H1506.2V1110.0H1501.8V1078.9H1497.3V1047.9H1492.9V1016.9H1488.5V985.9H1484.0V959.3H1479.6V928.3H1475.2V897.3H1470.8V888.5H1466.3V884.0H1461.9V879.6H1457.5V875.2H1448.6V870.7H1444.2V866.3H1439.8V861.9H1435.3V857.4H1430.9V853.0H1422.0V848.6H1417.6V844.2H1413.2V839.7H1408.7V835.3H1399.9V830.9H1395.4V826.4H1391.0V822.0H1386.6V817.6H1382.2V813.1H1373.3V808.7H1368.9V804.3H1364.4V799.9H1351.1V795.4H1333.4V786.6H1337.9V755.6H1333.4V746.7H1351.1V751.1H1368.9V755.6H1382.2V751.1H1422.0V755.6H1426.5V760.0H1430.9V768.8H1435.3V773.3H1439.8V782.1H1444.2V786.6H1448.6V795.4H1453.0V799.9H1457.5V804.3H1461.9V813.1H1466.3V817.6H1470.8V826.4H1475.2V830.9H1479.6V839.7H1484.0V844.2H1488.5V848.6H1497.3V844.2H1501.8V835.3H1506.2V830.9H1510.6V822.0H1515.1V813.1H1519.5V808.7H1523.9V799.9H1528.3V795.4H1532.8V786.6H1537.2V777.7H1541.6V773.3H1546.1V764.4H1550.5V760.0H1554.9V751.1H1559.4V746.7H1563.8V737.8H1568.2V729.0H1572.6V724.5H1577.1V715.7H1581.5V711.3H1585.9V706.8H1599.2V711.3H1612.5V715.7H1630.2V720.1H1643.5V724.5H1656.8V729.0H1670.1V733.4H1683.4V737.8H1696.7V742.3H1714.4V746.7H1727.7V751.1H1741.0V755.6H1754.3V764.4H1749.8V773.3H1745.4V782.1H1741.0V791.0H1745.4V786.6H1749.8V777.7H1754.3V768.8H1758.7V760.0H1763.1V755.6H1767.6V746.7H1772.0V737.8H1776.4V729.0H1772.0V720.1H1767.6V711.3H1763.1V702.4H1758.7V698.0H1749.8V693.5H1741.0V689.1H1732.1V684.7H1718.8V680.2H1710.0V675.8H1701.1V671.4H1692.3V667.0H1679.0V662.5H1670.1V658.1H1661.2V653.7H1652.4V649.2H1639.1V644.8H1630.2V640.4H1621.4V635.9H1612.5V631.5H1599.2V627.1H1568.2V622.7H1532.8V618.2H1501.8V622.7H1417.6V618.2H1399.9V613.8H1382.2V609.4H1360.0V604.9H1342.3V600.5H1324.6V596.1H1306.8V591.6H1293.6V587.2H1284.7V582.8H1275.8V578.4H1267.0V573.9H1258.1V569.5H1249.3V565.1H1240.4V573.9H1236.0V587.2H1231.5V600.5H1227.1V618.2H1231.5V627.1H1236.0V644.8H1240.4V662.5H1244.8V680.2H1249.3V698.0H1253.7V715.7H1258.1V729.0H1262.5V737.8H1258.1V751.1H1253.7V760.0H1249.3V768.8H1244.8V782.1H1240.4V791.0H1236.0V799.9H1231.5V813.1H1227.1V822.0H1222.7V830.9H1218.2V839.7H1213.8V853.0H1222.7V857.4H1244.8V861.9H1271.4V866.3H1293.6V870.7H1320.1V875.2H1342.3V879.6H1368.9V884.0H1377.7V888.5H1386.6V892.9H1391.0V897.3H1395.4V901.8H1399.9V906.2H1404.3V910.6H1413.2V915.0H1417.6V919.5H1422.0V923.9H1426.5V928.3H1430.9V932.8H1435.3V963.8H1439.8V994.8H1444.2V1021.4H1448.6V1052.4H1453.0V1083.4H1457.5V1092.2H1453.0V1087.8H1422.0V1083.4H1391.0V1078.9H1360.0V1074.5H1329.0V1070.1H1298.0V1065.7H1267.0V1061.2H1236.0V1056.8H1213.8V1052.4H1209.4V1047.9H1205.0V1039.1H1200.5V1034.6H1196.1V1030.2H1191.7V1021.4H1187.2V1016.9H1182.8V1012.5H1178.4V1008.1H1173.9V999.2H1169.5V994.8H1165.1V990.3H1160.7V985.9H1156.2V994.8H1151.8V999.2H1147.4V1008.1H1142.9V1012.5H1138.5V1016.9H1134.1V1025.8H1129.6V1030.2H1125.2V1034.6H1120.8V1043.5H1116.4V1047.9H1111.9V1056.8H1107.5V1061.2H1103.1V1065.7H1098.6V1101.1H1094.2V1105.5H1085.3V1110.0H1080.9V1114.4H1072.1V1118.8H1067.6V1123.2H1058.8V1127.7H1054.3V1132.1H1045.5V1136.5H1036.6V1141.0H1032.2V1145.4H1023.3ZM1656.8 946.0V937.2H1652.4V946.0ZM1648.0 946.0V954.9H1652.4V946.0ZM1648.0 954.9H1643.5V959.3H1648.0ZM1639.1 968.2H1643.5V963.8H1639.1ZM1634.7 977.1H1639.1V968.2H1634.7ZM1630.2 977.1V985.9H1634.7V977.1ZM1630.2 985.9H1625.8V990.3H1630.2ZM1625.8 999.2V994.8H1621.4V999.2ZM1621.4 999.2H1616.9V1008.1H1621.4ZM1612.5 1016.9H1616.9V1008.1H1612.5ZM1608.1 1016.9V1021.4H1612.5V1016.9ZM1603.7 1025.8V1030.2H1608.1V1025.8ZM1599.2 1039.1H1603.7V1034.6H1599.2ZM1594.8 1039.1V1043.5H1599.2V1039.1ZM1590.4 1047.9V1052.4H1594.8V1047.9ZM1590.4 1056.8H1585.9V1061.2H1590.4ZM1585.9 1070.1V1065.7H1581.5V1070.1ZM1577.1 1070.1V1074.5H1581.5V1070.1ZM1577.1 1078.9H1572.6V1083.4H1577.1ZM1572.6 1087.8H1568.2V1092.2H1572.6ZM1568.2 1096.7H1563.8V1101.1H1568.2ZM1554.9 1110.0V1114.4H1559.4V1110.0ZM1550.5 1118.8V1123.2H1554.9V1118.8ZM1550.5 1127.7H1546.1V1132.1H1550.5ZM1541.6 1141.0H1537.2V1145.4H1541.6ZM1537.2 1149.8H1532.8V1154.3H1537.2ZM1519.5 1172.0V1176.4H1523.9V1172.0ZM1727.7 813.1H1723.3V822.0H1727.7V817.6H1732.1V808.7H1736.6V799.9H1741.0V791.0H1736.6V795.4H1732.1V804.3H1727.7ZM1710.0 844.2H1714.4V839.7H1718.8V830.9H1723.3V822.0H1718.8V826.4H1714.4V835.3H1710.0ZM1710.0 844.2H1705.5V853.0H1710.0ZM1701.1 861.9H1705.5V853.0H1701.1ZM1701.1 870.7V861.9H1696.7V866.3H1692.3V875.2H1696.7V870.7ZM1687.8 884.0H1692.3V875.2H1687.8ZM1683.4 892.9H1687.8V884.0H1683.4ZM1679.0 901.8H1683.4V892.9H1679.0V897.3H1674.5V906.2H1679.0ZM1670.1 915.0H1674.5V906.2H1670.1ZM1665.7 915.0V923.9H1670.1V915.0ZM1661.2 937.2V932.8H1665.7V923.9H1661.2V928.3H1656.8V937.2Z" fill="#ffef00"/>
<path d="M779.7 511.9V516.3H775.2V525.2H770.8V534.1H766.4V542.9H762.0V551.8H757.5V560.6H762.0V556.2H766.4V547.3H770.8V538.5H775.2V534.1H779.7V525.2H784.1V520.8H788.5V511.9H793.0V503.0H877.1V498.6H1045.5V494.2H1178.4V498.6H1173.9V511.9H1169.5V525.2H1165.1V542.9H1160.7V556.2H1156.2V569.5H1151.8V582.8H1147.4V596.1H1142.9V618.2H1147.4V627.1H1151.8V635.9H1156.2V644.8H1160.7V653.7H1165.1V667.0H1169.5V675.8H1173.9V684.7H1178.4V693.5H1182.8V702.4H1173.9V706.8H1160.7V711.3H1151.8V715.7H1142.9V720.1H1134.1V724.5H1125.2V729.0H1111.9V733.4H1103.1V737.8H1094.2V742.3H1085.3V746.7H1076.5V751.1H1067.6V755.6H1054.3V760.0H1045.5V764.4H1036.6V768.8H1027.8V773.3H1018.9V777.7H1005.6V782.1H996.7V786.6H987.9V791.0H983.5V795.4H974.6V799.9H970.2V804.3H961.3V808.7H956.9V813.1H948.0V817.6H943.6V822.0H934.7V826.4H930.3V830.9H921.4V835.3H917.0V839.7H912.6V844.2H903.7V848.6H899.3V853.0H890.4V857.4H886.0V861.9H877.1V866.3H872.7V870.7H863.8V875.2H859.4V879.6H850.6V884.0H846.1V888.5H837.3V892.9H832.8V897.3H824.0V901.8H819.5V906.2H810.7V910.6H806.3V915.0H797.4V919.5H793.0V923.9H788.5V928.3H779.7V932.8H775.2V937.2H766.4V941.6H762.0V946.0H753.1V950.5H748.7V954.9H757.5V959.3H766.4V963.8H775.2V968.2H784.1V972.6H788.5V977.1H797.4V981.5H806.3V985.9H815.1V990.3H824.0V994.8H832.8V999.2H837.3V1003.6H846.1V1008.1H855.0V1012.5H863.8V1016.9H872.7V1021.4H877.1V1025.8H886.0V1030.2H894.9V1034.6H912.6V1039.1H930.3V1043.5H939.2V1141.0H934.7V1145.4H930.3V1149.8H921.4V1154.3H917.0V1158.7H908.1V1163.1H903.7V1167.5H894.9V1172.0H886.0V1176.4H881.6V1180.8H872.7V1185.3H868.3V1189.7H859.4V1194.1H855.0V1198.6H846.1V1203.0H841.7V1207.4H832.8V1203.0H819.5V1198.6H806.3V1194.1H793.0V1189.7H779.7V1185.3H766.4V1180.8H753.1V1176.4H739.8V1172.0H726.5V1167.5H713.2V1163.1H699.9V1158.7H686.6V1154.3H673.4V1149.8H660.1V1145.4H646.8V1141.0H633.5V1136.5H620.2V1132.1H606.9V1127.7H593.6V1123.2H580.3V1118.8H567.0V1114.4H553.8V1110.0H540.5V1114.4H544.9V1118.8H549.3V1123.2H553.8V1127.7H558.2V1132.1H562.6V1136.5H567.0V1141.0H575.9V1145.4H580.3V1149.8H584.8V1154.3H589.2V1158.7H593.6V1163.1H598.0V1167.5H611.3V1172.0H624.6V1176.4H637.9V1180.8H651.2V1185.3H664.5V1189.7H677.8V1194.1H691.1V1198.6H704.4V1203.0H717.7V1207.4H730.9V1211.8H744.2V1216.3H757.5V1220.7H770.8V1225.1H784.1V1229.6H797.4V1234.0H810.7V1238.4H824.0V1242.9H837.3V1247.3H850.6V1251.7H868.3V1247.3H872.7V1242.9H881.6V1238.4H886.0V1234.0H894.9V1229.6H899.3V1225.1H908.1V1220.7H912.6V1216.3H921.4V1211.8H930.3V1207.4H934.7V1203.0H943.6V1198.6H948.0V1194.1H956.9V1189.7H961.3V1185.3H970.2V1180.8H974.6V1176.4H983.5V1172.0H992.3V1167.5H996.7V1163.1H1005.6V1158.7H1010.0V1154.3H1018.9V1149.8H1023.3V1145.4H1032.2V1141.0H1036.6V1136.5H1045.5V1132.1H1054.3V1127.7H1058.8V1123.2H1067.6V1118.8H1072.1V1114.4H1080.9V1110.0H1085.3V1105.5H1094.2V1101.1H1098.6V1065.7H1103.1V1061.2H1107.5V1056.8H1111.9V1047.9H1116.4V1043.5H1120.8V1034.6H1125.2V1030.2H1129.6V1025.8H1134.1V1016.9H1138.5V1012.5H1142.9V1008.1H1147.4V999.2H1151.8V994.8H1156.2V985.9H1160.7V990.3H1165.1V994.8H1169.5V999.2H1173.9V1008.1H1178.4V1012.5H1182.8V1016.9H1187.2V1021.4H1191.7V1030.2H1196.1V1034.6H1200.5V1039.1H1205.0V1047.9H1209.4V1052.4H1213.8V1056.8H1236.0V1061.2H1267.0V1065.7H1298.0V1070.1H1329.0V1074.5H1360.0V1078.9H1391.0V1083.4H1422.0V1087.8H1453.0V1092.2H1457.5V1083.4H1453.0V1052.4H1448.6V1021.4H1444.2V994.8H1439.8V963.8H1435.3V932.8H1430.9V928.3H1426.5V923.9H1422.0V919.5H1417.6V915.0H1413.2V910.6H1404.3V906.2H1399.9V901.8H1395.4V897.3H1391.0V892.9H1386.6V888.5H1377.7V884.0H1368.9V879.6H1342.3V875.2H1320.1V870.7H1293.6V866.3H1271.4V861.9H1244.8V857.4H1222.7V853.0H1213.8V839.7H1218.2V830.9H1222.7V822.0H1227.1V813.1H1231.5V799.9H1236.0V791.0H1240.4V782.1H1244.8V768.8H1249.3V760.0H1253.7V751.1H1258.1V737.8H1262.5V729.0H1258.1V715.7H1253.7V698.0H1249.3V680.2H1244.8V662.5H1240.4V644.8H1236.0V627.1H1231.5V618.2H1227.1V600.5H1231.5V587.2H1236.0V573.9H1240.4V565.1H1249.3V569.5H1258.1V573.9H1267.0V578.4H1275.8V582.8H1284.7V587.2H1293.6V591.6H1306.8V596.1H1324.6V600.5H1342.3V604.9H1360.0V609.4H1382.2V613.8H1399.9V618.2H1417.6V622.7H1501.8V618.2H1532.8V622.7H1568.2V627.1H1599.2V631.5H1612.5V635.9H1621.4V640.4H1630.2V644.8H1639.1V649.2H1652.4V653.7H1661.2V658.1H1670.1V662.5H1679.0V667.0H1692.3V671.4H1701.1V675.8H1710.0V680.2H1718.8V684.7H1732.1V689.1H1741.0V693.5H1749.8V698.0H1758.7V693.5H1754.3V684.7H1749.8V675.8H1745.4V667.0H1741.0V658.1H1736.6V649.2H1732.1V644.8H1727.7V635.9H1723.3V627.1H1718.8V618.2H1714.4V609.4H1710.0V600.5H1705.5V591.6H1701.1V582.8H1696.7V573.9H1692.3V565.1H1687.8V560.6H1683.4V551.8H1679.0V542.9H1674.5V534.1H1665.7V529.6H1656.8V525.2H1648.0V520.8H1625.8V516.3H1590.4V511.9H1577.1V507.5H1572.6V494.2H1568.2V480.9H1563.8V472.0H1559.4V467.6H1550.5V463.2H1532.8V458.8H1519.5V454.3H1501.8V449.9H1484.0V445.5H1470.8V441.0H1453.0V436.6H1439.8V432.2H1422.0V427.7H1404.3V423.3H1391.0V418.9H1373.3V414.4H1355.6V410.0H1342.3V405.6H1324.6V401.2H1280.3V405.6H1258.1V410.0H1236.0V414.4H1209.4V418.9H1187.2V423.3H1165.1V427.7H1142.9V432.2H1116.4V436.6H1094.2V441.0H1072.1V445.5H1049.9V449.9H1023.3V454.3H1001.2V458.8H979.0V463.2H956.9V467.6H930.3V472.0H908.1V476.5H886.0V480.9H859.4V485.3H837.3V489.8H815.1V494.2H793.0V498.6H788.5V503.0H784.1V511.9ZM1382.2 977.1V972.6H1377.7V963.8H1386.6V968.2H1395.4V977.1ZM753.1 569.5H757.5V560.6H753.1ZM748.7 569.5V573.9H753.1V569.5ZM744.2 578.4V582.8H748.7V578.4ZM540.5 1110.0V1105.5H536.0V1110.0Z" fill="#ffbf00"/>
<path d="M633.5 791.0V799.9H629.1V808.7H624.6V817.6H620.2V826.4H615.8V835.3H611.3V844.2H606.9V848.6H602.5V857.4H598.0V866.3H593.6V875.2H589.2V884.0H584.8V892.9H580.3V901.8H575.9V910.6H571.5V919.5H567.0V928.3H562.6V937.2H558.2V946.0H553.8V954.9H549.3V959.3H544.9V968.2H540.5V977.1H536.0V985.9H531.6V994.8H527.2V1003.6H522.7V1012.5H518.3V1021.4H513.9V1030.2H509.4V1039.1H505.0V1047.9H500.6V1056.8H496.2V1070.1H500.6V1074.5H505.0V1078.9H509.4V1083.4H513.9V1087.8H518.3V1092.2H522.7V1096.7H527.2V1101.1H531.6V1105.5H540.5V1110.0H553.8V1114.4H567.0V1118.8H580.3V1123.2H593.6V1127.7H606.9V1132.1H620.2V1136.5H633.5V1141.0H646.8V1145.4H660.1V1149.8H673.4V1154.3H686.6V1158.7H699.9V1163.1H713.2V1167.5H726.5V1172.0H739.8V1176.4H753.1V1180.8H766.4V1185.3H779.7V1189.7H793.0V1194.1H806.3V1198.6H819.5V1203.0H832.8V1207.4H841.7V1203.0H846.1V1198.6H855.0V1194.1H859.4V1189.7H868.3V1185.3H872.7V1180.8H881.6V1176.4H886.0V1172.0H894.9V1167.5H903.7V1163.1H908.1V1158.7H917.0V1154.3H921.4V1149.8H930.3V1145.4H934.7V1141.0H939.2V1043.5H930.3V1039.1H912.6V1034.6H894.9V1030.2H886.0V1025.8H877.1V1021.4H872.7V1016.9H863.8V1012.5H855.0V1008.1H846.1V1003.6H837.3V999.2H832.8V994.8H824.0V990.3H815.1V985.9H806.3V981.5H797.4V977.1H788.5V972.6H784.1V968.2H775.2V963.8H766.4V959.3H757.5V954.9H748.7V950.5H753.1V946.0H762.0V941.6H766.4V937.2H775.2V932.8H779.7V928.3H788.5V923.9H793.0V919.5H797.4V915.0H806.3V910.6H810.7V906.2H819.5V901.8H824.0V897.3H832.8V892.9H837.3V888.5H846.1V884.0H850.6V879.6H859.4V875.2H863.8V870.7H872.7V866.3H877.1V861.9H886.0V857.4H890.4V853.0H899.3V848.6H903.7V844.2H912.6V839.7H917.0V835.3H921.4V830.9H930.3V826.4H934.7V822.0H943.6V817.6H948.0V813.1H956.9V808.7H961.3V804.3H970.2V799.9H974.6V795.4H983.5V791.0H987.9V786.6H996.7V782.1H1005.6V777.7H1018.9V773.3H1027.8V768.8H1036.6V764.4H1045.5V760.0H1054.3V755.6H1067.6V751.1H1076.5V746.7H1085.3V742.3H1094.2V737.8H1103.1V733.4H1111.9V729.0H1125.2V724.5H1134.1V720.1H1142.9V715.7H1151.8V711.3H1160.7V706.8H1173.9V702.4H1182.8V693.5H1178.4V684.7H1173.9V675.8H1169.5V667.0H1165.1V653.7H1160.7V644.8H1156.2V635.9H1151.8V627.1H1147.4V618.2H1142.9V596.1H1147.4V582.8H1151.8V569.5H1156.2V556.2H1160.7V542.9H1165.1V525.2H1169.5V511.9H1173.9V498.6H1178.4V494.2H1045.5V498.6H877.1V503.0H793.0V511.9H788.5V520.8H784.1V525.2H779.7V534.1H775.2V538.5H770.8V547.3H766.4V556.2H762.0V560.6H757.5V569.5H753.1V573.9H748.7V582.8H744.2V587.2H739.8V596.1H735.4V604.9H730.9V613.8H726.5V622.7H722.1V627.1H717.7V635.9H713.2V644.8H708.8V653.7H704.4V662.5H699.9V671.4H695.5V680.2H691.1V689.1H686.6V698.0H682.2V706.8H677.8V715.7H673.4V724.5H668.9V733.4H664.5V737.8H660.1V746.7H655.6V755.6H651.2V764.4H646.8V773.3H642.3V782.1H637.9V791.0ZM704.4 888.5V892.9H699.9V897.3H691.1V901.8H686.6V906.2H677.8V910.6H673.4V915.0H664.5V919.5H660.1V923.9H651.2V928.3H646.8V932.8H637.9V937.2H633.5V941.6H624.6V946.0H620.2V950.5H611.3V954.9H606.9V959.3H598.0V963.8H593.6V968.2H589.2V972.6H580.3V968.2H584.8V959.3H589.2V950.5H593.6V946.0H598.0V937.2H602.5V932.8H606.9V923.9H611.3V915.0H615.8V910.6H620.2V901.8H624.6V897.3H629.1V888.5H633.5V879.6H637.9V875.2H642.3V866.3H646.8V861.9H651.2V853.0H655.6V844.2H660.1V839.7H664.5V830.9H668.9V826.4H673.4V817.6H677.8V808.7H682.2V804.3H686.6V795.4H691.1V791.0H695.5V782.1H699.9V777.7H704.4V768.8H708.8V760.0H713.2V755.6H717.7V746.7H722.1V742.3H726.5V733.4H730.9V724.5H735.4V720.1H739.8V711.3H744.2V706.8H748.7V698.0H753.1V689.1H757.5V684.7H762.0V675.8H766.4V671.4H770.8V662.5H775.2V653.7H779.7V649.2H784.1V640.4H788.5V635.9H793.0V627.1H797.4V622.7H801.8V613.8H806.3V604.9H810.7V600.5H815.1V591.6H819.5V587.2H824.0V578.4H828.4V569.5H832.8V565.1H837.3V556.2H841.7V551.8H846.1V542.9H912.6V538.5H1076.5V547.3H1072.1V565.1H1067.6V578.4H1063.2V591.6H1058.8V613.8H1063.2V627.1H1067.6V635.9H1072.1V644.8H1076.5V653.7H1080.9V662.5H1072.1V667.0H1063.2V671.4H1054.3V675.8H1045.5V680.2H1032.2V684.7H1023.3V689.1H1014.5V693.5H1005.6V698.0H996.7V702.4H983.5V706.8H974.6V711.3H965.7V715.7H961.3V720.1H952.4V724.5H948.0V729.0H939.2V733.4H934.7V737.8H925.9V742.3H921.4V746.7H912.6V751.1H908.1V755.6H899.3V760.0H894.9V764.4H886.0V768.8H881.6V773.3H872.7V777.7H868.3V782.1H859.4V786.6H855.0V791.0H846.1V795.4H841.7V799.9H837.3V804.3H828.4V808.7H824.0V813.1H815.1V817.6H810.7V822.0H801.8V826.4H797.4V830.9H788.5V835.3H784.1V839.7H775.2V844.2H770.8V848.6H762.0V853.0H757.5V857.4H748.7V861.9H744.2V866.3H735.4V870.7H730.9V875.2H722.1V879.6H717.7V884.0H713.2V888.5ZM580.3 977.1H575.9V972.6H580.3ZM1568.2 494.2H1572.6V507.5H1577.1V511.9H1590.4V516.3H1625.8V520.8H1648.0V525.2H1656.8V529.6H1665.7V534.1H1670.1V525.2H1665.7V516.3H1661.2V507.5H1656.8V498.6H1652.4V494.2H1648.0V489.8H1630.2V485.3H1616.9V480.9H1599.2V476.5H1581.5V472.0H1568.2V467.6H1559.4V472.0H1563.8V480.9H1568.2ZM1395.4 968.2H1386.6V963.8H1377.7V972.6H1382.2V977.1H1395.4Z" fill="#ff8000"/>
<path d="M660.1 844.2H655.6V853.0H651.2V861.9H646.8V866.3H642.3V875.2H637.9V879.6H633.5V888.5H629.1V897.3H624.6V901.8H620.2V910.6H615.8V915.0H611.3V923.9H606.9V932.8H602.5V937.2H598.0V946.0H593.6V950.5H589.2V959.3H584.8V968.2H580.3V972.6H589.2V968.2H593.6V963.8H598.0V959.3H606.9V954.9H611.3V950.5H620.2V946.0H624.6V941.6H633.5V937.2H637.9V932.8H646.8V928.3H651.2V923.9H660.1V919.5H664.5V915.0H673.4V910.6H677.8V906.2H686.6V901.8H691.1V897.3H699.9V892.9H704.4V888.5H713.2V884.0H717.7V879.6H722.1V875.2H730.9V870.7H735.4V866.3H744.2V861.9H748.7V857.4H757.5V853.0H762.0V848.6H770.8V844.2H775.2V839.7H784.1V835.3H788.5V830.9H797.4V826.4H801.8V822.0H810.7V817.6H815.1V813.1H824.0V808.7H828.4V804.3H837.3V799.9H841.7V795.4H846.1V791.0H855.0V786.6H859.4V782.1H868.3V777.7H872.7V773.3H881.6V768.8H886.0V764.4H894.9V760.0H899.3V755.6H908.1V751.1H912.6V746.7H921.4V742.3H925.9V737.8H934.7V733.4H939.2V729.0H948.0V724.5H952.4V720.1H961.3V715.7H965.7V711.3H974.6V706.8H983.5V702.4H996.7V698.0H1005.6V693.5H1014.5V689.1H1023.3V684.7H1032.2V680.2H1045.5V675.8H1054.3V671.4H1063.2V667.0H1072.1V662.5H1080.9V653.7H1076.5V644.8H1072.1V635.9H1067.6V627.1H1063.2V613.8H1058.8V591.6H1063.2V578.4H1067.6V565.1H1072.1V547.3H1076.5V538.5H912.6V542.9H846.1V551.8H841.7V556.2H837.3V565.1H832.8V569.5H828.4V578.4H824.0V587.2H819.5V591.6H815.1V600.5H810.7V604.9H806.3V613.8H801.8V622.7H797.4V627.1H793.0V635.9H788.5V640.4H784.1V649.2H779.7V653.7H775.2V662.5H770.8V671.4H766.4V675.8H762.0V684.7H757.5V689.1H753.1V698.0H748.7V706.8H744.2V711.3H739.8V720.1H735.4V724.5H730.9V733.4H726.5V742.3H722.1V746.7H717.7V755.6H713.2V760.0H708.8V768.8H704.4V777.7H699.9V782.1H695.5V791.0H691.1V795.4H686.6V804.3H682.2V808.7H677.8V817.6H673.4V826.4H668.9V830.9H664.5V839.7H660.1ZM810.7 720.1H815.1V715.7H819.5V706.8H824.0V702.4H828.4V693.5H832.8V684.7H837.3V680.2H841.7V671.4H846.1V667.0H850.6V658.1H855.0V653.7H859.4V644.8H863.8V635.9H868.3V631.5H872.7V622.7H877.1V618.2H881.6V609.4H886.0V600.5H890.4V596.1H894.9V587.2H899.3V582.8H948.0V578.4H979.0V587.2H974.6V600.5H970.2V604.9H974.6V613.8H979.0V622.7H974.6V627.1H961.3V631.5H952.4V635.9H943.6V640.4H934.7V644.8H930.3V649.2H921.4V653.7H917.0V658.1H908.1V662.5H903.7V667.0H894.9V671.4H890.4V675.8H886.0V680.2H877.1V684.7H872.7V689.1H863.8V693.5H859.4V698.0H850.6V702.4H846.1V706.8H837.3V711.3H832.8V715.7H824.0V720.1H819.5V724.5H810.7ZM580.3 972.6H575.9V977.1H580.3Z" fill="#ff4000"/>
<path d="M855.0 653.7V658.1H850.6V667.0H846.1V671.4H841.7V680.2H837.3V684.7H832.8V693.5H828.4V702.4H824.0V706.8H819.5V715.7H815.1V720.1H810.7V724.5H819.5V720.1H824.0V715.7H832.8V711.3H837.3V706.8H846.1V702.4H850.6V698.0H859.4V693.5H863.8V689.1H872.7V684.7H877.1V680.2H886.0V675.8H890.4V671.4H894.9V667.0H903.7V662.5H908.1V658.1H917.0V653.7H921.4V649.2H930.3V644.8H934.7V640.4H943.6V635.9H952.4V631.5H961.3V627.1H974.6V622.7H979.0V613.8H974.6V604.9H970.2V600.5H974.6V587.2H979.0V578.4H948.0V582.8H899.3V587.2H894.9V596.1H890.4V600.5H886.0V609.4H881.6V618.2H877.1V622.7H872.7V631.5H868.3V635.9H863.8V644.8H859.4V653.7Z" fill="#ff1000"/>
</g>
<use href="#coast"/>
<use href="#grid"/>
<use href="#frame"/>
<use href="#cbar"/>
<g font-size="56" stroke="#000" stroke-width="2.4" stroke-linejoin="miter">
<text x="787.4" y="545.7" textLength="174" lengthAdjust="spacingAndGlyphs">EOCH</text>
<text x="926.2" y="653.9" textLength="167" lengthAdjust="spacingAndGlyphs">MLDO</text>
<text x="1003.8" y="888.7" textLength="169" lengthAdjust="spacingAndGlyphs">YONK</text>
<text x="1308.1" y="449.6" textLength="150" lengthAdjust="spacingAndGlyphs">DAEJ</text>
<text x="1233.2" y="520.3" textLength="172" lengthAdjust="spacingAndGlyphs">NONS</text>
<text x="1648.5" y="543" textLength="145" lengthAdjust="spacingAndGlyphs">KIMC</text>
<text x="1457.5" y="595.8" textLength="162" lengthAdjust="spacingAndGlyphs">MUJU</text>
<text x="1243.7" y="662.8" textLength="151" lengthAdjust="spacingAndGlyphs">JUNJ</text>
<text x="1181.4" y="751.5" textLength="166" lengthAdjust="spacingAndGlyphs">JUNG</text>
<text x="1658" y="733.8" textLength="85.5" lengthAdjust="spacingAndGlyphs">CH</text>
<text x="1777.8" y="788.5" textLength="175" lengthAdjust="spacingAndGlyphs">CHNG</text>
<text x="1355.6" y="833.3" textLength="176.5" lengthAdjust="spacingAndGlyphs">NAMW</text>
<text x="1163" y="928.3" textLength="166" lengthAdjust="spacingAndGlyphs">KWNJ</text>
<text x="1474.4" y="938.9" textLength="166" lengthAdjust="spacingAndGlyphs">HADG</text>
<text x="1645.9" y="938.9" textLength="126.5" lengthAdjust="spacingAndGlyphs">JINJ</text>
<text x="1390" y="1023.3" textLength="166" lengthAdjust="spacingAndGlyphs">SONC</text>
<text x="953.7" y="1078.6" textLength="166" lengthAdjust="spacingAndGlyphs">MKPO</text>
<text x="489.4" y="1121.4" textLength="175" lengthAdjust="spacingAndGlyphs">HGDO</text>
<text x="819.1" y="1223.7" textLength="155.5" lengthAdjust="spacingAndGlyphs">GASA</text>
<text x="1155" y="1136.6" textLength="155.5" lengthAdjust="spacingAndGlyphs">JAHG</text>
<text x="1508.7" y="1242.2" textLength="147.5" lengthAdjust="spacingAndGlyphs">SORI</text>
<text x="1324" y="1408.5" textLength="171" lengthAdjust="spacingAndGlyphs">GEOM</text>
<text x="1155" y="1630.1" textLength="147.6" lengthAdjust="spacingAndGlyphs">JEJU</text>
<text x="1009.1" y="1614.3" textLength="163" lengthAdjust="spacingAndGlyphs">CHJU</text>
</g>
<polygon points="1607.5,634 1547,743 1668,743" fill="#000" shape-rendering="crispEdges"/>
<text y="208" font-size="211"><tspan x="543.5">(</tspan><tspan x="617.7">b</tspan><tspan x="748">)</tspan></text>
<text x="860.3" y="214" font-size="197" font-weight="700" letter-spacing="-2.4">Case 2</text>
<text x="1921.5" y="256.6" font-size="97.2" font-weight="700">PWV (mm)</text>
<text transform="translate(131,1067.4) rotate(-90)" text-anchor="middle" font-size="125.4" font-weight="700">Latitude (degree)</text>
<text x="1212" y="2077" text-anchor="middle" font-size="125.3" font-weight="700">Longitude (degree)</text>
<text x="353" y="582" text-anchor="end" font-size="104">36</text>
<text x="353" y="990" text-anchor="end" font-size="104">35</text>
<text x="353" y="1395" text-anchor="end" font-size="104">34</text>
<text x="353" y="1787" text-anchor="end" font-size="104">33</text>
<text x="314.5" y="1912" font-size="104" clip-path="url(#c6)">125</text>
<text x="731.8" y="1912" font-size="104" clip-path="url(#c7)">126</text>
<text x="1123.5" y="1912" font-size="104" clip-path="url(#c8)">127</text>
<text x="1515.8" y="1912" font-size="104" clip-path="url(#c9)">128</text>
<text x="1908.3" y="1912" font-size="104" clip-path="url(#c10)">129</text>
<text x="2241" y="573.7" font-size="92">70</text>
<text x="2241" y="974.3" font-size="92">60</text>
<text x="2241" y="1402.8" font-size="92">50</text>
<text x="2241" y="1832" font-size="92">40</text>
</g>
</svg></body></html>
